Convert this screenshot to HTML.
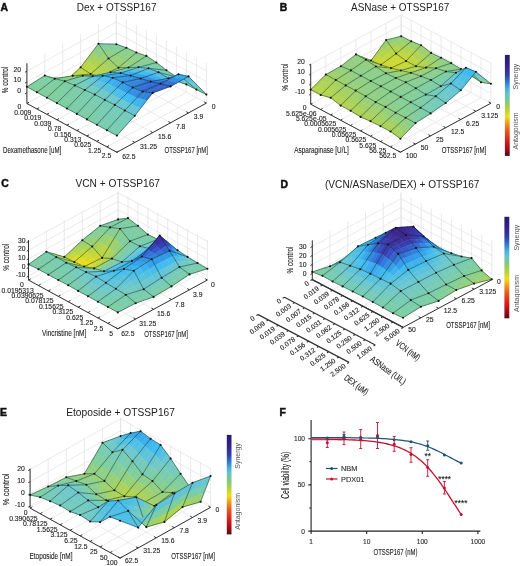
<!DOCTYPE html>
<html><head><meta charset="utf-8"><style>
html,body{margin:0;padding:0;background:#fff;}
body{width:520px;height:566px;overflow:hidden;}
svg{position:absolute;left:0;top:0;font-family:"Liberation Sans",sans-serif;will-change:transform;}
text{stroke:#222;stroke-width:.12px}
text.t{stroke:none}
polygon{fill:currentColor;stroke:currentColor;stroke-width:.5}
</style></head><body>
<svg width="520" height="566" viewBox="0 0 520 566">
<rect width="520" height="566" fill="#fff"/>
<path d="M116.4 54.3L116.4 14.1M98.5 64.1L98.5 23.9M80.6 74.0L80.6 33.8M62.7 83.8L62.7 43.6M44.8 93.7L44.8 53.5M26.9 103.5L26.9 63.3M116.4 43.5L26.9 92.8M116.4 32.8L26.9 82.0M116.4 22.0L26.9 71.2M116.4 54.3L116.4 14.1M126.4 59.7L126.4 19.5M136.4 65.1L136.4 24.9M146.4 70.6L146.4 30.4M156.4 76.0L156.4 35.8M166.4 81.4L166.4 41.2M176.4 86.8L176.4 46.6M186.4 92.2L186.4 52.0M196.4 97.7L196.4 57.5M206.4 103.1L206.4 62.9M116.4 43.5L206.4 92.3M116.4 32.8L206.4 81.6M116.4 22.0L206.4 70.8M116.4 54.3L26.9 103.5M126.4 59.7L36.9 108.9M136.4 65.1L46.9 114.3M146.4 70.6L56.9 119.8M156.4 76.0L66.9 125.2M166.4 81.4L76.9 130.6M176.4 86.8L86.9 136.0M186.4 92.2L96.9 141.4M196.4 97.7L106.9 146.9M206.4 103.1L116.9 152.3M116.4 54.3L206.4 103.1M98.5 64.1L188.5 112.9M80.6 74.0L170.6 122.8M62.7 83.8L152.7 132.6M44.8 93.7L134.8 142.4M26.9 103.5L116.9 152.3" stroke="#e4e0e0" stroke-width="0.7" fill="none"/>
<path d="M26.9 63.3L26.9 103.5M26.9 103.5L116.9 152.3L206.4 103.1M26.9 92.8l-1.8 1.0M26.9 82.0l-1.8 1.0M26.9 71.2l-1.8 1.0M26.9 103.5l2.1 -1.2M36.9 108.9l2.1 -1.2M46.9 114.3l2.1 -1.2M56.9 119.8l2.1 -1.2M66.9 125.2l2.1 -1.2M76.9 130.6l2.1 -1.2M86.9 136.0l2.1 -1.2M96.9 141.4l2.1 -1.2M106.9 146.9l2.1 -1.2M116.9 152.3l2.1 -1.2M206.4 103.1l-2.2 -1.2M188.5 112.9l-2.2 -1.2M170.6 122.8l-2.2 -1.2M152.7 132.6l-2.2 -1.2M134.8 142.4l-2.2 -1.2M116.9 152.3l-2.2 -1.2" stroke="#333" stroke-width="1" fill="none"/>
<polygon points="116.4,44.2 119.7,45.4 113.8,46.5 110.4,44" color="#7bcda8"/>
<polygon points="110.4,44 113.8,46.5 107.8,47.6 104.5,43.9" color="#7dcda4"/>
<polygon points="104.5,43.9 107.8,47.6 101.8,48.6 98.5,43.7" color="#7ecea0"/>
<polygon points="119.7,45.4 123.1,46.6 117.1,48.9 113.8,46.5" color="#7ecea1"/>
<polygon points="113.8,46.5 117.1,48.9 111.1,51.2 107.8,47.6" color="#82ce9a"/>
<polygon points="107.8,47.6 111.1,51.2 105.2,53.6 101.8,48.6" color="#87ce93"/>
<polygon points="123.1,46.6 126.4,47.8 120.4,51.4 117.1,48.9" color="#83ce99"/>
<polygon points="117.1,48.9 120.4,51.4 114.5,54.9 111.1,51.2" color="#89cf8f"/>
<polygon points="111.1,51.2 114.5,54.9 108.5,58.5 105.2,53.6" color="#90cf85"/>
<path d="M116.4 44.2L126.4 47.8M116.4 44.2L98.5 43.7" stroke="#001810" stroke-opacity="0.5" stroke-width="0.9" fill="none"/>
<circle cx="116.4" cy="44.2" r="1.05" fill="#111"/>
<polygon points="126.4,47.8 129.7,49.3 123.8,53.4 120.4,51.4" color="#87ce93"/>
<polygon points="120.4,51.4 123.8,53.4 117.8,57.5 114.5,54.9" color="#8ecf88"/>
<polygon points="114.5,54.9 117.8,57.5 111.8,61.5 108.5,58.5" color="#96d07b"/>
<polygon points="129.7,49.3 133.1,50.9 127.1,55.5 123.8,53.4" color="#89cf8f"/>
<polygon points="123.8,53.4 127.1,55.5 121.1,60 117.8,57.5" color="#91cf84"/>
<polygon points="117.8,57.5 121.1,60 115.2,64.6 111.8,61.5" color="#99d077"/>
<polygon points="133.1,50.9 136.4,52.5 130.4,57.5 127.1,55.5" color="#8ccf8b"/>
<polygon points="127.1,55.5 130.4,57.5 124.5,62.6 121.1,60" color="#94cf80"/>
<polygon points="121.1,60 124.5,62.6 118.5,67.7 115.2,64.6" color="#9bd072"/>
<path d="M126.4 47.8L108.5 58.5M126.4 47.8L136.4 52.5" stroke="#001810" stroke-opacity="0.5" stroke-width="0.9" fill="none"/>
<circle cx="126.4" cy="47.8" r="1.05" fill="#111"/>
<polygon points="98.5,43.7 101.8,48.6 95.9,55.6 92.5,51.6" color="#8bcf8c"/>
<polygon points="92.5,51.6 95.9,55.6 89.9,62.6 86.6,59.4" color="#a4d164"/>
<polygon points="86.6,59.4 89.9,62.6 83.9,69.6 80.6,67.3" color="#b8d549"/>
<polygon points="101.8,48.6 105.2,53.6 99.2,59.6 95.9,55.6" color="#94cf7e"/>
<polygon points="95.9,55.6 99.2,59.6 93.2,65.7 89.9,62.6" color="#a9d25a"/>
<polygon points="89.9,62.6 93.2,65.7 87.3,71.8 83.9,69.6" color="#bad645"/>
<polygon points="105.2,53.6 108.5,58.5 102.5,63.7 99.2,59.6" color="#9dd16f"/>
<polygon points="99.2,59.6 102.5,63.7 96.6,68.8 93.2,65.7" color="#aed354"/>
<polygon points="93.2,65.7 96.6,68.8 90.6,74 87.3,71.8" color="#bed641"/>
<path d="M98.5 43.7L108.5 58.5M98.5 43.7L80.6 67.3" stroke="#001810" stroke-opacity="0.5" stroke-width="0.9" fill="none"/>
<circle cx="98.5" cy="43.7" r="1.05" fill="#111"/>
<polygon points="136.4,52.5 139.7,53.6 133.8,58.3 130.4,57.5" color="#8dcf8a"/>
<polygon points="130.4,57.5 133.8,58.3 127.8,62.9 124.5,62.6" color="#94cf80"/>
<polygon points="124.5,62.6 127.8,62.9 121.8,67.6 118.5,67.7" color="#9ad074"/>
<polygon points="139.7,53.6 143.1,54.8 137.1,59 133.8,58.3" color="#8ccf8b"/>
<polygon points="133.8,58.3 137.1,59 131.1,63.3 127.8,62.9" color="#91cf84"/>
<polygon points="127.8,62.9 131.1,63.3 125.2,67.6 121.8,67.6" color="#96d07b"/>
<polygon points="143.1,54.8 146.4,55.9 140.4,59.8 137.1,59" color="#8bcf8d"/>
<polygon points="137.1,59 140.4,59.8 134.5,63.6 131.1,63.3" color="#8ecf88"/>
<polygon points="131.1,63.3 134.5,63.6 128.5,67.5 125.2,67.6" color="#92cf83"/>
<path d="M136.4 52.5L118.5 67.7M136.4 52.5L146.4 55.9" stroke="#001810" stroke-opacity="0.5" stroke-width="0.9" fill="none"/>
<circle cx="136.4" cy="52.5" r="1.05" fill="#111"/>
<polygon points="108.5,58.5 111.8,61.5 105.9,66 102.5,63.7" color="#a2d166"/>
<polygon points="102.5,63.7 105.9,66 99.9,70.4 96.6,68.8" color="#b0d452"/>
<polygon points="96.6,68.8 99.9,70.4 93.9,74.8 90.6,74" color="#bdd643"/>
<polygon points="111.8,61.5 115.2,64.6 109.2,68.2 105.9,66" color="#a3d165"/>
<polygon points="105.9,66 109.2,68.2 103.2,71.9 99.9,70.4" color="#aed355"/>
<polygon points="99.9,70.4 103.2,71.9 97.3,75.5 93.9,74.8" color="#b8d548"/>
<polygon points="115.2,64.6 118.5,67.7 112.5,70.5 109.2,68.2" color="#a4d163"/>
<polygon points="109.2,68.2 112.5,70.5 106.6,73.4 103.2,71.9" color="#acd357"/>
<polygon points="103.2,71.9 106.6,73.4 100.6,76.2 97.3,75.5" color="#b3d44e"/>
<path d="M108.5 58.5L118.5 67.7M108.5 58.5L90.6 74.0" stroke="#001810" stroke-opacity="0.5" stroke-width="0.9" fill="none"/>
<circle cx="108.5" cy="58.5" r="1.05" fill="#111"/>
<polygon points="146.4,55.9 149.7,58.1 143.8,61.2 140.4,59.8" color="#8acf8f"/>
<polygon points="140.4,59.8 143.8,61.2 137.8,64.3 134.5,63.6" color="#8acf8e"/>
<polygon points="134.5,63.6 137.8,64.3 131.8,67.4 128.5,67.5" color="#8acf8e"/>
<polygon points="149.7,58.1 153.1,60.3 147.1,62.7 143.8,61.2" color="#88ce92"/>
<polygon points="143.8,61.2 147.1,62.7 141.1,65 137.8,64.3" color="#84ce98"/>
<polygon points="137.8,64.3 141.1,65 135.2,67.4 131.8,67.4" color="#80ce9d"/>
<polygon points="153.1,60.3 156.4,62.5 150.4,64.1 147.1,62.7" color="#85ce95"/>
<polygon points="147.1,62.7 150.4,64.1 144.5,65.7 141.1,65" color="#7ecea1"/>
<polygon points="141.1,65 144.5,65.7 138.5,67.3 135.2,67.4" color="#7bcda9"/>
<path d="M146.4 55.9L128.5 67.5M146.4 55.9L156.4 62.5" stroke="#001810" stroke-opacity="0.5" stroke-width="0.9" fill="none"/>
<circle cx="146.4" cy="55.9" r="1.05" fill="#111"/>
<polygon points="80.6,67.3 83.9,69.6 78,73.4 74.6,72.8" color="#bfd740"/>
<polygon points="74.6,72.8 78,73.4 72,77.3 68.7,78.3" color="#bad645"/>
<polygon points="68.7,78.3 72,77.3 66,81.1 62.7,83.8" color="#b6d54b"/>
<polygon points="83.9,69.6 87.3,71.8 81.3,74 78,73.4" color="#c0d73e"/>
<polygon points="78,73.4 81.3,74 75.3,76.2 72,77.3" color="#bbd644"/>
<polygon points="72,77.3 75.3,76.2 69.4,78.5 66,81.1" color="#b6d54a"/>
<polygon points="87.3,71.8 90.6,74 84.6,74.6 81.3,74" color="#c2d73c"/>
<polygon points="81.3,74 84.6,74.6 78.7,75.2 75.3,76.2" color="#bcd643"/>
<polygon points="75.3,76.2 78.7,75.2 72.7,75.8 69.4,78.5" color="#b7d54a"/>
<path d="M80.6 67.3L90.6 74.0M80.6 67.3L62.7 83.8" stroke="#001810" stroke-opacity="0.5" stroke-width="0.9" fill="none"/>
<circle cx="80.6" cy="67.3" r="1.05" fill="#111"/>
<polygon points="118.5,67.7 121.8,67.6 115.9,70 112.5,70.5" color="#a1d169"/>
<polygon points="112.5,70.5 115.9,70 109.9,72.5 106.6,73.4" color="#a6d25f"/>
<polygon points="106.6,73.4 109.9,72.5 103.9,74.9 100.6,76.2" color="#abd359"/>
<polygon points="121.8,67.6 125.2,67.6 119.2,69.6 115.9,70" color="#99d076"/>
<polygon points="115.9,70 119.2,69.6 113.2,71.6 109.9,72.5" color="#9bd073"/>
<polygon points="109.9,72.5 113.2,71.6 107.3,73.6 103.9,74.9" color="#9cd071"/>
<polygon points="125.2,67.6 128.5,67.5 122.5,69.1 119.2,69.6" color="#92cf82"/>
<polygon points="119.2,69.6 122.5,69.1 116.6,70.7 113.2,71.6" color="#8fcf87"/>
<polygon points="113.2,71.6 116.6,70.7 110.6,72.3 107.3,73.6" color="#8ccf8b"/>
<path d="M118.5 67.7L128.5 67.5M118.5 67.7L100.6 76.2" stroke="#001810" stroke-opacity="0.5" stroke-width="0.9" fill="none"/>
<circle cx="118.5" cy="67.7" r="1.05" fill="#111"/>
<polygon points="156.4,62.5 159.7,65.1 153.8,66 150.4,64.1" color="#82ce99"/>
<polygon points="150.4,64.1 153.8,66 147.8,66.8 144.5,65.7" color="#7bcda8"/>
<polygon points="144.5,65.7 147.8,66.8 141.8,67.7 138.5,67.3" color="#77cbb4"/>
<polygon points="159.7,65.1 163.1,67.7 157.1,67.8 153.8,66" color="#7fce9f"/>
<polygon points="153.8,66 157.1,67.8 151.1,67.9 147.8,66.8" color="#79ccae"/>
<polygon points="147.8,66.8 151.1,67.9 145.2,68 141.8,67.7" color="#74cabd"/>
<polygon points="163.1,67.7 166.4,70.3 160.4,69.7 157.1,67.8" color="#7dcea3"/>
<polygon points="157.1,67.8 160.4,69.7 154.5,69 151.1,67.9" color="#76cbb5"/>
<polygon points="151.1,67.9 154.5,69 148.5,68.3 145.2,68" color="#70c9c7"/>
<path d="M156.4 62.5L138.5 67.3M156.4 62.5L166.4 70.3" stroke="#001810" stroke-opacity="0.5" stroke-width="0.9" fill="none"/>
<circle cx="156.4" cy="62.5" r="1.05" fill="#111"/>
<polygon points="90.6,74 93.9,74.8 88,75.1 84.6,74.6" color="#c0d73f"/>
<polygon points="84.6,74.6 88,75.1 82,75.5 78.7,75.2" color="#b9d547"/>
<polygon points="78.7,75.2 82,75.5 76,75.8 72.7,75.8" color="#b2d44f"/>
<polygon points="93.9,74.8 97.3,75.5 91.3,75.6 88,75.1" color="#b9d547"/>
<polygon points="88,75.1 91.3,75.6 85.3,75.7 82,75.5" color="#b1d451"/>
<polygon points="82,75.5 85.3,75.7 79.4,75.8 76,75.8" color="#a9d25b"/>
<polygon points="97.3,75.5 100.6,76.2 94.6,76.1 91.3,75.6" color="#b2d44f"/>
<polygon points="91.3,75.6 94.6,76.1 88.7,76 85.3,75.7" color="#a9d25b"/>
<polygon points="85.3,75.7 88.7,76 82.7,75.8 79.4,75.8" color="#9dd16f"/>
<path d="M90.6 74.0L100.6 76.2M90.6 74.0L72.7 75.8" stroke="#001810" stroke-opacity="0.5" stroke-width="0.9" fill="none"/>
<circle cx="90.6" cy="74.0" r="1.05" fill="#111"/>
<polygon points="128.5,67.5 131.8,67.4 125.9,69.1 122.5,69.1" color="#86ce94"/>
<polygon points="122.5,69.1 125.9,69.1 119.9,70.8 116.6,70.7" color="#7ecea1"/>
<polygon points="116.6,70.7 119.9,70.8 113.9,72.6 110.6,72.3" color="#7acdaa"/>
<polygon points="131.8,67.4 135.2,67.4 129.2,69.2 125.9,69.1" color="#7bcda9"/>
<polygon points="125.9,69.1 129.2,69.2 123.2,71 119.9,70.8" color="#75cabb"/>
<polygon points="119.9,70.8 123.2,71 117.3,72.8 113.9,72.6" color="#6ec8cc"/>
<polygon points="135.2,67.4 138.5,67.3 132.5,69.2 129.2,69.2" color="#75cabb"/>
<polygon points="129.2,69.2 132.5,69.2 126.6,71.2 123.2,71" color="#67c6d2"/>
<polygon points="123.2,71 126.6,71.2 120.6,73.1 117.3,72.8" color="#4fc0e5"/>
<path d="M128.5 67.5L138.5 67.3M128.5 67.5L110.6 72.3" stroke="#001810" stroke-opacity="0.5" stroke-width="0.9" fill="none"/>
<circle cx="128.5" cy="67.5" r="1.05" fill="#111"/>
<polygon points="166.4,70.3 169.7,72.6 163.8,71.6 160.4,69.7" color="#7ccda6"/>
<polygon points="160.4,69.7 163.8,71.6 157.8,70.6 154.5,69" color="#75cbb9"/>
<polygon points="154.5,69 157.8,70.6 151.8,69.6 148.5,68.3" color="#6ec8cd"/>
<polygon points="169.7,72.6 173.1,74.8 167.1,73.5 163.8,71.6" color="#7ccda6"/>
<polygon points="163.8,71.6 167.1,73.5 161.1,72.2 157.8,70.6" color="#75cabb"/>
<polygon points="157.8,70.6 161.1,72.2 155.2,71 151.8,69.6" color="#6cc8ce"/>
<polygon points="173.1,74.8 176.4,77 170.4,75.4 167.1,73.5" color="#7ccda7"/>
<polygon points="167.1,73.5 170.4,75.4 164.5,73.9 161.1,72.2" color="#74cabc"/>
<polygon points="161.1,72.2 164.5,73.9 158.5,72.3 155.2,71" color="#6ac7d0"/>
<path d="M166.4 70.3L148.5 68.3M166.4 70.3L176.4 77.0" stroke="#001810" stroke-opacity="0.5" stroke-width="0.9" fill="none"/>
<circle cx="166.4" cy="70.3" r="1.05" fill="#111"/>
<polygon points="62.7,83.8 66,81.1 60.1,79.6 56.7,81" color="#acd357"/>
<polygon points="56.7,81 60.1,79.6 54.1,78.1 50.8,78.3" color="#99d077"/>
<polygon points="50.8,78.3 54.1,78.1 48.1,76.5 44.8,75.5" color="#84ce97"/>
<polygon points="66,81.1 69.4,78.5 63.4,78.2 60.1,79.6" color="#acd357"/>
<polygon points="60.1,79.6 63.4,78.2 57.4,77.9 54.1,78.1" color="#99d077"/>
<polygon points="54.1,78.1 57.4,77.9 51.5,77.6 48.1,76.5" color="#84ce97"/>
<polygon points="69.4,78.5 72.7,75.8 66.7,76.8 63.4,78.2" color="#acd357"/>
<polygon points="63.4,78.2 66.7,76.8 60.8,77.7 57.4,77.9" color="#99d077"/>
<polygon points="57.4,77.9 60.8,77.7 54.8,78.7 51.5,77.6" color="#84ce97"/>
<path d="M62.7 83.8L72.7 75.8M62.7 83.8L44.8 75.5" stroke="#001810" stroke-opacity="0.5" stroke-width="0.9" fill="none"/>
<circle cx="62.7" cy="83.8" r="1.05" fill="#111"/>
<polygon points="100.6,76.2 103.9,74.9 98,75.3 94.6,76.1" color="#a8d25d"/>
<polygon points="94.6,76.1 98,75.3 92,75.6 88.7,76" color="#9ad074"/>
<polygon points="88.7,76 92,75.6 86,76 82.7,75.8" color="#8ccf8b"/>
<polygon points="103.9,74.9 107.3,73.6 101.3,74.5 98,75.3" color="#95d07d"/>
<polygon points="98,75.3 101.3,74.5 95.3,75.3 92,75.6" color="#86ce95"/>
<polygon points="92,75.6 95.3,75.3 89.4,76.2 86,76" color="#7bcda8"/>
<polygon points="107.3,73.6 110.6,72.3 104.6,73.6 101.3,74.5" color="#82ce9a"/>
<polygon points="101.3,74.5 104.6,73.6 98.7,75 95.3,75.3" color="#79ccae"/>
<polygon points="95.3,75.3 98.7,75 92.7,76.3 89.4,76.2" color="#73cac0"/>
<path d="M100.6 76.2L110.6 72.3M100.6 76.2L82.7 75.8" stroke="#001810" stroke-opacity="0.5" stroke-width="0.9" fill="none"/>
<circle cx="100.6" cy="76.2" r="1.05" fill="#111"/>
<polygon points="138.5,67.3 141.8,67.7 135.9,69.8 132.5,69.2" color="#70c9c8"/>
<polygon points="132.5,69.2 135.9,69.8 129.9,71.8 126.6,71.2" color="#57c2de"/>
<polygon points="126.6,71.2 129.9,71.8 123.9,73.9 120.6,73.1" color="#3fb7ef"/>
<polygon points="141.8,67.7 145.2,68 139.2,70.3 135.9,69.8" color="#69c7d1"/>
<polygon points="135.9,69.8 139.2,70.3 133.2,72.5 129.9,71.8" color="#50c0e4"/>
<polygon points="129.9,71.8 133.2,72.5 127.3,74.8 123.9,73.9" color="#3cb1ed"/>
<polygon points="145.2,68 148.5,68.3 142.5,70.8 139.2,70.3" color="#60c4d8"/>
<polygon points="139.2,70.3 142.5,70.8 136.6,73.2 133.2,72.5" color="#48beea"/>
<polygon points="133.2,72.5 136.6,73.2 130.6,75.6 127.3,74.8" color="#39abec"/>
<path d="M138.5 67.3L148.5 68.3M138.5 67.3L120.6 73.1" stroke="#001810" stroke-opacity="0.5" stroke-width="0.9" fill="none"/>
<circle cx="138.5" cy="67.3" r="1.05" fill="#111"/>
<polygon points="176.4,77 179.7,79.5 173.8,77.8 170.4,75.4" color="#7bcda7"/>
<polygon points="170.4,75.4 173.8,77.8 167.8,76 164.5,73.9" color="#74cabd"/>
<polygon points="164.5,73.9 167.8,76 161.8,74.3 158.5,72.3" color="#68c6d2"/>
<polygon points="179.7,79.5 183.1,81.9 177.1,80.1 173.8,77.8" color="#7bcda8"/>
<polygon points="173.8,77.8 177.1,80.1 171.1,78.2 167.8,76" color="#73cabf"/>
<polygon points="167.8,76 171.1,78.2 165.2,76.3 161.8,74.3" color="#66c6d3"/>
<polygon points="183.1,81.9 186.4,84.4 180.4,82.4 177.1,80.1" color="#7bcda8"/>
<polygon points="177.1,80.1 180.4,82.4 174.5,80.3 171.1,78.2" color="#73cac0"/>
<polygon points="171.1,78.2 174.5,80.3 168.5,78.3 165.2,76.3" color="#64c5d5"/>
<path d="M176.4 77.0L158.5 72.3M176.4 77.0L186.4 84.4" stroke="#001810" stroke-opacity="0.5" stroke-width="0.9" fill="none"/>
<circle cx="176.4" cy="77.0" r="1.05" fill="#111"/>
<polygon points="72.7,75.8 76,75.8 70.1,77 66.7,76.8" color="#a8d25c"/>
<polygon points="66.7,76.8 70.1,77 64.1,78.3 60.8,77.7" color="#95d07c"/>
<polygon points="60.8,77.7 64.1,78.3 58.1,79.5 54.8,78.7" color="#83ce98"/>
<polygon points="76,75.8 79.4,75.8 73.4,77.3 70.1,77" color="#9dd16f"/>
<polygon points="70.1,77 73.4,77.3 67.4,78.8 64.1,78.3" color="#8fcf87"/>
<polygon points="64.1,78.3 67.4,78.8 61.5,80.3 58.1,79.5" color="#81ce9b"/>
<polygon points="79.4,75.8 82.7,75.8 76.7,77.6 73.4,77.3" color="#92cf81"/>
<polygon points="73.4,77.3 76.7,77.6 70.8,79.4 67.4,78.8" color="#89cf90"/>
<polygon points="67.4,78.8 70.8,79.4 64.8,81.2 61.5,80.3" color="#7fce9e"/>
<path d="M72.7 75.8L82.7 75.8M72.7 75.8L54.8 78.7" stroke="#001810" stroke-opacity="0.5" stroke-width="0.9" fill="none"/>
<circle cx="72.7" cy="75.8" r="1.05" fill="#111"/>
<polygon points="110.6,72.3 113.9,72.6 108,73.8 104.6,73.6" color="#76cbb7"/>
<polygon points="104.6,73.6 108,73.8 102,75 98.7,75" color="#70c9c6"/>
<polygon points="98.7,75 102,75 96,76.2 92.7,76.3" color="#66c6d3"/>
<polygon points="113.9,72.6 117.3,72.8 111.3,73.9 108,73.8" color="#63c5d6"/>
<polygon points="108,73.8 111.3,73.9 105.3,74.9 102,75" color="#5bc3dc"/>
<polygon points="102,75 105.3,74.9 99.4,76 96,76.2" color="#54c1e1"/>
<polygon points="117.3,72.8 120.6,73.1 114.6,74 111.3,73.9" color="#43bdee"/>
<polygon points="111.3,73.9 114.6,74 108.7,74.9 105.3,74.9" color="#42bcef"/>
<polygon points="105.3,74.9 108.7,74.9 102.7,75.8 99.4,76" color="#41bcf0"/>
<path d="M110.6 72.3L120.6 73.1M110.6 72.3L92.7 76.3" stroke="#001810" stroke-opacity="0.5" stroke-width="0.9" fill="none"/>
<circle cx="110.6" cy="72.3" r="1.05" fill="#111"/>
<polygon points="148.5,68.3 151.8,69.6 145.9,72 142.5,70.8" color="#5ac3dd"/>
<polygon points="142.5,70.8 145.9,72 139.9,74.3 136.6,73.2" color="#43bcef"/>
<polygon points="136.6,73.2 139.9,74.3 133.9,76.6 130.6,75.6" color="#36a5ea"/>
<polygon points="151.8,69.6 155.2,71 149.2,73.2 145.9,72" color="#57c2df"/>
<polygon points="145.9,72 149.2,73.2 143.2,75.4 139.9,74.3" color="#40baf0"/>
<polygon points="139.9,74.3 143.2,75.4 137.3,77.6 133.9,76.6" color="#34a0e9"/>
<polygon points="155.2,71 158.5,72.3 152.5,74.4 149.2,73.2" color="#54c1e1"/>
<polygon points="149.2,73.2 152.5,74.4 146.6,76.5 143.2,75.4" color="#3eb6ee"/>
<polygon points="143.2,75.4 146.6,76.5 140.6,78.5 137.3,77.6" color="#329be8"/>
<path d="M148.5 68.3L158.5 72.3M148.5 68.3L130.6 75.6" stroke="#001810" stroke-opacity="0.5" stroke-width="0.9" fill="none"/>
<circle cx="148.5" cy="68.3" r="1.05" fill="#111"/>
<polygon points="186.4,84.4 189.7,86.1 183.8,83.1 180.4,82.4" color="#7acdaa"/>
<polygon points="180.4,82.4 183.8,83.1 177.8,80 174.5,80.3" color="#71c9c3"/>
<polygon points="174.5,80.3 177.8,80 171.8,77 168.5,78.3" color="#5fc4d8"/>
<polygon points="189.7,86.1 193.1,87.9 187.1,83.8 183.8,83.1" color="#79ccae"/>
<polygon points="183.8,83.1 187.1,83.8 181.1,79.7 177.8,80" color="#6fc9c9"/>
<polygon points="177.8,80 181.1,79.7 175.2,75.6 171.8,77" color="#59c2de"/>
<polygon points="193.1,87.9 196.4,89.6 190.4,84.5 187.1,83.8" color="#78ccb1"/>
<polygon points="187.1,83.8 190.4,84.5 184.5,79.4 181.1,79.7" color="#6dc8ce"/>
<polygon points="181.1,79.7 184.5,79.4 178.5,74.3 175.2,75.6" color="#52c1e3"/>
<path d="M186.4 84.4L168.5 78.3M186.4 84.4L196.4 89.6" stroke="#001810" stroke-opacity="0.5" stroke-width="0.9" fill="none"/>
<circle cx="186.4" cy="84.4" r="1.05" fill="#111"/>
<polygon points="44.8,75.5 48.1,76.5 42.2,80.6 38.8,79.3" color="#7dcea3"/>
<polygon points="38.8,79.3 42.2,80.6 36.2,84.6 32.9,83.1" color="#7ecea0"/>
<polygon points="32.9,83.1 36.2,84.6 30.2,88.6 26.9,86.8" color="#81ce9c"/>
<polygon points="48.1,76.5 51.5,77.6 45.5,81.9 42.2,80.6" color="#7dcea3"/>
<polygon points="42.2,80.6 45.5,81.9 39.5,86.2 36.2,84.6" color="#7ecea0"/>
<polygon points="36.2,84.6 39.5,86.2 33.6,90.5 30.2,88.6" color="#81ce9c"/>
<polygon points="51.5,77.6 54.8,78.7 48.8,83.2 45.5,81.9" color="#7dcea3"/>
<polygon points="45.5,81.9 48.8,83.2 42.9,87.7 39.5,86.2" color="#7ecea0"/>
<polygon points="39.5,86.2 42.9,87.7 36.9,92.3 33.6,90.5" color="#81ce9c"/>
<path d="M44.8 75.5L54.8 78.7M26.9 86.8L36.9 92.3M44.8 75.5L26.9 86.8" stroke="#001810" stroke-opacity="0.5" stroke-width="0.9" fill="none"/>
<circle cx="44.8" cy="75.5" r="1.05" fill="#111"/>
<circle cx="26.9" cy="86.8" r="1.05" fill="#111"/>
<polygon points="82.7,75.8 86,76 80.1,78.2 76.7,77.6" color="#83ce98"/>
<polygon points="76.7,77.6 80.1,78.2 74.1,80.4 70.8,79.4" color="#7fce9e"/>
<polygon points="70.8,79.4 74.1,80.4 68.1,82.6 64.8,81.2" color="#7dcea3"/>
<polygon points="86,76 89.4,76.2 83.4,78.8 80.1,78.2" color="#79ccaf"/>
<polygon points="80.1,78.2 83.4,78.8 77.4,81.4 74.1,80.4" color="#7accac"/>
<polygon points="74.1,80.4 77.4,81.4 71.5,84 68.1,82.6" color="#7bcdaa"/>
<polygon points="89.4,76.2 92.7,76.3 86.7,79.4 83.4,78.8" color="#71c9c4"/>
<polygon points="83.4,78.8 86.7,79.4 80.8,82.4 77.4,81.4" color="#75cbba"/>
<polygon points="77.4,81.4 80.8,82.4 74.8,85.4 71.5,84" color="#78ccb0"/>
<path d="M82.7 75.8L92.7 76.3M82.7 75.8L64.8 81.2" stroke="#001810" stroke-opacity="0.5" stroke-width="0.9" fill="none"/>
<circle cx="82.7" cy="75.8" r="1.05" fill="#111"/>
<polygon points="120.6,73.1 123.9,73.9 118,74.8 114.6,74" color="#39aaec"/>
<polygon points="114.6,74 118,74.8 112,75.6 108.7,74.9" color="#3aadec"/>
<polygon points="108.7,74.9 112,75.6 106,76.5 102.7,75.8" color="#3bb0ed"/>
<polygon points="123.9,73.9 127.3,74.8 121.3,75.5 118,74.8" color="#36a5ea"/>
<polygon points="118,74.8 121.3,75.5 115.3,76.3 112,75.6" color="#38a7eb"/>
<polygon points="112,75.6 115.3,76.3 109.4,77.1 106,76.5" color="#39aaec"/>
<polygon points="127.3,74.8 130.6,75.6 124.6,76.3 121.3,75.5" color="#349fe9"/>
<polygon points="121.3,75.5 124.6,76.3 118.7,77 115.3,76.3" color="#35a2ea"/>
<polygon points="115.3,76.3 118.7,77 112.7,77.7 109.4,77.1" color="#36a5ea"/>
<path d="M120.6 73.1L130.6 75.6M120.6 73.1L102.7 75.8" stroke="#001810" stroke-opacity="0.5" stroke-width="0.9" fill="none"/>
<circle cx="120.6" cy="73.1" r="1.05" fill="#111"/>
<polygon points="158.5,72.3 161.8,74.3 155.9,76 152.5,74.4" color="#51c0e4"/>
<polygon points="152.5,74.4 155.9,76 149.9,77.8 146.6,76.5" color="#3cb2ee"/>
<polygon points="146.6,76.5 149.9,77.8 143.9,79.6 140.6,78.5" color="#3295e5"/>
<polygon points="161.8,74.3 165.2,76.3 159.2,77.7 155.9,76" color="#4ec0e6"/>
<polygon points="155.9,76 159.2,77.7 153.2,79.2 149.9,77.8" color="#3aaeec"/>
<polygon points="149.9,77.8 153.2,79.2 147.3,80.6 143.9,79.6" color="#328fe3"/>
<polygon points="165.2,76.3 168.5,78.3 162.5,79.4 159.2,77.7" color="#4bbfe8"/>
<polygon points="159.2,77.7 162.5,79.4 156.6,80.5 153.2,79.2" color="#39a9ec"/>
<polygon points="153.2,79.2 156.6,80.5 150.6,81.6 147.3,80.6" color="#3288e1"/>
<path d="M158.5 72.3L168.5 78.3M158.5 72.3L140.6 78.5" stroke="#001810" stroke-opacity="0.5" stroke-width="0.9" fill="none"/>
<circle cx="158.5" cy="72.3" r="1.05" fill="#111"/>
<polygon points="196.4,89.6 199.7,91.3 193.8,85.8 190.4,84.5" color="#77cbb3"/>
<polygon points="190.4,84.5 193.8,85.8 187.8,80.4 184.5,79.4" color="#6ac7d0"/>
<polygon points="184.5,79.4 187.8,80.4 181.8,75 178.5,74.3" color="#4ebfe6"/>
<polygon points="199.7,91.3 203.1,92.9 197.1,87.2 193.8,85.8" color="#77cbb4"/>
<polygon points="193.8,85.8 197.1,87.2 191.1,81.4 187.8,80.4" color="#68c6d1"/>
<polygon points="187.8,80.4 191.1,81.4 185.2,75.7 181.8,75" color="#4cbfe8"/>
<polygon points="203.1,92.9 206.4,94.6 200.4,88.5 197.1,87.2" color="#77cbb4"/>
<polygon points="197.1,87.2 200.4,88.5 194.5,82.4 191.1,81.4" color="#67c6d2"/>
<polygon points="191.1,81.4 194.5,82.4 188.5,76.4 185.2,75.7" color="#4abee9"/>
<path d="M196.4 89.6L178.5 74.3M196.4 89.6L206.4 94.6M206.4 94.6L188.5 76.4" stroke="#001810" stroke-opacity="0.5" stroke-width="0.9" fill="none"/>
<circle cx="196.4" cy="89.6" r="1.05" fill="#111"/>
<circle cx="206.4" cy="94.6" r="1.05" fill="#111"/>
<polygon points="54.8,78.7 58.1,79.5 52.2,84.4 48.8,83.2" color="#7dcea3"/>
<polygon points="48.8,83.2 52.2,84.4 46.2,89.2 42.9,87.7" color="#7ecea0"/>
<polygon points="42.9,87.7 46.2,89.2 40.2,94.1 36.9,92.3" color="#81ce9c"/>
<polygon points="58.1,79.5 61.5,80.3 55.5,85.5 52.2,84.4" color="#7dcea3"/>
<polygon points="52.2,84.4 55.5,85.5 49.5,90.7 46.2,89.2" color="#7ecea0"/>
<polygon points="46.2,89.2 49.5,90.7 43.6,95.9 40.2,94.1" color="#81ce9c"/>
<polygon points="61.5,80.3 64.8,81.2 58.8,86.7 55.5,85.5" color="#7dcea3"/>
<polygon points="55.5,85.5 58.8,86.7 52.9,92.2 49.5,90.7" color="#7ecea0"/>
<polygon points="49.5,90.7 52.9,92.2 46.9,97.7 43.6,95.9" color="#81ce9c"/>
<path d="M54.8 78.7L64.8 81.2M54.8 78.7L36.9 92.3M36.9 92.3L46.9 97.7" stroke="#001810" stroke-opacity="0.5" stroke-width="0.9" fill="none"/>
<circle cx="54.8" cy="78.7" r="1.05" fill="#111"/>
<circle cx="36.9" cy="92.3" r="1.05" fill="#111"/>
<polygon points="92.7,76.3 96,76.2 90.1,79.7 86.7,79.4" color="#67c6d3"/>
<polygon points="86.7,79.4 90.1,79.7 84.1,83.3 80.8,82.4" color="#71c9c5"/>
<polygon points="80.8,82.4 84.1,83.3 78.1,86.9 74.8,85.4" color="#77cbb4"/>
<polygon points="96,76.2 99.4,76 93.4,80.1 90.1,79.7" color="#5ac3dd"/>
<polygon points="90.1,79.7 93.4,80.1 87.4,84.3 84.1,83.3" color="#6ec8cd"/>
<polygon points="84.1,83.3 87.4,84.3 81.5,88.4 78.1,86.9" color="#76cbb7"/>
<polygon points="99.4,76 102.7,75.8 96.7,80.5 93.4,80.1" color="#4ebfe6"/>
<polygon points="93.4,80.1 96.7,80.5 90.8,85.3 87.4,84.3" color="#66c6d3"/>
<polygon points="87.4,84.3 90.8,85.3 84.8,90 81.5,88.4" color="#75cbba"/>
<path d="M92.7 76.3L102.7 75.8M92.7 76.3L74.8 85.4" stroke="#001810" stroke-opacity="0.5" stroke-width="0.9" fill="none"/>
<circle cx="92.7" cy="76.3" r="1.05" fill="#111"/>
<polygon points="130.6,75.6 133.9,76.6 128,77.5 124.6,76.3" color="#3299e7"/>
<polygon points="124.6,76.3 128,77.5 122,78.4 118.7,77" color="#339ce8"/>
<polygon points="118.7,77 122,78.4 116,79.3 112.7,77.7" color="#349fe9"/>
<polygon points="133.9,76.6 137.3,77.6 131.3,78.6 128,77.5" color="#3293e5"/>
<polygon points="128,77.5 131.3,78.6 125.3,79.7 122,78.4" color="#3296e6"/>
<polygon points="122,78.4 125.3,79.7 119.4,80.8 116,79.3" color="#3299e7"/>
<polygon points="137.3,77.6 140.6,78.5 134.6,79.8 131.3,78.6" color="#328ce2"/>
<polygon points="131.3,78.6 134.6,79.8 128.7,81.1 125.3,79.7" color="#328fe3"/>
<polygon points="125.3,79.7 128.7,81.1 122.7,82.4 119.4,80.8" color="#3293e5"/>
<path d="M130.6 75.6L140.6 78.5M130.6 75.6L112.7 77.7" stroke="#001810" stroke-opacity="0.5" stroke-width="0.9" fill="none"/>
<circle cx="130.6" cy="75.6" r="1.05" fill="#111"/>
<polygon points="168.5,78.3 171.8,77 165.9,78.7 162.5,79.4" color="#46bdec"/>
<polygon points="162.5,79.4 165.9,78.7 159.9,80.5 156.6,80.5" color="#36a4ea"/>
<polygon points="156.6,80.5 159.9,80.5 153.9,82.3 150.6,81.6" color="#3282de"/>
<polygon points="171.8,77 175.2,75.6 169.2,78.1 165.9,78.7" color="#40baf0"/>
<polygon points="165.9,78.7 169.2,78.1 163.2,80.5 159.9,80.5" color="#339de8"/>
<polygon points="159.9,80.5 163.2,80.5 157.3,82.9 153.9,82.3" color="#327adb"/>
<polygon points="175.2,75.6 178.5,74.3 172.5,77.4 169.2,78.1" color="#3db2ee"/>
<polygon points="169.2,78.1 172.5,77.4 166.6,80.5 163.2,80.5" color="#3295e6"/>
<polygon points="163.2,80.5 166.6,80.5 160.6,83.6 157.3,82.9" color="#3273d8"/>
<path d="M168.5 78.3L178.5 74.3M168.5 78.3L150.6 81.6" stroke="#001810" stroke-opacity="0.5" stroke-width="0.9" fill="none"/>
<circle cx="168.5" cy="78.3" r="1.05" fill="#111"/>
<polygon points="64.8,81.2 68.1,82.6 62.2,88.2 58.8,86.7" color="#7dcda4"/>
<polygon points="58.8,86.7 62.2,88.2 56.2,93.9 52.9,92.2" color="#7ecea1"/>
<polygon points="52.9,92.2 56.2,93.9 50.2,99.5 46.9,97.7" color="#80ce9d"/>
<polygon points="68.1,82.6 71.5,84 65.5,89.8 62.2,88.2" color="#7ccda6"/>
<polygon points="62.2,88.2 65.5,89.8 59.5,95.5 56.2,93.9" color="#7dcea2"/>
<polygon points="56.2,93.9 59.5,95.5 53.6,101.3 50.2,99.5" color="#80ce9d"/>
<polygon points="71.5,84 74.8,85.4 68.8,91.3 65.5,89.8" color="#7bcda8"/>
<polygon points="65.5,89.8 68.8,91.3 62.9,97.2 59.5,95.5" color="#7dcea3"/>
<polygon points="59.5,95.5 62.9,97.2 56.9,103.1 53.6,101.3" color="#7fce9e"/>
<path d="M64.8 81.2L74.8 85.4M64.8 81.2L46.9 97.7M46.9 97.7L56.9 103.1" stroke="#001810" stroke-opacity="0.5" stroke-width="0.9" fill="none"/>
<circle cx="64.8" cy="81.2" r="1.05" fill="#111"/>
<circle cx="46.9" cy="97.7" r="1.05" fill="#111"/>
<polygon points="102.7,75.8 106,76.5 100.1,81.5 96.7,80.5" color="#45bded"/>
<polygon points="96.7,80.5 100.1,81.5 94.1,86.5 90.8,85.3" color="#61c4d7"/>
<polygon points="90.8,85.3 94.1,86.5 88.1,91.5 84.8,90" color="#74cabd"/>
<polygon points="106,76.5 109.4,77.1 103.4,82.4 100.1,81.5" color="#41bbf0"/>
<polygon points="100.1,81.5 103.4,82.4 97.4,87.7 94.1,86.5" color="#5dc4da"/>
<polygon points="94.1,86.5 97.4,87.7 91.5,93.1 88.1,91.5" color="#73cac0"/>
<polygon points="109.4,77.1 112.7,77.7 106.7,83.3 103.4,82.4" color="#3eb6ef"/>
<polygon points="103.4,82.4 106.7,83.3 100.8,89 97.4,87.7" color="#59c2dd"/>
<polygon points="97.4,87.7 100.8,89 94.8,94.6 91.5,93.1" color="#71c9c3"/>
<path d="M102.7 75.8L112.7 77.7M102.7 75.8L84.8 90.0" stroke="#001810" stroke-opacity="0.5" stroke-width="0.9" fill="none"/>
<circle cx="102.7" cy="75.8" r="1.05" fill="#111"/>
<polygon points="140.6,78.5 143.9,79.6 138,81.1 134.6,79.8" color="#3285df"/>
<polygon points="134.6,79.8 138,81.1 132,82.6 128.7,81.1" color="#3289e1"/>
<polygon points="128.7,81.1 132,82.6 126,84.1 122.7,82.4" color="#328ce2"/>
<polygon points="143.9,79.6 147.3,80.6 141.3,82.3 138,81.1" color="#327fdd"/>
<polygon points="138,81.1 141.3,82.3 135.3,84 132,82.6" color="#3282de"/>
<polygon points="132,82.6 135.3,84 129.4,85.8 126,84.1" color="#3285df"/>
<polygon points="147.3,80.6 150.6,81.6 144.6,83.6 141.3,82.3" color="#3278da"/>
<polygon points="141.3,82.3 144.6,83.6 138.7,85.5 135.3,84" color="#327bdb"/>
<polygon points="135.3,84 138.7,85.5 132.7,87.5 129.4,85.8" color="#327fdd"/>
<path d="M140.6 78.5L150.6 81.6M140.6 78.5L122.7 82.4" stroke="#001810" stroke-opacity="0.5" stroke-width="0.9" fill="none"/>
<circle cx="140.6" cy="78.5" r="1.05" fill="#111"/>
<polygon points="178.5,74.3 181.8,75 175.9,78.2 172.5,77.4" color="#3aadec"/>
<polygon points="172.5,77.4 175.9,78.2 169.9,81.3 166.6,80.5" color="#3290e4"/>
<polygon points="166.6,80.5 169.9,81.3 163.9,84.5 160.6,83.6" color="#326fd7"/>
<polygon points="181.8,75 185.2,75.7 179.2,78.9 175.9,78.2" color="#39abec"/>
<polygon points="175.9,78.2 179.2,78.9 173.2,82.2 169.9,81.3" color="#328fe3"/>
<polygon points="169.9,81.3 173.2,82.2 167.3,85.5 163.9,84.5" color="#326fd6"/>
<polygon points="185.2,75.7 188.5,76.4 182.5,79.7 179.2,78.9" color="#38a9eb"/>
<polygon points="179.2,78.9 182.5,79.7 176.6,83.1 173.2,82.2" color="#328de2"/>
<polygon points="173.2,82.2 176.6,83.1 170.6,86.4 167.3,85.5" color="#326ed6"/>
<path d="M178.5 74.3L188.5 76.4M178.5 74.3L160.6 83.6M188.5 76.4L170.6 86.4" stroke="#001810" stroke-opacity="0.5" stroke-width="0.9" fill="none"/>
<circle cx="178.5" cy="74.3" r="1.05" fill="#111"/>
<circle cx="188.5" cy="76.4" r="1.05" fill="#111"/>
<polygon points="74.8,85.4 78.1,86.9 72.2,92.9 68.8,91.3" color="#7bcdaa"/>
<polygon points="68.8,91.3 72.2,92.9 66.2,98.9 62.9,97.2" color="#7ccda5"/>
<polygon points="62.9,97.2 66.2,98.9 60.2,104.9 56.9,103.1" color="#7ecea0"/>
<polygon points="78.1,86.9 81.5,88.4 75.5,94.5 72.2,92.9" color="#7acdaa"/>
<polygon points="72.2,92.9 75.5,94.5 69.5,100.6 66.2,98.9" color="#7ccda6"/>
<polygon points="66.2,98.9 69.5,100.6 63.6,106.7 60.2,104.9" color="#7dcea2"/>
<polygon points="81.5,88.4 84.8,90 78.8,96.2 75.5,94.5" color="#7acdab"/>
<polygon points="75.5,94.5 78.8,96.2 72.9,102.3 69.5,100.6" color="#7bcda8"/>
<polygon points="69.5,100.6 72.9,102.3 66.9,108.5 63.6,106.7" color="#7ccda4"/>
<path d="M74.8 85.4L84.8 90.0M74.8 85.4L56.9 103.1M56.9 103.1L66.9 108.5" stroke="#001810" stroke-opacity="0.5" stroke-width="0.9" fill="none"/>
<circle cx="74.8" cy="85.4" r="1.05" fill="#111"/>
<circle cx="56.9" cy="103.1" r="1.05" fill="#111"/>
<polygon points="112.7,77.7 116,79.3 110.1,85 106.7,83.3" color="#3cb1ed"/>
<polygon points="106.7,83.3 110.1,85 104.1,90.7 100.8,89" color="#56c2df"/>
<polygon points="100.8,89 104.1,90.7 98.1,96.4 94.8,94.6" color="#71c9c5"/>
<polygon points="116,79.3 119.4,80.8 113.4,86.6 110.1,85" color="#3aadec"/>
<polygon points="110.1,85 113.4,86.6 107.4,92.4 104.1,90.7" color="#54c1e1"/>
<polygon points="104.1,90.7 107.4,92.4 101.5,98.2 98.1,96.4" color="#70c9c6"/>
<polygon points="119.4,80.8 122.7,82.4 116.7,88.2 113.4,86.6" color="#38a8eb"/>
<polygon points="113.4,86.6 116.7,88.2 110.8,94.1 107.4,92.4" color="#51c0e3"/>
<polygon points="107.4,92.4 110.8,94.1 104.8,99.9 101.5,98.2" color="#70c9c7"/>
<path d="M112.7 77.7L122.7 82.4M112.7 77.7L94.8 94.6" stroke="#001810" stroke-opacity="0.5" stroke-width="0.9" fill="none"/>
<circle cx="112.7" cy="77.7" r="1.05" fill="#111"/>
<polygon points="150.6,81.6 153.9,82.3 148,84.4 144.6,83.6" color="#3271d7"/>
<polygon points="144.6,83.6 148,84.4 142,86.6 138.7,85.5" color="#3275d9"/>
<polygon points="138.7,85.5 142,86.6 136,88.8 132.7,87.5" color="#3278da"/>
<polygon points="153.9,82.3 157.3,82.9 151.3,85.3 148,84.4" color="#326bd5"/>
<polygon points="148,84.4 151.3,85.3 145.3,87.7 142,86.6" color="#326ed6"/>
<polygon points="142,86.6 145.3,87.7 139.4,90.1 136,88.8" color="#3271d7"/>
<polygon points="157.3,82.9 160.6,83.6 154.6,86.2 151.3,85.3" color="#3266d1"/>
<polygon points="151.3,85.3 154.6,86.2 148.7,88.9 145.3,87.7" color="#3268d3"/>
<polygon points="145.3,87.7 148.7,88.9 142.7,91.5 139.4,90.1" color="#326bd5"/>
<path d="M150.6 81.6L160.6 83.6M150.6 81.6L132.7 87.5" stroke="#001810" stroke-opacity="0.5" stroke-width="0.9" fill="none"/>
<circle cx="150.6" cy="81.6" r="1.05" fill="#111"/>
<polygon points="84.8,90 88.1,91.5 82.2,97.8 78.8,96.2" color="#7accac"/>
<polygon points="78.8,96.2 82.2,97.8 76.2,104.1 72.9,102.3" color="#7bcda9"/>
<polygon points="72.9,102.3 76.2,104.1 70.2,110.3 66.9,108.5" color="#7ccda6"/>
<polygon points="88.1,91.5 91.5,93.1 85.5,99.4 82.2,97.8" color="#79ccae"/>
<polygon points="82.2,97.8 85.5,99.4 79.5,105.8 76.2,104.1" color="#7acdaa"/>
<polygon points="76.2,104.1 79.5,105.8 73.6,112.1 70.2,110.3" color="#7ccda6"/>
<polygon points="91.5,93.1 94.8,94.6 88.8,101.1 85.5,99.4" color="#78ccb1"/>
<polygon points="85.5,99.4 88.8,101.1 82.9,107.5 79.5,105.8" color="#7accac"/>
<polygon points="79.5,105.8 82.9,107.5 76.9,113.9 73.6,112.1" color="#7ccda7"/>
<path d="M84.8 90.0L94.8 94.6M84.8 90.0L66.9 108.5M66.9 108.5L76.9 113.9" stroke="#001810" stroke-opacity="0.5" stroke-width="0.9" fill="none"/>
<circle cx="84.8" cy="90.0" r="1.05" fill="#111"/>
<circle cx="66.9" cy="108.5" r="1.05" fill="#111"/>
<polygon points="122.7,82.4 126,84.1 120.1,89.9 116.7,88.2" color="#36a3ea"/>
<polygon points="116.7,88.2 120.1,89.9 114.1,95.8 110.8,94.1" color="#4ec0e6"/>
<polygon points="110.8,94.1 114.1,95.8 108.1,101.6 104.8,99.9" color="#6fc9c9"/>
<polygon points="126,84.1 129.4,85.8 123.4,91.6 120.1,89.9" color="#349ee9"/>
<polygon points="120.1,89.9 123.4,91.6 117.4,97.4 114.1,95.8" color="#4abee9"/>
<polygon points="114.1,95.8 117.4,97.4 111.5,103.3 108.1,101.6" color="#6ec8cc"/>
<polygon points="129.4,85.8 132.7,87.5 126.7,93.3 123.4,91.6" color="#3299e7"/>
<polygon points="123.4,91.6 126.7,93.3 120.8,99.1 117.4,97.4" color="#47beec"/>
<polygon points="117.4,97.4 120.8,99.1 114.8,104.9 111.5,103.3" color="#6cc7cf"/>
<path d="M122.7 82.4L132.7 87.5M122.7 82.4L104.8 99.9" stroke="#001810" stroke-opacity="0.5" stroke-width="0.9" fill="none"/>
<circle cx="122.7" cy="82.4" r="1.05" fill="#111"/>
<polygon points="160.6,83.6 163.9,84.5 158,87 154.6,86.2" color="#3363cf"/>
<polygon points="154.6,86.2 158,87 152,89.5 148.7,88.9" color="#3265d1"/>
<polygon points="148.7,88.9 152,89.5 146,92 142.7,91.5" color="#3267d2"/>
<polygon points="163.9,84.5 167.3,85.5 161.3,87.8 158,87" color="#3363cf"/>
<polygon points="158,87 161.3,87.8 155.3,90.1 152,89.5" color="#3364d0"/>
<polygon points="152,89.5 155.3,90.1 149.4,92.5 146,92" color="#3265d1"/>
<polygon points="167.3,85.5 170.6,86.4 164.6,88.6 161.3,87.8" color="#3363ce"/>
<polygon points="161.3,87.8 164.6,88.6 158.7,90.8 155.3,90.1" color="#3363cf"/>
<polygon points="155.3,90.1 158.7,90.8 152.7,92.9 149.4,92.5" color="#3363cf"/>
<path d="M160.6 83.6L170.6 86.4M160.6 83.6L142.7 91.5M170.6 86.4L152.7 92.9" stroke="#001810" stroke-opacity="0.5" stroke-width="0.9" fill="none"/>
<circle cx="160.6" cy="83.6" r="1.05" fill="#111"/>
<circle cx="170.6" cy="86.4" r="1.05" fill="#111"/>
<polygon points="94.8,94.6 98.1,96.4 92.2,102.9 88.8,101.1" color="#78ccb2"/>
<polygon points="88.8,101.1 92.2,102.9 86.2,109.3 82.9,107.5" color="#7accac"/>
<polygon points="82.9,107.5 86.2,109.3 80.2,115.7 76.9,113.9" color="#7ccda7"/>
<polygon points="98.1,96.4 101.5,98.2 95.5,104.6 92.2,102.9" color="#78ccb2"/>
<polygon points="92.2,102.9 95.5,104.6 89.5,111.1 86.2,109.3" color="#7accac"/>
<polygon points="86.2,109.3 89.5,111.1 83.6,117.6 80.2,115.7" color="#7ccda7"/>
<polygon points="101.5,98.2 104.8,99.9 98.8,106.4 95.5,104.6" color="#78ccb2"/>
<polygon points="95.5,104.6 98.8,106.4 92.9,112.9 89.5,111.1" color="#7accac"/>
<polygon points="89.5,111.1 92.9,112.9 86.9,119.4 83.6,117.6" color="#7ccda7"/>
<path d="M94.8 94.6L104.8 99.9M94.8 94.6L76.9 113.9M76.9 113.9L86.9 119.4" stroke="#001810" stroke-opacity="0.5" stroke-width="0.9" fill="none"/>
<circle cx="94.8" cy="94.6" r="1.05" fill="#111"/>
<circle cx="76.9" cy="113.9" r="1.05" fill="#111"/>
<polygon points="132.7,87.5 136,88.8 130.1,94.8 126.7,93.3" color="#3293e5"/>
<polygon points="126.7,93.3 130.1,94.8 124.1,100.8 120.8,99.1" color="#44bdee"/>
<polygon points="120.8,99.1 124.1,100.8 118.1,106.8 114.8,104.9" color="#6ac7d0"/>
<polygon points="136,88.8 139.4,90.1 133.4,96.3 130.1,94.8" color="#328ee3"/>
<polygon points="130.1,94.8 133.4,96.3 127.4,102.5 124.1,100.8" color="#41bcf0"/>
<polygon points="124.1,100.8 127.4,102.5 121.5,108.6 118.1,106.8" color="#69c7d1"/>
<polygon points="139.4,90.1 142.7,91.5 136.7,97.8 133.4,96.3" color="#3288e0"/>
<polygon points="133.4,96.3 136.7,97.8 130.8,104.1 127.4,102.5" color="#40b9ef"/>
<polygon points="127.4,102.5 130.8,104.1 124.8,110.5 121.5,108.6" color="#68c6d2"/>
<path d="M132.7 87.5L142.7 91.5M132.7 87.5L114.8 104.9" stroke="#001810" stroke-opacity="0.5" stroke-width="0.9" fill="none"/>
<circle cx="132.7" cy="87.5" r="1.05" fill="#111"/>
<polygon points="104.8,99.9 108.1,101.6 102.2,108.1 98.8,106.4" color="#77cbb3"/>
<polygon points="98.8,106.4 102.2,108.1 96.2,114.6 92.9,112.9" color="#79ccae"/>
<polygon points="92.9,112.9 96.2,114.6 90.2,121.2 86.9,119.4" color="#7bcda8"/>
<polygon points="108.1,101.6 111.5,103.3 105.5,109.8 102.2,108.1" color="#76cbb6"/>
<polygon points="102.2,108.1 105.5,109.8 99.5,116.4 96.2,114.6" color="#78ccb0"/>
<polygon points="96.2,114.6 99.5,116.4 93.6,123 90.2,121.2" color="#7acdab"/>
<polygon points="111.5,103.3 114.8,104.9 108.8,111.6 105.5,109.8" color="#75cbb9"/>
<polygon points="105.5,109.8 108.8,111.6 102.9,118.2 99.5,116.4" color="#77cbb3"/>
<polygon points="99.5,116.4 102.9,118.2 96.9,124.8 93.6,123" color="#79ccae"/>
<path d="M104.8 99.9L114.8 104.9M104.8 99.9L86.9 119.4M86.9 119.4L96.9 124.8" stroke="#001810" stroke-opacity="0.5" stroke-width="0.9" fill="none"/>
<circle cx="104.8" cy="99.9" r="1.05" fill="#111"/>
<circle cx="86.9" cy="119.4" r="1.05" fill="#111"/>
<polygon points="142.7,91.5 146,92 140.1,98.7 136.7,97.8" color="#3284df"/>
<polygon points="136.7,97.8 140.1,98.7 134.1,105.5 130.8,104.1" color="#3eb6ef"/>
<polygon points="130.8,104.1 134.1,105.5 128.1,112.2 124.8,110.5" color="#67c6d3"/>
<polygon points="146,92 149.4,92.5 143.4,99.6 140.1,98.7" color="#3280dd"/>
<polygon points="140.1,98.7 143.4,99.6 137.4,106.8 134.1,105.5" color="#3db4ee"/>
<polygon points="134.1,105.5 137.4,106.8 131.5,113.9 128.1,112.2" color="#64c5d5"/>
<polygon points="149.4,92.5 152.7,92.9 146.7,100.5 143.4,99.6" color="#327ddc"/>
<polygon points="143.4,99.6 146.7,100.5 140.8,108.1 137.4,106.8" color="#3cb1ed"/>
<polygon points="137.4,106.8 140.8,108.1 134.8,115.7 131.5,113.9" color="#62c5d7"/>
<path d="M142.7 91.5L152.7 92.9M142.7 91.5L124.8 110.5M152.7 92.9L134.8 115.7" stroke="#001810" stroke-opacity="0.5" stroke-width="0.9" fill="none"/>
<circle cx="142.7" cy="91.5" r="1.05" fill="#111"/>
<circle cx="152.7" cy="92.9" r="1.05" fill="#111"/>
<polygon points="114.8,104.9 118.1,106.8 112.2,113.4 108.8,111.6" color="#75cbba"/>
<polygon points="108.8,111.6 112.2,113.4 106.2,120 102.9,118.2" color="#77cbb4"/>
<polygon points="102.9,118.2 106.2,120 100.2,126.6 96.9,124.8" color="#79ccaf"/>
<polygon points="118.1,106.8 121.5,108.6 115.5,115.2 112.2,113.4" color="#75cbba"/>
<polygon points="112.2,113.4 115.5,115.2 109.5,121.8 106.2,120" color="#77cbb4"/>
<polygon points="106.2,120 109.5,121.8 103.6,128.4 100.2,126.6" color="#79ccaf"/>
<polygon points="121.5,108.6 124.8,110.5 118.8,117 115.5,115.2" color="#75cbba"/>
<polygon points="115.5,115.2 118.8,117 112.9,123.6 109.5,121.8" color="#77cbb4"/>
<polygon points="109.5,121.8 112.9,123.6 106.9,130.2 103.6,128.4" color="#79ccaf"/>
<path d="M114.8 104.9L124.8 110.5M114.8 104.9L96.9 124.8M96.9 124.8L106.9 130.2" stroke="#001810" stroke-opacity="0.5" stroke-width="0.9" fill="none"/>
<circle cx="114.8" cy="104.9" r="1.05" fill="#111"/>
<circle cx="96.9" cy="124.8" r="1.05" fill="#111"/>
<polygon points="124.8,110.5 128.1,112.2 122.2,118.8 118.8,117" color="#74cabb"/>
<polygon points="118.8,117 122.2,118.8 116.2,125.4 112.9,123.6" color="#76cbb5"/>
<polygon points="112.9,123.6 116.2,125.4 110.2,132 106.9,130.2" color="#79ccaf"/>
<polygon points="128.1,112.2 131.5,113.9 125.5,120.6 122.2,118.8" color="#74cabd"/>
<polygon points="122.2,118.8 125.5,120.6 119.5,127.2 116.2,125.4" color="#76cbb7"/>
<polygon points="116.2,125.4 119.5,127.2 113.6,133.8 110.2,132" color="#78ccb0"/>
<polygon points="131.5,113.9 134.8,115.7 128.8,122.3 125.5,120.6" color="#73cac0"/>
<polygon points="125.5,120.6 128.8,122.3 122.9,129 119.5,127.2" color="#76cbb8"/>
<polygon points="119.5,127.2 122.9,129 116.9,135.6 113.6,133.8" color="#78ccb0"/>
<path d="M124.8 110.5L134.8 115.7M124.8 110.5L106.9 130.2M106.9 130.2L116.9 135.6M134.8 115.7L116.9 135.6" stroke="#001810" stroke-opacity="0.5" stroke-width="0.9" fill="none"/>
<circle cx="124.8" cy="110.5" r="1.05" fill="#111"/>
<circle cx="134.8" cy="115.7" r="1.05" fill="#111"/>
<circle cx="106.9" cy="130.2" r="1.05" fill="#111"/>
<circle cx="116.9" cy="135.6" r="1.05" fill="#111"/>
<path d="M401.2 55.1L401.2 15.1M386.1 63.3L386.1 23.3M371.0 71.5L371.0 31.5M356.0 79.6L356.0 39.6M340.9 87.8L340.9 47.8M325.8 96.0L325.8 56.0M310.7 104.2L310.7 64.2M401.2 45.1L310.7 94.2M401.2 35.1L310.7 84.2M401.2 25.1L310.7 74.2M401.2 15.1L310.7 64.2M401.2 55.1L401.2 15.1M411.2 60.4L411.2 20.4M421.1 65.8L421.1 25.8M431.1 71.1L431.1 31.1M441.1 76.5L441.1 36.5M451.1 81.8L451.1 41.8M461.0 87.1L461.0 47.1M471.0 92.5L471.0 52.5M481.0 97.8L481.0 57.8M490.9 103.2L490.9 63.2M401.2 45.1L490.9 93.2M401.2 35.1L490.9 83.2M401.2 25.1L490.9 73.2M401.2 15.1L490.9 63.2M401.2 55.1L310.7 104.2M411.2 60.4L320.7 109.5M421.1 65.8L330.7 114.9M431.1 71.1L340.6 120.2M441.1 76.5L350.6 125.5M451.1 81.8L360.6 130.9M461.0 87.1L370.5 136.2M471.0 92.5L380.5 141.6M481.0 97.8L390.5 146.9M490.9 103.2L400.4 152.2M401.2 55.1L490.9 103.2M386.1 63.3L475.9 111.3M371.0 71.5L460.8 119.5M356.0 79.6L445.7 127.7M340.9 87.8L430.6 135.9M325.8 96.0L415.5 144.1M310.7 104.2L400.4 152.2" stroke="#e4e0e0" stroke-width="0.7" fill="none"/>
<path d="M310.7 64.2L310.7 104.2M310.7 104.2L400.4 152.2L490.9 103.2M310.7 94.2l-1.5 0.8M310.7 84.2l-1.5 0.8M310.7 74.2l-1.5 0.8M310.7 64.2l-1.5 0.8M310.7 104.2l1.8 -1.0M320.7 109.5l1.8 -1.0M330.7 114.9l1.8 -1.0M340.6 120.2l1.8 -1.0M350.6 125.5l1.8 -1.0M360.6 130.9l1.8 -1.0M370.5 136.2l1.8 -1.0M380.5 141.6l1.8 -1.0M390.5 146.9l1.8 -1.0M400.4 152.2l1.8 -1.0M490.9 103.2l-2.2 -1.2M475.9 111.3l-2.2 -1.2M460.8 119.5l-2.2 -1.2M445.7 127.7l-2.2 -1.2M430.6 135.9l-2.2 -1.2M415.5 144.1l-2.2 -1.2M400.4 152.2l-2.2 -1.2" stroke="#333" stroke-width="1" fill="none"/>
<polygon points="401.2,36.2 404.5,37.9 399.5,40.1 396.2,37.5" color="#93cf81"/>
<polygon points="396.2,37.5 399.5,40.1 394.5,42.3 391.1,38.7" color="#94cf7f"/>
<polygon points="391.1,38.7 394.5,42.3 389.4,44.5 386.1,40" color="#94cf7e"/>
<polygon points="404.5,37.9 407.8,39.6 402.8,42.8 399.5,40.1" color="#96d07b"/>
<polygon points="399.5,40.1 402.8,42.8 397.8,45.9 394.5,42.3" color="#9ed16e"/>
<polygon points="394.5,42.3 397.8,45.9 392.8,49.1 389.4,44.5" color="#a5d261"/>
<polygon points="407.8,39.6 411.2,41.3 406.1,45.4 402.8,42.8" color="#9ad075"/>
<polygon points="402.8,42.8 406.1,45.4 401.1,49.5 397.8,45.9" color="#a8d25d"/>
<polygon points="397.8,45.9 401.1,49.5 396.1,53.6 392.8,49.1" color="#b3d44f"/>
<path d="M401.2 36.2L411.2 41.3M401.2 36.2L386.1 40.0" stroke="#001810" stroke-opacity="0.5" stroke-width="0.9" fill="none"/>
<circle cx="401.2" cy="36.2" r="1.05" fill="#111"/>
<polygon points="411.2,41.3 414.5,42.6 409.5,47.1 406.1,45.4" color="#9cd071"/>
<polygon points="406.1,45.4 409.5,47.1 404.4,51.6 401.1,49.5" color="#add356"/>
<polygon points="401.1,49.5 404.4,51.6 399.4,56.1 396.1,53.6" color="#bbd645"/>
<polygon points="414.5,42.6 417.8,43.9 412.8,48.8 409.5,47.1" color="#9cd070"/>
<polygon points="409.5,47.1 412.8,48.8 407.8,53.6 404.4,51.6" color="#afd354"/>
<polygon points="404.4,51.6 407.8,53.6 402.7,58.5 399.4,56.1" color="#bed641"/>
<polygon points="417.8,43.9 421.1,45.2 416.1,50.4 412.8,48.8" color="#9dd16f"/>
<polygon points="412.8,48.8 416.1,50.4 411.1,55.7 407.8,53.6" color="#b1d451"/>
<polygon points="407.8,53.6 411.1,55.7 406.1,61 402.7,58.5" color="#c2d73d"/>
<path d="M411.2 41.3L396.1 53.6M411.2 41.3L421.1 45.2" stroke="#001810" stroke-opacity="0.5" stroke-width="0.9" fill="none"/>
<circle cx="411.2" cy="41.3" r="1.05" fill="#111"/>
<polygon points="386.1,40 389.4,44.5 384.4,50.3 381.1,46.8" color="#9ed16e"/>
<polygon points="381.1,46.8 384.4,50.3 379.4,56.2 376.1,53.7" color="#aed355"/>
<polygon points="376.1,53.7 379.4,56.2 374.4,62 371,60.6" color="#bcd643"/>
<polygon points="389.4,44.5 392.8,49.1 387.7,53.8 384.4,50.3" color="#aed355"/>
<polygon points="384.4,50.3 387.7,53.8 382.7,58.6 379.4,56.2" color="#b9d547"/>
<polygon points="379.4,56.2 382.7,58.6 377.7,63.4 374.4,62" color="#c4d83a"/>
<polygon points="392.8,49.1 396.1,53.6 391.1,57.3 387.7,53.8" color="#bcd643"/>
<polygon points="387.7,53.8 391.1,57.3 386,61.1 382.7,58.6" color="#c4d83a"/>
<polygon points="382.7,58.6 386,61.1 381,64.8 377.7,63.4" color="#cbd933"/>
<path d="M386.1 40.0L396.1 53.6M386.1 40.0L371.0 60.6" stroke="#001810" stroke-opacity="0.5" stroke-width="0.9" fill="none"/>
<circle cx="386.1" cy="40.0" r="1.05" fill="#111"/>
<polygon points="421.1,45.2 424.5,47.8 419.4,52.7 416.1,50.4" color="#9dd16f"/>
<polygon points="416.1,50.4 419.4,52.7 414.4,57.7 411.1,55.7" color="#b1d451"/>
<polygon points="411.1,55.7 414.4,57.7 409.4,62.7 406.1,61" color="#c2d73d"/>
<polygon points="424.5,47.8 427.8,50.3 422.8,55 419.4,52.7" color="#9cd070"/>
<polygon points="419.4,52.7 422.8,55 417.7,59.7 414.4,57.7" color="#afd354"/>
<polygon points="414.4,57.7 417.7,59.7 412.7,64.5 409.4,62.7" color="#bed641"/>
<polygon points="427.8,50.3 431.1,52.9 426.1,57.3 422.8,55" color="#9cd071"/>
<polygon points="422.8,55 426.1,57.3 421.1,61.8 417.7,59.7" color="#add356"/>
<polygon points="417.7,59.7 421.1,61.8 416,66.2 412.7,64.5" color="#bbd645"/>
<path d="M421.1 45.2L406.1 61.0M421.1 45.2L431.1 52.9" stroke="#001810" stroke-opacity="0.5" stroke-width="0.9" fill="none"/>
<circle cx="421.1" cy="45.2" r="1.05" fill="#111"/>
<polygon points="396.1,53.6 399.4,56.1 394.4,59.3 391.1,57.3" color="#c5d839"/>
<polygon points="391.1,57.3 394.4,59.3 389.4,62.6 386,61.1" color="#cad934"/>
<polygon points="386,61.1 389.4,62.6 384.3,65.9 381,64.8" color="#cfd931"/>
<polygon points="399.4,56.1 402.7,58.5 397.7,61.4 394.4,59.3" color="#c8d836"/>
<polygon points="394.4,59.3 397.7,61.4 392.7,64.2 389.4,62.6" color="#cbd934"/>
<polygon points="389.4,62.6 392.7,64.2 387.7,67 384.3,65.9" color="#ced931"/>
<polygon points="402.7,58.5 406.1,61 401,63.4 397.7,61.4" color="#cbd934"/>
<polygon points="397.7,61.4 401,63.4 396,65.7 392.7,64.2" color="#ccd933"/>
<polygon points="392.7,64.2 396,65.7 391,68.1 387.7,67" color="#cdd932"/>
<path d="M396.1 53.6L406.1 61.0M396.1 53.6L381.0 64.8" stroke="#001810" stroke-opacity="0.5" stroke-width="0.9" fill="none"/>
<circle cx="396.1" cy="53.6" r="1.05" fill="#111"/>
<polygon points="431.1,52.9 434.4,54.5 429.4,58.6 426.1,57.3" color="#9ad075"/>
<polygon points="426.1,57.3 429.4,58.6 424.4,62.6 421.1,61.8" color="#aad25a"/>
<polygon points="421.1,61.8 424.4,62.6 419.4,66.7 416,66.2" color="#b7d54a"/>
<polygon points="434.4,54.5 437.8,56.1 432.7,59.8 429.4,58.6" color="#96d07b"/>
<polygon points="429.4,58.6 432.7,59.8 427.7,63.5 424.4,62.6" color="#a5d261"/>
<polygon points="424.4,62.6 427.7,63.5 422.7,67.2 419.4,66.7" color="#b2d450"/>
<polygon points="437.8,56.1 441.1,57.7 436.1,61 432.7,59.8" color="#93cf81"/>
<polygon points="432.7,59.8 436.1,61 431,64.3 427.7,63.5" color="#a0d169"/>
<polygon points="427.7,63.5 431,64.3 426,67.6 422.7,67.2" color="#add356"/>
<path d="M431.1 52.9L416.0 66.2M431.1 52.9L441.1 57.7" stroke="#001810" stroke-opacity="0.5" stroke-width="0.9" fill="none"/>
<circle cx="431.1" cy="52.9" r="1.05" fill="#111"/>
<polygon points="371,60.6 374.4,62 369.3,60.1 366,58.5" color="#bcd644"/>
<polygon points="366,58.5 369.3,60.1 364.3,58.1 361,56.5" color="#add356"/>
<polygon points="361,56.5 364.3,58.1 359.3,56.2 356,54.4" color="#9cd071"/>
<polygon points="374.4,62 377.7,63.4 372.7,61.6 369.3,60.1" color="#c1d73e"/>
<polygon points="369.3,60.1 372.7,61.6 367.6,59.8 364.3,58.1" color="#b0d452"/>
<polygon points="364.3,58.1 367.6,59.8 362.6,58 359.3,56.2" color="#9dd16f"/>
<polygon points="377.7,63.4 381,64.8 376,63.1 372.7,61.6" color="#c6d837"/>
<polygon points="372.7,61.6 376,63.1 371,61.5 367.6,59.8" color="#b3d44e"/>
<polygon points="367.6,59.8 371,61.5 365.9,59.8 362.6,58" color="#9ed16d"/>
<path d="M371.0 60.6L381.0 64.8M371.0 60.6L356.0 54.4" stroke="#001810" stroke-opacity="0.5" stroke-width="0.9" fill="none"/>
<circle cx="371.0" cy="60.6" r="1.05" fill="#111"/>
<polygon points="406.1,61 409.4,62.7 404.4,64.8 401,63.4" color="#cad934"/>
<polygon points="401,63.4 404.4,64.8 399.3,66.8 396,65.7" color="#c9d835"/>
<polygon points="396,65.7 399.3,66.8 394.3,68.9 391,68.1" color="#c8d835"/>
<polygon points="409.4,62.7 412.7,64.5 407.7,66.2 404.4,64.8" color="#c5d838"/>
<polygon points="404.4,64.8 407.7,66.2 402.7,68 399.3,66.8" color="#c3d73b"/>
<polygon points="399.3,66.8 402.7,68 397.6,69.7 394.3,68.9" color="#c1d73d"/>
<polygon points="412.7,64.5 416,66.2 411,67.6 407.7,66.2" color="#c0d73e"/>
<polygon points="407.7,66.2 411,67.6 406,69.1 402.7,68" color="#bdd642"/>
<polygon points="402.7,68 406,69.1 400.9,70.5 397.6,69.7" color="#bad646"/>
<path d="M406.1 61.0L416.0 66.2M406.1 61.0L391.0 68.1" stroke="#001810" stroke-opacity="0.5" stroke-width="0.9" fill="none"/>
<circle cx="406.1" cy="61.0" r="1.05" fill="#111"/>
<polygon points="441.1,57.7 444.4,59.5 439.4,62.3 436.1,61" color="#90cf85"/>
<polygon points="436.1,61 439.4,62.3 434.3,65 431,64.3" color="#9bd072"/>
<polygon points="431,64.3 434.3,65 429.3,67.8 426,67.6" color="#a7d25f"/>
<polygon points="444.4,59.5 447.7,61.3 442.7,63.5 439.4,62.3" color="#8fcf87"/>
<polygon points="439.4,62.3 442.7,63.5 437.7,65.8 434.3,65" color="#96d07b"/>
<polygon points="434.3,65 437.7,65.8 432.6,68 429.3,67.8" color="#9ed16d"/>
<polygon points="447.7,61.3 451.1,63.1 446,64.8 442.7,63.5" color="#8dcf8a"/>
<polygon points="442.7,63.5 446,64.8 441,66.5 437.7,65.8" color="#91cf84"/>
<polygon points="437.7,65.8 441,66.5 436,68.2 432.6,68" color="#96d07c"/>
<path d="M441.1 57.7L426.0 67.6M441.1 57.7L451.1 63.1" stroke="#001810" stroke-opacity="0.5" stroke-width="0.9" fill="none"/>
<circle cx="441.1" cy="57.7" r="1.05" fill="#111"/>
<polygon points="381,64.8 384.3,65.9 379.3,64.6 376,63.1" color="#c7d836"/>
<polygon points="376,63.1 379.3,64.6 374.3,63.3 371,61.5" color="#b4d44d"/>
<polygon points="371,61.5 374.3,63.3 369.3,62 365.9,59.8" color="#9fd16c"/>
<polygon points="384.3,65.9 387.7,67 382.6,66.1 379.3,64.6" color="#c6d837"/>
<polygon points="379.3,64.6 382.6,66.1 377.6,65.2 374.3,63.3" color="#b3d44e"/>
<polygon points="374.3,63.3 377.6,65.2 372.6,64.3 369.3,62" color="#9ed16d"/>
<polygon points="387.7,67 391,68.1 386,67.6 382.6,66.1" color="#c4d839"/>
<polygon points="382.6,66.1 386,67.6 380.9,67.1 377.6,65.2" color="#b2d450"/>
<polygon points="377.6,65.2 380.9,67.1 375.9,66.5 372.6,64.3" color="#9ed16d"/>
<path d="M381.0 64.8L391.0 68.1M381.0 64.8L365.9 59.8" stroke="#001810" stroke-opacity="0.5" stroke-width="0.9" fill="none"/>
<circle cx="381.0" cy="64.8" r="1.05" fill="#111"/>
<polygon points="416,66.2 419.4,66.7 414.3,68.2 411,67.6" color="#bbd644"/>
<polygon points="411,67.6 414.3,68.2 409.3,69.7 406,69.1" color="#b7d549"/>
<polygon points="406,69.1 409.3,69.7 404.3,71.3 400.9,70.5" color="#b3d44e"/>
<polygon points="419.4,66.7 422.7,67.2 417.6,68.8 414.3,68.2" color="#b6d54b"/>
<polygon points="414.3,68.2 417.6,68.8 412.6,70.4 409.3,69.7" color="#b2d450"/>
<polygon points="409.3,69.7 412.6,70.4 407.6,72 404.3,71.3" color="#aed355"/>
<polygon points="422.7,67.2 426,67.6 421,69.4 417.6,68.8" color="#b0d452"/>
<polygon points="417.6,68.8 421,69.4 415.9,71.1 412.6,70.4" color="#acd357"/>
<polygon points="412.6,70.4 415.9,71.1 410.9,72.8 407.6,72" color="#a8d25c"/>
<path d="M416.0 66.2L426.0 67.6M416.0 66.2L400.9 70.5" stroke="#001810" stroke-opacity="0.5" stroke-width="0.9" fill="none"/>
<circle cx="416.0" cy="66.2" r="1.05" fill="#111"/>
<polygon points="356,54.4 359.3,56.2 354.3,60 350.9,58.4" color="#93cf81"/>
<polygon points="350.9,58.4 354.3,60 349.2,63.8 345.9,62.3" color="#93cf81"/>
<polygon points="345.9,62.3 349.2,63.8 344.2,67.6 340.9,66.2" color="#93cf81"/>
<polygon points="359.3,56.2 362.6,58 357.6,61.7 354.3,60" color="#93cf81"/>
<polygon points="354.3,60 357.6,61.7 352.6,65.3 349.2,63.8" color="#93cf81"/>
<polygon points="349.2,63.8 352.6,65.3 347.5,69 344.2,67.6" color="#93cf81"/>
<polygon points="362.6,58 365.9,59.8 360.9,63.3 357.6,61.7" color="#93cf81"/>
<polygon points="357.6,61.7 360.9,63.3 355.9,66.8 352.6,65.3" color="#93cf81"/>
<polygon points="352.6,65.3 355.9,66.8 350.9,70.4 347.5,69" color="#93cf81"/>
<path d="M356.0 54.4L365.9 59.8M356.0 54.4L340.9 66.2" stroke="#001810" stroke-opacity="0.5" stroke-width="0.9" fill="none"/>
<circle cx="356.0" cy="54.4" r="1.05" fill="#111"/>
<polygon points="451.1,63.1 454.4,65.1 449.3,66.5 446,64.8" color="#8ccf8c"/>
<polygon points="446,64.8 449.3,66.5 444.3,67.9 441,66.5" color="#8dcf89"/>
<polygon points="441,66.5 444.3,67.9 439.3,69.3 436,68.2" color="#8fcf87"/>
<polygon points="454.4,65.1 457.7,67.1 452.7,68.2 449.3,66.5" color="#8bcf8d"/>
<polygon points="449.3,66.5 452.7,68.2 447.6,69.3 444.3,67.9" color="#8bcf8d"/>
<polygon points="444.3,67.9 447.6,69.3 442.6,70.4 439.3,69.3" color="#8bcf8d"/>
<polygon points="457.7,67.1 461,69.1 456,69.9 452.7,68.2" color="#8acf8e"/>
<polygon points="452.7,68.2 456,69.9 451,70.7 447.6,69.3" color="#88cf91"/>
<polygon points="447.6,69.3 451,70.7 445.9,71.5 442.6,70.4" color="#87ce93"/>
<path d="M451.1 63.1L436.0 68.2M451.1 63.1L461.0 69.1" stroke="#001810" stroke-opacity="0.5" stroke-width="0.9" fill="none"/>
<circle cx="451.1" cy="63.1" r="1.05" fill="#111"/>
<polygon points="391,68.1 394.3,68.9 389.3,68.9 386,67.6" color="#c0d73f"/>
<polygon points="386,67.6 389.3,68.9 384.2,68.8 380.9,67.1" color="#afd353"/>
<polygon points="380.9,67.1 384.2,68.8 379.2,68.8 375.9,66.5" color="#9cd071"/>
<polygon points="394.3,68.9 397.6,69.7 392.6,70.1 389.3,68.9" color="#b9d547"/>
<polygon points="389.3,68.9 392.6,70.1 387.6,70.6 384.2,68.8" color="#aad259"/>
<polygon points="384.2,68.8 387.6,70.6 382.5,71 379.2,68.8" color="#98d078"/>
<polygon points="397.6,69.7 400.9,70.5 395.9,71.4 392.6,70.1" color="#b2d450"/>
<polygon points="392.6,70.1 395.9,71.4 390.9,72.3 387.6,70.6" color="#a4d262"/>
<polygon points="387.6,70.6 390.9,72.3 385.9,73.3 382.5,71" color="#94cf7e"/>
<path d="M391.0 68.1L400.9 70.5M391.0 68.1L375.9 66.5" stroke="#001810" stroke-opacity="0.5" stroke-width="0.9" fill="none"/>
<circle cx="391.0" cy="68.1" r="1.05" fill="#111"/>
<polygon points="426,67.6 429.3,67.8 424.3,69.9 421,69.4" color="#a9d25a"/>
<polygon points="421,69.4 424.3,69.9 419.3,71.9 415.9,71.1" color="#a5d261"/>
<polygon points="415.9,71.1 419.3,71.9 414.2,73.9 410.9,72.8" color="#a0d169"/>
<polygon points="429.3,67.8 432.6,68 427.6,70.3 424.3,69.9" color="#a0d16a"/>
<polygon points="424.3,69.9 427.6,70.3 422.6,72.7 419.3,71.9" color="#9cd071"/>
<polygon points="419.3,71.9 422.6,72.7 417.6,75 414.2,73.9" color="#98d077"/>
<polygon points="432.6,68 436,68.2 430.9,70.8 427.6,70.3" color="#96d07b"/>
<polygon points="427.6,70.3 430.9,70.8 425.9,73.5 422.6,72.7" color="#93cf80"/>
<polygon points="422.6,72.7 425.9,73.5 420.9,76.2 417.6,75" color="#90cf85"/>
<path d="M426.0 67.6L436.0 68.2M426.0 67.6L410.9 72.8" stroke="#001810" stroke-opacity="0.5" stroke-width="0.9" fill="none"/>
<circle cx="426.0" cy="67.6" r="1.05" fill="#111"/>
<polygon points="365.9,59.8 369.3,62 364.2,65.4 360.9,63.3" color="#92cf82"/>
<polygon points="360.9,63.3 364.2,65.4 359.2,68.8 355.9,66.8" color="#92cf82"/>
<polygon points="355.9,66.8 359.2,68.8 354.2,72.2 350.9,70.4" color="#91cf83"/>
<polygon points="369.3,62 372.6,64.3 367.6,67.5 364.2,65.4" color="#92cf82"/>
<polygon points="364.2,65.4 367.6,67.5 362.5,70.7 359.2,68.8" color="#91cf85"/>
<polygon points="359.2,68.8 362.5,70.7 357.5,74 354.2,72.2" color="#8fcf86"/>
<polygon points="372.6,64.3 375.9,66.5 370.9,69.6 367.6,67.5" color="#91cf83"/>
<polygon points="367.6,67.5 370.9,69.6 365.8,72.7 362.5,70.7" color="#8fcf86"/>
<polygon points="362.5,70.7 365.8,72.7 360.8,75.8 357.5,74" color="#8dcf8a"/>
<path d="M365.9 59.8L375.9 66.5M365.9 59.8L350.9 70.4" stroke="#001810" stroke-opacity="0.5" stroke-width="0.9" fill="none"/>
<circle cx="365.9" cy="59.8" r="1.05" fill="#111"/>
<polygon points="461,69.1 464.3,71.3 459.3,71.5 456,69.9" color="#89cf90"/>
<polygon points="456,69.9 459.3,71.5 454.3,71.7 451,70.7" color="#85ce96"/>
<polygon points="451,70.7 454.3,71.7 449.3,71.9 445.9,71.5" color="#81ce9b"/>
<polygon points="464.3,71.3 467.7,73.4 462.6,73 459.3,71.5" color="#88cf92"/>
<polygon points="459.3,71.5 462.6,73 457.6,72.6 454.3,71.7" color="#81ce9c"/>
<polygon points="454.3,71.7 457.6,72.6 452.6,72.3 449.3,71.9" color="#7dcda4"/>
<polygon points="467.7,73.4 471,75.5 466,74.5 462.6,73" color="#86ce94"/>
<polygon points="462.6,73 466,74.5 460.9,73.6 457.6,72.6" color="#7ecea1"/>
<polygon points="457.6,72.6 460.9,73.6 455.9,72.7 452.6,72.3" color="#7acdab"/>
<path d="M461.0 69.1L445.9 71.5M461.0 69.1L471.0 75.5" stroke="#001810" stroke-opacity="0.5" stroke-width="0.9" fill="none"/>
<circle cx="461.0" cy="69.1" r="1.05" fill="#111"/>
<polygon points="400.9,70.5 404.3,71.3 399.2,72.5 395.9,71.4" color="#acd357"/>
<polygon points="395.9,71.4 399.2,72.5 394.2,73.6 390.9,72.3" color="#9fd16b"/>
<polygon points="390.9,72.3 394.2,73.6 389.2,74.8 385.9,73.3" color="#92cf83"/>
<polygon points="404.3,71.3 407.6,72 402.6,73.5 399.2,72.5" color="#a7d25e"/>
<polygon points="399.2,72.5 402.6,73.5 397.5,75 394.2,73.6" color="#9cd071"/>
<polygon points="394.2,73.6 397.5,75 392.5,76.4 389.2,74.8" color="#90cf85"/>
<polygon points="407.6,72 410.9,72.8 405.9,74.5 402.6,73.5" color="#a1d168"/>
<polygon points="402.6,73.5 405.9,74.5 400.9,76.3 397.5,75" color="#98d078"/>
<polygon points="397.5,75 400.9,76.3 395.8,78 392.5,76.4" color="#8fcf86"/>
<path d="M400.9 70.5L410.9 72.8M400.9 70.5L385.9 73.3" stroke="#001810" stroke-opacity="0.5" stroke-width="0.9" fill="none"/>
<circle cx="400.9" cy="70.5" r="1.05" fill="#111"/>
<polygon points="340.9,66.2 344.2,67.6 339.2,70.5 335.9,69" color="#95d07d"/>
<polygon points="335.9,69 339.2,70.5 334.1,73.5 330.8,71.8" color="#9ad074"/>
<polygon points="330.8,71.8 334.1,73.5 329.1,76.4 325.8,74.6" color="#9fd16b"/>
<polygon points="344.2,67.6 347.5,69 342.5,72.1 339.2,70.5" color="#95d07d"/>
<polygon points="339.2,70.5 342.5,72.1 337.5,75.1 334.1,73.5" color="#9ad074"/>
<polygon points="334.1,73.5 337.5,75.1 332.4,78.2 329.1,76.4" color="#9fd16b"/>
<polygon points="347.5,69 350.9,70.4 345.8,73.6 342.5,72.1" color="#95d07d"/>
<polygon points="342.5,72.1 345.8,73.6 340.8,76.8 337.5,75.1" color="#9ad074"/>
<polygon points="337.5,75.1 340.8,76.8 335.8,80 332.4,78.2" color="#9fd16b"/>
<path d="M340.9 66.2L350.9 70.4M340.9 66.2L325.8 74.6" stroke="#001810" stroke-opacity="0.5" stroke-width="0.9" fill="none"/>
<circle cx="340.9" cy="66.2" r="1.05" fill="#111"/>
<polygon points="436,68.2 439.3,69.3 434.3,72 430.9,70.8" color="#8fcf87"/>
<polygon points="430.9,70.8 434.3,72 429.2,74.7 425.9,73.5" color="#8dcf8a"/>
<polygon points="425.9,73.5 429.2,74.7 424.2,77.4 420.9,76.2" color="#8bcf8d"/>
<polygon points="439.3,69.3 442.6,70.4 437.6,73.2 434.3,72" color="#8acf8e"/>
<polygon points="434.3,72 437.6,73.2 432.6,75.9 429.2,74.7" color="#89cf90"/>
<polygon points="429.2,74.7 432.6,75.9 427.5,78.7 424.2,77.4" color="#88cf92"/>
<polygon points="442.6,70.4 445.9,71.5 440.9,74.3 437.6,73.2" color="#86ce95"/>
<polygon points="437.6,73.2 440.9,74.3 435.9,77.2 432.6,75.9" color="#85ce95"/>
<polygon points="432.6,75.9 435.9,77.2 430.9,80 427.5,78.7" color="#85ce96"/>
<path d="M436.0 68.2L445.9 71.5M436.0 68.2L420.9 76.2" stroke="#001810" stroke-opacity="0.5" stroke-width="0.9" fill="none"/>
<circle cx="436.0" cy="68.2" r="1.05" fill="#111"/>
<polygon points="375.9,66.5 379.2,68.8 374.2,71.7 370.9,69.6" color="#90cf85"/>
<polygon points="370.9,69.6 374.2,71.7 369.2,74.6 365.8,72.7" color="#8ecf88"/>
<polygon points="365.8,72.7 369.2,74.6 364.1,77.5 360.8,75.8" color="#8ccf8b"/>
<polygon points="379.2,68.8 382.5,71 377.5,73.8 374.2,71.7" color="#8ecf88"/>
<polygon points="374.2,71.7 377.5,73.8 372.5,76.5 369.2,74.6" color="#8dcf8a"/>
<polygon points="369.2,74.6 372.5,76.5 367.5,79.3 364.1,77.5" color="#8ccf8c"/>
<polygon points="382.5,71 385.9,73.3 380.8,75.9 377.5,73.8" color="#8ccf8b"/>
<polygon points="377.5,73.8 380.8,75.9 375.8,78.4 372.5,76.5" color="#8ccf8c"/>
<polygon points="372.5,76.5 375.8,78.4 370.8,81 367.5,79.3" color="#8bcf8d"/>
<path d="M375.9 66.5L385.9 73.3M375.9 66.5L360.8 75.8" stroke="#001810" stroke-opacity="0.5" stroke-width="0.9" fill="none"/>
<circle cx="375.9" cy="66.5" r="1.05" fill="#111"/>
<polygon points="471,75.5 474.3,77.8 469.3,75.5 466,74.5" color="#86ce95"/>
<polygon points="466,74.5 469.3,75.5 464.3,73.3 460.9,73.6" color="#7bcda9"/>
<polygon points="460.9,73.6 464.3,73.3 459.2,71 455.9,72.7" color="#75cbba"/>
<polygon points="474.3,77.8 477.6,80 472.6,76.5 469.3,75.5" color="#86ce95"/>
<polygon points="469.3,75.5 472.6,76.5 467.6,72.9 464.3,73.3" color="#77cbb4"/>
<polygon points="464.3,73.3 467.6,72.9 462.6,69.4 459.2,71" color="#6cc7cf"/>
<polygon points="477.6,80 481,82.3 475.9,77.4 472.6,76.5" color="#86ce95"/>
<polygon points="472.6,76.5 475.9,77.4 470.9,72.6 467.6,72.9" color="#73cabf"/>
<polygon points="467.6,72.9 470.9,72.6 465.9,67.7 462.6,69.4" color="#58c2de"/>
<path d="M471.0 75.5L455.9 72.7M471.0 75.5L481.0 82.3" stroke="#001810" stroke-opacity="0.5" stroke-width="0.9" fill="none"/>
<circle cx="471.0" cy="75.5" r="1.05" fill="#111"/>
<polygon points="410.9,72.8 414.2,73.9 409.2,75.8 405.9,74.5" color="#9bd073"/>
<polygon points="405.9,74.5 409.2,75.8 404.2,77.6 400.9,76.3" color="#94cf7e"/>
<polygon points="400.9,76.3 404.2,77.6 399.2,79.4 395.8,78" color="#8ecf88"/>
<polygon points="414.2,73.9 417.6,75 412.5,77 409.2,75.8" color="#94cf7e"/>
<polygon points="409.2,75.8 412.5,77 407.5,78.9 404.2,77.6" color="#91cf85"/>
<polygon points="404.2,77.6 407.5,78.9 402.5,80.9 399.2,79.4" color="#8dcf8a"/>
<polygon points="417.6,75 420.9,76.2 415.9,78.2 412.5,77" color="#8ecf88"/>
<polygon points="412.5,77 415.9,78.2 410.8,80.3 407.5,78.9" color="#8dcf8a"/>
<polygon points="407.5,78.9 410.8,80.3 405.8,82.3 402.5,80.9" color="#8ccf8c"/>
<path d="M410.9 72.8L420.9 76.2M410.9 72.8L395.8 78.0" stroke="#001810" stroke-opacity="0.5" stroke-width="0.9" fill="none"/>
<circle cx="410.9" cy="72.8" r="1.05" fill="#111"/>
<polygon points="350.9,70.4 354.2,72.2 349.1,75.4 345.8,73.6" color="#94cf7f"/>
<polygon points="345.8,73.6 349.1,75.4 344.1,78.6 340.8,76.8" color="#99d076"/>
<polygon points="340.8,76.8 344.1,78.6 339.1,81.8 335.8,80" color="#9ed16d"/>
<polygon points="354.2,72.2 357.5,74 352.5,77.2 349.1,75.4" color="#91cf84"/>
<polygon points="349.1,75.4 352.5,77.2 347.4,80.4 344.1,78.6" color="#96d07b"/>
<polygon points="344.1,78.6 347.4,80.4 342.4,83.6 339.1,81.8" color="#9bd072"/>
<polygon points="357.5,74 360.8,75.8 355.8,79 352.5,77.2" color="#8fcf87"/>
<polygon points="352.5,77.2 355.8,79 350.8,82.2 347.4,80.4" color="#94cf7f"/>
<polygon points="347.4,80.4 350.8,82.2 345.7,85.4 342.4,83.6" color="#99d076"/>
<path d="M350.9 70.4L360.8 75.8M350.9 70.4L335.8 80.0" stroke="#001810" stroke-opacity="0.5" stroke-width="0.9" fill="none"/>
<circle cx="350.9" cy="70.4" r="1.05" fill="#111"/>
<polygon points="445.9,71.5 449.3,71.9 444.2,75.3 440.9,74.3" color="#7fce9e"/>
<polygon points="440.9,74.3 444.2,75.3 439.2,78.7 435.9,77.2" color="#7fce9e"/>
<polygon points="435.9,77.2 439.2,78.7 434.2,82.1 430.9,80" color="#7fce9e"/>
<polygon points="449.3,71.9 452.6,72.3 447.6,76.2 444.2,75.3" color="#7bcda7"/>
<polygon points="444.2,75.3 447.6,76.2 442.5,80.2 439.2,78.7" color="#7bcda7"/>
<polygon points="439.2,78.7 442.5,80.2 437.5,84.2 434.2,82.1" color="#7bcda7"/>
<polygon points="452.6,72.3 455.9,72.7 450.9,77.2 447.6,76.2" color="#78ccb0"/>
<polygon points="447.6,76.2 450.9,77.2 445.9,81.7 442.5,80.2" color="#78ccb0"/>
<polygon points="442.5,80.2 445.9,81.7 440.8,86.2 437.5,84.2" color="#78ccb0"/>
<path d="M445.9 71.5L455.9 72.7M445.9 71.5L430.9 80.0" stroke="#001810" stroke-opacity="0.5" stroke-width="0.9" fill="none"/>
<circle cx="445.9" cy="71.5" r="1.05" fill="#111"/>
<polygon points="385.9,73.3 389.2,74.8 384.2,77.5 380.8,75.9" color="#8bcf8d"/>
<polygon points="380.8,75.9 384.2,77.5 379.1,80.1 375.8,78.4" color="#8bcf8d"/>
<polygon points="375.8,78.4 379.1,80.1 374.1,82.8 370.8,81" color="#8bcf8d"/>
<polygon points="389.2,74.8 392.5,76.4 387.5,79.1 384.2,77.5" color="#8bcf8d"/>
<polygon points="384.2,77.5 387.5,79.1 382.5,81.8 379.1,80.1" color="#8bcf8d"/>
<polygon points="379.1,80.1 382.5,81.8 377.4,84.5 374.1,82.8" color="#8bcf8d"/>
<polygon points="392.5,76.4 395.8,78 390.8,80.8 387.5,79.1" color="#8bcf8d"/>
<polygon points="387.5,79.1 390.8,80.8 385.8,83.5 382.5,81.8" color="#8bcf8d"/>
<polygon points="382.5,81.8 385.8,83.5 380.8,86.3 377.4,84.5" color="#8bcf8d"/>
<path d="M385.9 73.3L395.8 78.0M385.9 73.3L370.8 81.0" stroke="#001810" stroke-opacity="0.5" stroke-width="0.9" fill="none"/>
<circle cx="385.9" cy="73.3" r="1.05" fill="#111"/>
<polygon points="325.8,74.6 329.1,76.4 324.1,81.4 320.8,79.6" color="#a7d25e"/>
<polygon points="320.8,79.6 324.1,81.4 319.1,86.4 315.7,84.6" color="#afd354"/>
<polygon points="315.7,84.6 319.1,86.4 314,91.4 310.7,89.6" color="#b6d54a"/>
<polygon points="329.1,76.4 332.4,78.2 327.4,83.2 324.1,81.4" color="#a7d25e"/>
<polygon points="324.1,81.4 327.4,83.2 322.4,88.2 319.1,86.4" color="#afd354"/>
<polygon points="319.1,86.4 322.4,88.2 317.4,93.2 314,91.4" color="#b6d54a"/>
<polygon points="332.4,78.2 335.8,80 330.7,85 327.4,83.2" color="#a7d25e"/>
<polygon points="327.4,83.2 330.7,85 325.7,90 322.4,88.2" color="#afd354"/>
<polygon points="322.4,88.2 325.7,90 320.7,95 317.4,93.2" color="#b6d54a"/>
<path d="M325.8 74.6L335.8 80.0M310.7 89.6L320.7 95.0M325.8 74.6L310.7 89.6" stroke="#001810" stroke-opacity="0.5" stroke-width="0.9" fill="none"/>
<circle cx="325.8" cy="74.6" r="1.05" fill="#111"/>
<circle cx="310.7" cy="89.6" r="1.05" fill="#111"/>
<polygon points="481,82.3 484.3,82.8 479.3,78.2 475.9,77.4" color="#86ce95"/>
<polygon points="475.9,77.4 479.3,78.2 474.2,73.7 470.9,72.6" color="#71c9c4"/>
<polygon points="470.9,72.6 474.2,73.7 469.2,69.1 465.9,67.7" color="#4ebfe6"/>
<polygon points="484.3,82.8 487.6,83.3 482.6,79 479.3,78.2" color="#86ce95"/>
<polygon points="479.3,78.2 482.6,79 477.6,74.7 474.2,73.7" color="#71c9c4"/>
<polygon points="474.2,73.7 477.6,74.7 472.5,70.5 469.2,69.1" color="#4ebfe6"/>
<polygon points="487.6,83.3 490.9,83.8 485.9,79.8 482.6,79" color="#86ce95"/>
<polygon points="482.6,79 485.9,79.8 480.9,75.8 477.6,74.7" color="#71c9c4"/>
<polygon points="477.6,74.7 480.9,75.8 475.9,71.8 472.5,70.5" color="#4ebfe6"/>
<path d="M481.0 82.3L465.9 67.7M481.0 82.3L490.9 83.8M490.9 83.8L475.9 71.8" stroke="#001810" stroke-opacity="0.5" stroke-width="0.9" fill="none"/>
<circle cx="481.0" cy="82.3" r="1.05" fill="#111"/>
<circle cx="490.9" cy="83.8" r="1.05" fill="#111"/>
<polygon points="420.9,76.2 424.2,77.4 419.2,79.7 415.9,78.2" color="#8acf8f"/>
<polygon points="415.9,78.2 419.2,79.7 414.2,82 410.8,80.3" color="#8acf8f"/>
<polygon points="410.8,80.3 414.2,82 409.1,84.3 405.8,82.3" color="#8acf8f"/>
<polygon points="424.2,77.4 427.5,78.7 422.5,81.2 419.2,79.7" color="#87ce93"/>
<polygon points="419.2,79.7 422.5,81.2 417.5,83.8 414.2,82" color="#87ce93"/>
<polygon points="414.2,82 417.5,83.8 412.5,86.3 409.1,84.3" color="#87ce93"/>
<polygon points="427.5,78.7 430.9,80 425.8,82.8 422.5,81.2" color="#85ce96"/>
<polygon points="422.5,81.2 425.8,82.8 420.8,85.5 417.5,83.8" color="#85ce96"/>
<polygon points="417.5,83.8 420.8,85.5 415.8,88.3 412.5,86.3" color="#85ce96"/>
<path d="M420.9 76.2L430.9 80.0M420.9 76.2L405.8 82.3" stroke="#001810" stroke-opacity="0.5" stroke-width="0.9" fill="none"/>
<circle cx="420.9" cy="76.2" r="1.05" fill="#111"/>
<polygon points="360.8,75.8 364.1,77.5 359.1,80.7 355.8,79" color="#8dcf89"/>
<polygon points="355.8,79 359.1,80.7 354.1,83.9 350.8,82.2" color="#93cf81"/>
<polygon points="350.8,82.2 354.1,83.9 349.1,87.1 345.7,85.4" color="#98d078"/>
<polygon points="364.1,77.5 367.5,79.3 362.4,82.5 359.1,80.7" color="#8dcf89"/>
<polygon points="359.1,80.7 362.4,82.5 357.4,85.7 354.1,83.9" color="#93cf81"/>
<polygon points="354.1,83.9 357.4,85.7 352.4,88.9 349.1,87.1" color="#98d078"/>
<polygon points="367.5,79.3 370.8,81 365.8,84.2 362.4,82.5" color="#8dcf89"/>
<polygon points="362.4,82.5 365.8,84.2 360.7,87.4 357.4,85.7" color="#93cf81"/>
<polygon points="357.4,85.7 360.7,87.4 355.7,90.6 352.4,88.9" color="#98d078"/>
<path d="M360.8 75.8L370.8 81.0M360.8 75.8L345.7 85.4" stroke="#001810" stroke-opacity="0.5" stroke-width="0.9" fill="none"/>
<circle cx="360.8" cy="75.8" r="1.05" fill="#111"/>
<polygon points="455.9,72.7 459.2,71 454.2,75.8 450.9,77.2" color="#72cac1"/>
<polygon points="450.9,77.2 454.2,75.8 449.2,80.5 445.9,81.7" color="#73cabf"/>
<polygon points="445.9,81.7 449.2,80.5 444.2,85.3 440.8,86.2" color="#74cabc"/>
<polygon points="459.2,71 462.6,69.4 457.5,74.4 454.2,75.8" color="#62c5d6"/>
<polygon points="454.2,75.8 457.5,74.4 452.5,79.4 449.2,80.5" color="#68c6d1"/>
<polygon points="449.2,80.5 452.5,79.4 447.5,84.4 444.2,85.3" color="#6ec8cc"/>
<polygon points="462.6,69.4 465.9,67.7 460.9,73 457.5,74.4" color="#4bbfe8"/>
<polygon points="457.5,74.4 460.9,73 455.8,78.2 452.5,79.4" color="#56c2e0"/>
<polygon points="452.5,79.4 455.8,78.2 450.8,83.5 447.5,84.4" color="#60c4d8"/>
<path d="M455.9 72.7L465.9 67.7M455.9 72.7L440.8 86.2" stroke="#001810" stroke-opacity="0.5" stroke-width="0.9" fill="none"/>
<circle cx="455.9" cy="72.7" r="1.05" fill="#111"/>
<polygon points="395.8,78 399.2,79.4 394.1,82.3 390.8,80.8" color="#8bcf8d"/>
<polygon points="390.8,80.8 394.1,82.3 389.1,85.2 385.8,83.5" color="#8bcf8d"/>
<polygon points="385.8,83.5 389.1,85.2 384.1,88 380.8,86.3" color="#8bcf8d"/>
<polygon points="399.2,79.4 402.5,80.9 397.5,83.9 394.1,82.3" color="#8bcf8d"/>
<polygon points="394.1,82.3 397.5,83.9 392.4,86.8 389.1,85.2" color="#8bcf8d"/>
<polygon points="389.1,85.2 392.4,86.8 387.4,89.8 384.1,88" color="#8bcf8d"/>
<polygon points="402.5,80.9 405.8,82.3 400.8,85.4 397.5,83.9" color="#8bcf8d"/>
<polygon points="397.5,83.9 400.8,85.4 395.8,88.5 392.4,86.8" color="#8bcf8d"/>
<polygon points="392.4,86.8 395.8,88.5 390.7,91.5 387.4,89.8" color="#8bcf8d"/>
<path d="M395.8 78.0L405.8 82.3M395.8 78.0L380.8 86.3" stroke="#001810" stroke-opacity="0.5" stroke-width="0.9" fill="none"/>
<circle cx="395.8" cy="78.0" r="1.05" fill="#111"/>
<polygon points="335.8,80 339.1,81.8 334.1,86.5 330.7,85" color="#a5d260"/>
<polygon points="330.7,85 334.1,86.5 329,91.2 325.7,90" color="#aed355"/>
<polygon points="325.7,90 329,91.2 324,95.9 320.7,95" color="#b5d54c"/>
<polygon points="339.1,81.8 342.4,83.6 337.4,88 334.1,86.5" color="#a3d165"/>
<polygon points="334.1,86.5 337.4,88 332.4,92.4 329,91.2" color="#acd358"/>
<polygon points="329,91.2 332.4,92.4 327.3,96.8 324,95.9" color="#b3d44e"/>
<polygon points="342.4,83.6 345.7,85.4 340.7,89.5 337.4,88" color="#a0d169"/>
<polygon points="337.4,88 340.7,89.5 335.7,93.6 332.4,92.4" color="#aad25a"/>
<polygon points="332.4,92.4 335.7,93.6 330.7,97.7 327.3,96.8" color="#b1d451"/>
<path d="M335.8 80.0L345.7 85.4M335.8 80.0L320.7 95.0M320.7 95.0L330.7 97.7" stroke="#001810" stroke-opacity="0.5" stroke-width="0.9" fill="none"/>
<circle cx="335.8" cy="80.0" r="1.05" fill="#111"/>
<circle cx="320.7" cy="95.0" r="1.05" fill="#111"/>
<polygon points="430.9,80 434.2,82.1 429.2,84.9 425.8,82.8" color="#80ce9d"/>
<polygon points="425.8,82.8 429.2,84.9 424.1,87.6 420.8,85.5" color="#81ce9c"/>
<polygon points="420.8,85.5 424.1,87.6 419.1,90.4 415.8,88.3" color="#82ce9b"/>
<polygon points="434.2,82.1 437.5,84.2 432.5,86.9 429.2,84.9" color="#7ccda6"/>
<polygon points="429.2,84.9 432.5,86.9 427.5,89.7 424.1,87.6" color="#7dcea3"/>
<polygon points="424.1,87.6 427.5,89.7 422.4,92.5 419.1,90.4" color="#7ecea0"/>
<polygon points="437.5,84.2 440.8,86.2 435.8,89 432.5,86.9" color="#79ccae"/>
<polygon points="432.5,86.9 435.8,89 430.8,91.8 427.5,89.7" color="#7bcda9"/>
<polygon points="427.5,89.7 430.8,91.8 425.8,94.6 422.4,92.5" color="#7dcea4"/>
<path d="M430.9 80.0L440.8 86.2M430.9 80.0L415.8 88.3" stroke="#001810" stroke-opacity="0.5" stroke-width="0.9" fill="none"/>
<circle cx="430.9" cy="80.0" r="1.05" fill="#111"/>
<polygon points="370.8,81 374.1,82.8 369.1,86 365.8,84.2" color="#8dcf8a"/>
<polygon points="365.8,84.2 369.1,86 364.1,89.3 360.7,87.4" color="#92cf82"/>
<polygon points="360.7,87.4 364.1,89.3 359,92.5 355.7,90.6" color="#97d07a"/>
<polygon points="374.1,82.8 377.4,84.5 372.4,87.8 369.1,86" color="#8dcf8a"/>
<polygon points="369.1,86 372.4,87.8 367.4,91.1 364.1,89.3" color="#91cf85"/>
<polygon points="364.1,89.3 367.4,91.1 362.4,94.4 359,92.5" color="#94cf7e"/>
<polygon points="377.4,84.5 380.8,86.3 375.7,89.6 372.4,87.8" color="#8ccf8b"/>
<polygon points="372.4,87.8 375.7,89.6 370.7,92.9 367.4,91.1" color="#8fcf86"/>
<polygon points="367.4,91.1 370.7,92.9 365.7,96.3 362.4,94.4" color="#92cf82"/>
<path d="M370.8 81.0L380.8 86.3M370.8 81.0L355.7 90.6" stroke="#001810" stroke-opacity="0.5" stroke-width="0.9" fill="none"/>
<circle cx="370.8" cy="81.0" r="1.05" fill="#111"/>
<polygon points="465.9,67.7 469.2,69.1 464.2,74.6 460.9,73" color="#40bbf0"/>
<polygon points="460.9,73 464.2,74.6 459.1,80.2 455.8,78.2" color="#4cbfe7"/>
<polygon points="455.8,78.2 459.1,80.2 454.1,85.8 450.8,83.5" color="#59c2de"/>
<polygon points="469.2,69.1 472.5,70.5 467.5,76.3 464.2,74.6" color="#40bbf0"/>
<polygon points="464.2,74.6 467.5,76.3 462.5,82.2 459.1,80.2" color="#4cbfe7"/>
<polygon points="459.1,80.2 462.5,82.2 457.4,88 454.1,85.8" color="#59c2de"/>
<polygon points="472.5,70.5 475.9,71.8 470.8,78 467.5,76.3" color="#40bbf0"/>
<polygon points="467.5,76.3 470.8,78 465.8,84.2 462.5,82.2" color="#4cbfe7"/>
<polygon points="462.5,82.2 465.8,84.2 460.8,90.3 457.4,88" color="#59c2de"/>
<path d="M465.9 67.7L475.9 71.8M465.9 67.7L450.8 83.5M475.9 71.8L460.8 90.3" stroke="#001810" stroke-opacity="0.5" stroke-width="0.9" fill="none"/>
<circle cx="465.9" cy="67.7" r="1.05" fill="#111"/>
<circle cx="475.9" cy="71.8" r="1.05" fill="#111"/>
<polygon points="405.8,82.3 409.1,84.3 404.1,87.3 400.8,85.4" color="#8acf8f"/>
<polygon points="400.8,85.4 404.1,87.3 399.1,90.3 395.8,88.5" color="#8acf8f"/>
<polygon points="395.8,88.5 399.1,90.3 394.1,93.3 390.7,91.5" color="#8acf8f"/>
<polygon points="409.1,84.3 412.5,86.3 407.4,89.2 404.1,87.3" color="#87ce93"/>
<polygon points="404.1,87.3 407.4,89.2 402.4,92.2 399.1,90.3" color="#87ce93"/>
<polygon points="399.1,90.3 402.4,92.2 397.4,95.1 394.1,93.3" color="#87ce93"/>
<polygon points="412.5,86.3 415.8,88.3 410.8,91.1 407.4,89.2" color="#85ce96"/>
<polygon points="407.4,89.2 410.8,91.1 405.7,94 402.4,92.2" color="#85ce96"/>
<polygon points="402.4,92.2 405.7,94 400.7,96.9 397.4,95.1" color="#85ce96"/>
<path d="M405.8 82.3L415.8 88.3M405.8 82.3L390.7 91.5" stroke="#001810" stroke-opacity="0.5" stroke-width="0.9" fill="none"/>
<circle cx="405.8" cy="82.3" r="1.05" fill="#111"/>
<polygon points="345.7,85.4 349.1,87.1 344,91.5 340.7,89.5" color="#9fd16c"/>
<polygon points="340.7,89.5 344,91.5 339,95.9 335.7,93.6" color="#a9d25b"/>
<polygon points="335.7,93.6 339,95.9 334,100.3 330.7,97.7" color="#b0d452"/>
<polygon points="349.1,87.1 352.4,88.9 347.4,93.6 344,91.5" color="#9fd16c"/>
<polygon points="344,91.5 347.4,93.6 342.3,98.3 339,95.9" color="#a9d25b"/>
<polygon points="339,95.9 342.3,98.3 337.3,103 334,100.3" color="#b0d452"/>
<polygon points="352.4,88.9 355.7,90.6 350.7,95.6 347.4,93.6" color="#9fd16c"/>
<polygon points="347.4,93.6 350.7,95.6 345.7,100.6 342.3,98.3" color="#a9d25b"/>
<polygon points="342.3,98.3 345.7,100.6 340.6,105.6 337.3,103" color="#b0d452"/>
<path d="M345.7 85.4L355.7 90.6M345.7 85.4L330.7 97.7M330.7 97.7L340.6 105.6" stroke="#001810" stroke-opacity="0.5" stroke-width="0.9" fill="none"/>
<circle cx="345.7" cy="85.4" r="1.05" fill="#111"/>
<circle cx="330.7" cy="97.7" r="1.05" fill="#111"/>
<polygon points="440.8,86.2 444.2,85.3 439.1,88.6 435.8,89" color="#76cbb8"/>
<polygon points="435.8,89 439.1,88.6 434.1,91.9 430.8,91.8" color="#78ccb1"/>
<polygon points="430.8,91.8 434.1,91.9 429.1,95.1 425.8,94.6" color="#7acdaa"/>
<polygon points="444.2,85.3 447.5,84.4 442.4,88.1 439.1,88.6" color="#71c9c5"/>
<polygon points="439.1,88.6 442.4,88.1 437.4,91.9 434.1,91.9" color="#74cabc"/>
<polygon points="434.1,91.9 437.4,91.9 432.4,95.6 429.1,95.1" color="#77cbb4"/>
<polygon points="447.5,84.4 450.8,83.5 445.8,87.7 442.4,88.1" color="#6ac7d0"/>
<polygon points="442.4,88.1 445.8,87.7 440.7,91.9 437.4,91.9" color="#70c9c7"/>
<polygon points="437.4,91.9 440.7,91.9 435.7,96.2 432.4,95.6" color="#74cabd"/>
<path d="M440.8 86.2L450.8 83.5M440.8 86.2L425.8 94.6" stroke="#001810" stroke-opacity="0.5" stroke-width="0.9" fill="none"/>
<circle cx="440.8" cy="86.2" r="1.05" fill="#111"/>
<polygon points="380.8,86.3 384.1,88 379.1,91.4 375.7,89.6" color="#8ccf8b"/>
<polygon points="375.7,89.6 379.1,91.4 374,94.8 370.7,92.9" color="#8fcf87"/>
<polygon points="370.7,92.9 374,94.8 369,98.2 365.7,96.3" color="#91cf84"/>
<polygon points="384.1,88 387.4,89.8 382.4,93.2 379.1,91.4" color="#8ccf8b"/>
<polygon points="379.1,91.4 382.4,93.2 377.4,96.7 374,94.8" color="#8fcf87"/>
<polygon points="374,94.8 377.4,96.7 372.3,100.2 369,98.2" color="#91cf84"/>
<polygon points="387.4,89.8 390.7,91.5 385.7,95 382.4,93.2" color="#8ccf8b"/>
<polygon points="382.4,93.2 385.7,95 380.7,98.6 377.4,96.7" color="#8fcf87"/>
<polygon points="377.4,96.7 380.7,98.6 375.6,102.1 372.3,100.2" color="#91cf84"/>
<path d="M380.8 86.3L390.7 91.5M380.8 86.3L365.7 96.3" stroke="#001810" stroke-opacity="0.5" stroke-width="0.9" fill="none"/>
<circle cx="380.8" cy="86.3" r="1.05" fill="#111"/>
<polygon points="415.8,88.3 419.1,90.4 414.1,93.2 410.8,91.1" color="#82ce9a"/>
<polygon points="410.8,91.1 414.1,93.2 409,95.9 405.7,94" color="#83ce99"/>
<polygon points="405.7,94 409,95.9 404,98.7 400.7,96.9" color="#83ce98"/>
<polygon points="419.1,90.4 422.4,92.5 417.4,95.2 414.1,93.2" color="#80ce9d"/>
<polygon points="414.1,93.2 417.4,95.2 412.4,97.8 409,95.9" color="#81ce9b"/>
<polygon points="409,95.9 412.4,97.8 407.3,100.5 404,98.7" color="#83ce99"/>
<polygon points="422.4,92.5 425.8,94.6 420.7,97.2 417.4,95.2" color="#7ecea0"/>
<polygon points="417.4,95.2 420.7,97.2 415.7,99.7 412.4,97.8" color="#80ce9d"/>
<polygon points="412.4,97.8 415.7,99.7 410.7,102.3 407.3,100.5" color="#82ce9a"/>
<path d="M415.8 88.3L425.8 94.6M415.8 88.3L400.7 96.9" stroke="#001810" stroke-opacity="0.5" stroke-width="0.9" fill="none"/>
<circle cx="415.8" cy="88.3" r="1.05" fill="#111"/>
<polygon points="355.7,90.6 359,92.5 354,97.4 350.7,95.6" color="#9ed16d"/>
<polygon points="350.7,95.6 354,97.4 349,102.4 345.7,100.6" color="#a8d25c"/>
<polygon points="345.7,100.6 349,102.4 344,107.3 340.6,105.6" color="#b0d452"/>
<polygon points="359,92.5 362.4,94.4 357.3,99.3 354,97.4" color="#9cd071"/>
<polygon points="354,97.4 357.3,99.3 352.3,104.2 349,102.4" color="#a7d25e"/>
<polygon points="349,102.4 352.3,104.2 347.3,109.1 344,107.3" color="#b0d453"/>
<polygon points="362.4,94.4 365.7,96.3 360.7,101.1 357.3,99.3" color="#9ad075"/>
<polygon points="357.3,99.3 360.7,101.1 355.6,106 352.3,104.2" color="#a6d260"/>
<polygon points="352.3,104.2 355.6,106 350.6,110.8 347.3,109.1" color="#afd353"/>
<path d="M355.7 90.6L365.7 96.3M355.7 90.6L340.6 105.6M340.6 105.6L350.6 110.8" stroke="#001810" stroke-opacity="0.5" stroke-width="0.9" fill="none"/>
<circle cx="355.7" cy="90.6" r="1.05" fill="#111"/>
<circle cx="340.6" cy="105.6" r="1.05" fill="#111"/>
<polygon points="450.8,83.5 454.1,85.8 449.1,90 445.8,87.7" color="#64c5d5"/>
<polygon points="445.8,87.7 449.1,90 444.1,94.2 440.7,91.9" color="#6dc8cd"/>
<polygon points="440.7,91.9 444.1,94.2 439,98.4 435.7,96.2" color="#71c9c3"/>
<polygon points="454.1,85.8 457.4,88 452.4,92.3 449.1,90" color="#63c5d5"/>
<polygon points="449.1,90 452.4,92.3 447.4,96.5 444.1,94.2" color="#6cc8ce"/>
<polygon points="444.1,94.2 447.4,96.5 442.4,100.7 439,98.4" color="#71c9c6"/>
<polygon points="457.4,88 460.8,90.3 455.7,94.5 452.4,92.3" color="#63c5d6"/>
<polygon points="452.4,92.3 455.7,94.5 450.7,98.8 447.4,96.5" color="#6bc7cf"/>
<polygon points="447.4,96.5 450.7,98.8 445.7,103 442.4,100.7" color="#70c9c8"/>
<path d="M450.8 83.5L460.8 90.3M450.8 83.5L435.7 96.2M460.8 90.3L445.7 103.0" stroke="#001810" stroke-opacity="0.5" stroke-width="0.9" fill="none"/>
<circle cx="450.8" cy="83.5" r="1.05" fill="#111"/>
<circle cx="460.8" cy="90.3" r="1.05" fill="#111"/>
<polygon points="390.7,91.5 394.1,93.3 389,96.8 385.7,95" color="#8bcf8d"/>
<polygon points="385.7,95 389,96.8 384,100.2 380.7,98.6" color="#8ecf88"/>
<polygon points="380.7,98.6 384,100.2 379,103.7 375.6,102.1" color="#91cf84"/>
<polygon points="394.1,93.3 397.4,95.1 392.4,98.5 389,96.8" color="#89cf90"/>
<polygon points="389,96.8 392.4,98.5 387.3,101.9 384,100.2" color="#8dcf8a"/>
<polygon points="384,100.2 387.3,101.9 382.3,105.3 379,103.7" color="#91cf85"/>
<polygon points="397.4,95.1 400.7,96.9 395.7,100.2 392.4,98.5" color="#87ce93"/>
<polygon points="392.4,98.5 395.7,100.2 390.6,103.6 387.3,101.9" color="#8ccf8c"/>
<polygon points="387.3,101.9 390.6,103.6 385.6,106.9 382.3,105.3" color="#90cf85"/>
<path d="M390.7 91.5L400.7 96.9M390.7 91.5L375.6 102.1" stroke="#001810" stroke-opacity="0.5" stroke-width="0.9" fill="none"/>
<circle cx="390.7" cy="91.5" r="1.05" fill="#111"/>
<polygon points="425.8,94.6 429.1,95.1 424,98.1 420.7,97.2" color="#7ccda5"/>
<polygon points="420.7,97.2 424,98.1 419,101.1 415.7,99.7" color="#7ecea1"/>
<polygon points="415.7,99.7 419,101.1 414,104.1 410.7,102.3" color="#80ce9d"/>
<polygon points="429.1,95.1 432.4,95.6 427.4,99.1 424,98.1" color="#79ccad"/>
<polygon points="424,98.1 427.4,99.1 422.3,102.5 419,101.1" color="#7ccda7"/>
<polygon points="419,101.1 422.3,102.5 417.3,105.9 414,104.1" color="#7ecea1"/>
<polygon points="432.4,95.6 435.7,96.2 430.7,100 427.4,99.1" color="#77cbb4"/>
<polygon points="427.4,99.1 430.7,100 425.7,103.9 422.3,102.5" color="#79ccad"/>
<polygon points="422.3,102.5 425.7,103.9 420.6,107.7 417.3,105.9" color="#7ccda5"/>
<path d="M425.8 94.6L435.7 96.2M425.8 94.6L410.7 102.3" stroke="#001810" stroke-opacity="0.5" stroke-width="0.9" fill="none"/>
<circle cx="425.8" cy="94.6" r="1.05" fill="#111"/>
<polygon points="365.7,96.3 369,98.2 364,103.1 360.7,101.1" color="#98d077"/>
<polygon points="360.7,101.1 364,103.1 358.9,108 355.6,106" color="#a4d262"/>
<polygon points="355.6,106 358.9,108 353.9,112.9 350.6,110.8" color="#aed354"/>
<polygon points="369,98.2 372.3,100.2 367.3,105.1 364,103.1" color="#98d078"/>
<polygon points="364,103.1 367.3,105.1 362.3,110 358.9,108" color="#a3d165"/>
<polygon points="358.9,108 362.3,110 357.2,114.9 353.9,112.9" color="#add356"/>
<polygon points="372.3,100.2 375.6,102.1 370.6,107 367.3,105.1" color="#98d079"/>
<polygon points="367.3,105.1 370.6,107 365.6,112 362.3,110" color="#a2d167"/>
<polygon points="362.3,110 365.6,112 360.6,116.9 357.2,114.9" color="#abd358"/>
<path d="M365.7 96.3L375.6 102.1M365.7 96.3L350.6 110.8M350.6 110.8L360.6 116.9" stroke="#001810" stroke-opacity="0.5" stroke-width="0.9" fill="none"/>
<circle cx="365.7" cy="96.3" r="1.05" fill="#111"/>
<circle cx="350.6" cy="110.8" r="1.05" fill="#111"/>
<polygon points="400.7,96.9 404,98.7 399,102.1 395.7,100.2" color="#86ce95"/>
<polygon points="395.7,100.2 399,102.1 394,105.5 390.6,103.6" color="#8acf8e"/>
<polygon points="390.6,103.6 394,105.5 388.9,108.9 385.6,106.9" color="#8fcf87"/>
<polygon points="404,98.7 407.3,100.5 402.3,103.9 399,102.1" color="#85ce95"/>
<polygon points="399,102.1 402.3,103.9 397.3,107.3 394,105.5" color="#89cf90"/>
<polygon points="394,105.5 397.3,107.3 392.3,110.8 388.9,108.9" color="#8dcf8a"/>
<polygon points="407.3,100.5 410.7,102.3 405.6,105.8 402.3,103.9" color="#85ce96"/>
<polygon points="402.3,103.9 405.6,105.8 400.6,109.2 397.3,107.3" color="#88cf92"/>
<polygon points="397.3,107.3 400.6,109.2 395.6,112.7 392.3,110.8" color="#8bcf8d"/>
<path d="M400.7 96.9L410.7 102.3M400.7 96.9L385.6 106.9" stroke="#001810" stroke-opacity="0.5" stroke-width="0.9" fill="none"/>
<circle cx="400.7" cy="96.9" r="1.05" fill="#111"/>
<polygon points="435.7,96.2 439,98.4 434,102.2 430.7,100" color="#75cbba"/>
<polygon points="430.7,100 434,102.2 429,105.9 425.7,103.9" color="#78ccb2"/>
<polygon points="425.7,103.9 429,105.9 424,109.6 420.6,107.7" color="#7bcdaa"/>
<polygon points="439,98.4 442.4,100.7 437.3,104.3 434,102.2" color="#74cabd"/>
<polygon points="434,102.2 437.3,104.3 432.3,107.9 429,105.9" color="#76cbb6"/>
<polygon points="429,105.9 432.3,107.9 427.3,111.5 424,109.6" color="#79ccaf"/>
<polygon points="442.4,100.7 445.7,103 440.7,106.5 437.3,104.3" color="#72cac0"/>
<polygon points="437.3,104.3 440.7,106.5 435.6,109.9 432.3,107.9" color="#75caba"/>
<polygon points="432.3,107.9 435.6,109.9 430.6,113.4 427.3,111.5" color="#77cbb4"/>
<path d="M435.7 96.2L445.7 103.0M435.7 96.2L420.6 107.7M445.7 103.0L430.6 113.4" stroke="#001810" stroke-opacity="0.5" stroke-width="0.9" fill="none"/>
<circle cx="435.7" cy="96.2" r="1.05" fill="#111"/>
<circle cx="445.7" cy="103.0" r="1.05" fill="#111"/>
<polygon points="375.6,102.1 379,103.7 373.9,108.6 370.6,107" color="#97d079"/>
<polygon points="370.6,107 373.9,108.6 368.9,113.5 365.6,112" color="#a1d168"/>
<polygon points="365.6,112 368.9,113.5 363.9,118.4 360.6,116.9" color="#aad259"/>
<polygon points="379,103.7 382.3,105.3 377.3,110.2 373.9,108.6" color="#97d079"/>
<polygon points="373.9,108.6 377.3,110.2 372.2,115 368.9,113.5" color="#a1d168"/>
<polygon points="368.9,113.5 372.2,115 367.2,119.8 363.9,118.4" color="#aad259"/>
<polygon points="382.3,105.3 385.6,106.9 380.6,111.7 377.3,110.2" color="#97d079"/>
<polygon points="377.3,110.2 380.6,111.7 375.6,116.5 372.2,115" color="#a1d168"/>
<polygon points="372.2,115 375.6,116.5 370.5,121.3 367.2,119.8" color="#aad259"/>
<path d="M375.6 102.1L385.6 106.9M375.6 102.1L360.6 116.9M360.6 116.9L370.5 121.3" stroke="#001810" stroke-opacity="0.5" stroke-width="0.9" fill="none"/>
<circle cx="375.6" cy="102.1" r="1.05" fill="#111"/>
<circle cx="360.6" cy="116.9" r="1.05" fill="#111"/>
<polygon points="410.7,102.3 414,104.1 409,107.5 405.6,105.8" color="#84ce98"/>
<polygon points="405.6,105.8 409,107.5 403.9,110.9 400.6,109.2" color="#86ce93"/>
<polygon points="400.6,109.2 403.9,110.9 398.9,114.4 395.6,112.7" color="#89cf8f"/>
<polygon points="414,104.1 417.3,105.9 412.3,109.3 409,107.5" color="#81ce9b"/>
<polygon points="409,107.5 412.3,109.3 407.3,112.7 403.9,110.9" color="#85ce95"/>
<polygon points="403.9,110.9 407.3,112.7 402.2,116 398.9,114.4" color="#89cf90"/>
<polygon points="417.3,105.9 420.6,107.7 415.6,111.1 412.3,109.3" color="#7fce9e"/>
<polygon points="412.3,109.3 415.6,111.1 410.6,114.4 407.3,112.7" color="#84ce97"/>
<polygon points="407.3,112.7 410.6,114.4 405.6,117.7 402.2,116" color="#89cf90"/>
<path d="M410.7 102.3L420.6 107.7M410.7 102.3L395.6 112.7" stroke="#001810" stroke-opacity="0.5" stroke-width="0.9" fill="none"/>
<circle cx="410.7" cy="102.3" r="1.05" fill="#111"/>
<polygon points="385.6,106.9 388.9,108.9 383.9,113.5 380.6,111.7" color="#96d07b"/>
<polygon points="380.6,111.7 383.9,113.5 378.9,118.2 375.6,116.5" color="#a1d169"/>
<polygon points="375.6,116.5 378.9,118.2 373.9,122.9 370.5,121.3" color="#aad259"/>
<polygon points="388.9,108.9 392.3,110.8 387.2,115.4 383.9,113.5" color="#94cf7e"/>
<polygon points="383.9,113.5 387.2,115.4 382.2,120 378.9,118.2" color="#a0d16b"/>
<polygon points="378.9,118.2 382.2,120 377.2,124.5 373.9,122.9" color="#aad259"/>
<polygon points="392.3,110.8 395.6,112.7 390.6,117.2 387.2,115.4" color="#92cf82"/>
<polygon points="387.2,115.4 390.6,117.2 385.5,121.7 382.2,120" color="#9fd16c"/>
<polygon points="382.2,120 385.5,121.7 380.5,126.2 377.2,124.5" color="#aad259"/>
<path d="M385.6 106.9L395.6 112.7M385.6 106.9L370.5 121.3M370.5 121.3L380.5 126.2" stroke="#001810" stroke-opacity="0.5" stroke-width="0.9" fill="none"/>
<circle cx="385.6" cy="106.9" r="1.05" fill="#111"/>
<circle cx="370.5" cy="121.3" r="1.05" fill="#111"/>
<polygon points="420.6,107.7 424,109.6 418.9,112.9 415.6,111.1" color="#7dcea2"/>
<polygon points="415.6,111.1 418.9,112.9 413.9,116.2 410.6,114.4" color="#81ce9b"/>
<polygon points="410.6,114.4 413.9,116.2 408.9,119.5 405.6,117.7" color="#87ce93"/>
<polygon points="424,109.6 427.3,111.5 422.3,114.8 418.9,112.9" color="#7bcda8"/>
<polygon points="418.9,112.9 422.3,114.8 417.2,118 413.9,116.2" color="#7ecea1"/>
<polygon points="413.9,116.2 417.2,118 412.2,121.3 408.9,119.5" color="#84ce97"/>
<polygon points="427.3,111.5 430.6,113.4 425.6,116.6 422.3,114.8" color="#79ccad"/>
<polygon points="422.3,114.8 425.6,116.6 420.6,119.8 417.2,118" color="#7ccda5"/>
<polygon points="417.2,118 420.6,119.8 415.5,123.1 412.2,121.3" color="#81ce9c"/>
<path d="M420.6 107.7L430.6 113.4M420.6 107.7L405.6 117.7M430.6 113.4L415.5 123.1" stroke="#001810" stroke-opacity="0.5" stroke-width="0.9" fill="none"/>
<circle cx="420.6" cy="107.7" r="1.05" fill="#111"/>
<circle cx="430.6" cy="113.4" r="1.05" fill="#111"/>
<polygon points="395.6,112.7 398.9,114.4 393.9,118.9 390.6,117.2" color="#91cf84"/>
<polygon points="390.6,117.2 393.9,118.9 388.9,123.4 385.5,121.7" color="#9ed16d"/>
<polygon points="385.5,121.7 388.9,123.4 383.8,127.9 380.5,126.2" color="#aad259"/>
<polygon points="398.9,114.4 402.2,116 397.2,120.6 393.9,118.9" color="#91cf84"/>
<polygon points="393.9,118.9 397.2,120.6 392.2,125.2 388.9,123.4" color="#9ed16d"/>
<polygon points="388.9,123.4 392.2,125.2 387.2,129.7 383.8,127.9" color="#aad259"/>
<polygon points="402.2,116 405.6,117.7 400.5,122.3 397.2,120.6" color="#91cf84"/>
<polygon points="397.2,120.6 400.5,122.3 395.5,126.9 392.2,125.2" color="#9ed16d"/>
<polygon points="392.2,125.2 395.5,126.9 390.5,131.5 387.2,129.7" color="#aad259"/>
<path d="M395.6 112.7L405.6 117.7M395.6 112.7L380.5 126.2M380.5 126.2L390.5 131.5" stroke="#001810" stroke-opacity="0.5" stroke-width="0.9" fill="none"/>
<circle cx="395.6" cy="112.7" r="1.05" fill="#111"/>
<circle cx="380.5" cy="126.2" r="1.05" fill="#111"/>
<polygon points="405.6,117.7 408.9,119.5 403.9,124.3 400.5,122.3" color="#90cf85"/>
<polygon points="400.5,122.3 403.9,124.3 398.8,129.1 395.5,126.9" color="#9dd170"/>
<polygon points="395.5,126.9 398.8,129.1 393.8,133.9 390.5,131.5" color="#a9d25b"/>
<polygon points="408.9,119.5 412.2,121.3 407.2,126.3 403.9,124.3" color="#8dcf89"/>
<polygon points="403.9,124.3 407.2,126.3 402.2,131.3 398.8,129.1" color="#9ad074"/>
<polygon points="398.8,129.1 402.2,131.3 397.1,136.3 393.8,133.9" color="#a7d25e"/>
<polygon points="412.2,121.3 415.5,123.1 410.5,128.3 407.2,126.3" color="#8bcf8d"/>
<polygon points="407.2,126.3 410.5,128.3 405.5,133.5 402.2,131.3" color="#98d078"/>
<polygon points="402.2,131.3 405.5,133.5 400.4,138.7 397.1,136.3" color="#a4d262"/>
<path d="M405.6 117.7L415.5 123.1M405.6 117.7L390.5 131.5M390.5 131.5L400.4 138.7M415.5 123.1L400.4 138.7" stroke="#001810" stroke-opacity="0.5" stroke-width="0.9" fill="none"/>
<circle cx="405.6" cy="117.7" r="1.05" fill="#111"/>
<circle cx="415.5" cy="123.1" r="1.05" fill="#111"/>
<circle cx="390.5" cy="131.5" r="1.05" fill="#111"/>
<circle cx="400.4" cy="138.7" r="1.05" fill="#111"/>
<path d="M118.1 231.3L118.1 191.3M100.2 241.1L100.2 201.1M82.3 250.8L82.3 210.9M64.3 260.6L64.3 220.6M46.4 270.3L46.4 230.4M28.5 280.1L28.5 240.1M118.1 227.3L28.5 276.1M118.1 218.7L28.5 267.5M118.1 210.0L28.5 258.8M118.1 201.4L28.5 250.2M118.1 192.7L28.5 241.5M118.1 231.3L118.1 191.3M128.0 236.7L128.0 196.7M137.9 242.1L137.9 202.2M147.9 247.5L147.9 207.6M157.8 252.9L157.8 213.0M167.7 258.4L167.7 218.4M177.6 263.8L177.6 223.8M187.5 269.2L187.5 229.2M197.5 274.6L197.5 234.6M207.4 280.0L207.4 240.0M118.1 227.3L207.4 276.0M118.1 218.7L207.4 267.4M118.1 210.0L207.4 258.7M118.1 201.4L207.4 250.1M118.1 192.7L207.4 241.4M118.1 231.3L28.5 280.1M128.0 236.7L38.4 285.5M137.9 242.1L48.3 290.9M147.9 247.5L58.3 296.3M157.8 252.9L68.2 301.7M167.7 258.4L78.1 307.2M177.6 263.8L88.0 312.6M187.5 269.2L97.9 318.0M197.5 274.6L107.9 323.4M207.4 280.0L117.8 328.8M118.1 231.3L207.4 280.0M100.2 241.1L189.5 289.8M82.3 250.8L171.5 299.5M64.3 260.6L153.6 309.3M46.4 270.3L135.7 319.0M28.5 280.1L117.8 328.8" stroke="#e4e0e0" stroke-width="0.7" fill="none"/>
<path d="M28.5 240.1L28.5 280.1M28.5 280.1L117.8 328.8L207.4 280.0M28.5 276.1l-1.8 1.0M28.5 267.5l-1.8 1.0M28.5 258.8l-1.8 1.0M28.5 250.2l-1.8 1.0M28.5 241.5l-1.8 1.0M28.5 280.1l2.2 -1.2M38.4 285.5l2.2 -1.2M48.3 290.9l2.2 -1.2M58.3 296.3l2.2 -1.2M68.2 301.7l2.2 -1.2M78.1 307.2l2.2 -1.2M88.0 312.6l2.2 -1.2M97.9 318.0l2.2 -1.2M107.9 323.4l2.2 -1.2M117.8 328.8l2.2 -1.2M207.4 280.0l-2.2 -1.2M189.5 289.8l-2.2 -1.2M171.5 299.5l-2.2 -1.2M153.6 309.3l-2.2 -1.2M135.7 319.0l-2.2 -1.2M117.8 328.8l-2.2 -1.2" stroke="#333" stroke-width="1" fill="none"/>
<polygon points="118.1,219.4 121.4,218.9 115.4,221.4 112.1,221.5" color="#7dcda4"/>
<polygon points="112.1,221.5 115.4,221.4 109.5,223.9 106.2,223.7" color="#7dcda4"/>
<polygon points="106.2,223.7 109.5,223.9 103.5,226.4 100.2,225.8" color="#7dcda4"/>
<polygon points="121.4,218.9 124.7,218.5 118.7,221.3 115.4,221.4" color="#7dcda4"/>
<polygon points="115.4,221.4 118.7,221.3 112.8,224.1 109.5,223.9" color="#7dcda4"/>
<polygon points="109.5,223.9 112.8,224.1 106.8,226.9 103.5,226.4" color="#7dcda4"/>
<polygon points="124.7,218.5 128,218.1 122,221.2 118.7,221.3" color="#7dcda4"/>
<polygon points="118.7,221.3 122,221.2 116.1,224.3 112.8,224.1" color="#7dcda4"/>
<polygon points="112.8,224.1 116.1,224.3 110.1,227.4 106.8,226.9" color="#7dcda4"/>
<path d="M118.1 219.4L128.0 218.1M118.1 219.4L100.2 225.8" stroke="#001810" stroke-opacity="0.5" stroke-width="0.9" fill="none"/>
<circle cx="118.1" cy="219.4" r="1.05" fill="#111"/>
<polygon points="128,218.1 131.3,220.7 125.4,223.1 122,221.2" color="#7dcda4"/>
<polygon points="122,221.2 125.4,223.1 119.4,225.5 116.1,224.3" color="#7dcda4"/>
<polygon points="116.1,224.3 119.4,225.5 113.4,227.9 110.1,227.4" color="#7dcda4"/>
<polygon points="131.3,220.7 134.6,223.2 128.7,224.9 125.4,223.1" color="#7dcda4"/>
<polygon points="125.4,223.1 128.7,224.9 122.7,226.6 119.4,225.5" color="#7dcda4"/>
<polygon points="119.4,225.5 122.7,226.6 116.7,228.3 113.4,227.9" color="#7dcda4"/>
<polygon points="134.6,223.2 137.9,225.8 132,226.7 128.7,224.9" color="#7dcda4"/>
<polygon points="128.7,224.9 132,226.7 126,227.7 122.7,226.6" color="#7dcda4"/>
<polygon points="122.7,226.6 126,227.7 120,228.7 116.7,228.3" color="#7dcda4"/>
<path d="M128.0 218.1L110.1 227.4M128.0 218.1L137.9 225.8" stroke="#001810" stroke-opacity="0.5" stroke-width="0.9" fill="none"/>
<circle cx="128.0" cy="218.1" r="1.05" fill="#111"/>
<polygon points="100.2,225.8 103.5,226.4 97.5,231.7 94.2,230.6" color="#7ecea0"/>
<polygon points="94.2,230.6 97.5,231.7 91.5,237 88.2,235.4" color="#84ce97"/>
<polygon points="88.2,235.4 91.5,237 85.6,242.3 82.3,240.2" color="#8bcf8d"/>
<polygon points="103.5,226.4 106.8,226.9 100.8,232.7 97.5,231.7" color="#7fce9e"/>
<polygon points="97.5,231.7 100.8,232.7 94.8,238.5 91.5,237" color="#89cf8f"/>
<polygon points="91.5,237 94.8,238.5 88.9,244.4 85.6,242.3" color="#94cf80"/>
<polygon points="106.8,226.9 110.1,227.4 104.1,233.8 100.8,232.7" color="#81ce9c"/>
<polygon points="100.8,232.7 104.1,233.8 98.2,240.1 94.8,238.5" color="#8ecf88"/>
<polygon points="94.8,238.5 98.2,240.1 92.2,246.5 88.9,244.4" color="#9cd071"/>
<path d="M100.2 225.8L110.1 227.4M100.2 225.8L82.3 240.2" stroke="#001810" stroke-opacity="0.5" stroke-width="0.9" fill="none"/>
<circle cx="100.2" cy="225.8" r="1.05" fill="#111"/>
<polygon points="137.9,225.8 141.2,228.7 135.3,230.1 132,226.7" color="#7dcda4"/>
<polygon points="132,226.7 135.3,230.1 129.3,231.5 126,227.7" color="#7dcda4"/>
<polygon points="126,227.7 129.3,231.5 123.3,232.9 120,228.7" color="#7dcda4"/>
<polygon points="141.2,228.7 144.6,231.6 138.6,233.4 135.3,230.1" color="#7dcda4"/>
<polygon points="135.3,230.1 138.6,233.4 132.6,235.2 129.3,231.5" color="#7dcda4"/>
<polygon points="129.3,231.5 132.6,235.2 126.6,237 123.3,232.9" color="#7dcda4"/>
<polygon points="144.6,231.6 147.9,234.5 141.9,236.7 138.6,233.4" color="#7dcda4"/>
<polygon points="138.6,233.4 141.9,236.7 135.9,239 132.6,235.2" color="#7dcda4"/>
<polygon points="132.6,235.2 135.9,239 129.9,241.2 126.6,237" color="#7dcda4"/>
<path d="M137.9 225.8L120.0 228.7M137.9 225.8L147.9 234.5" stroke="#001810" stroke-opacity="0.5" stroke-width="0.9" fill="none"/>
<circle cx="137.9" cy="225.8" r="1.05" fill="#111"/>
<polygon points="110.1,227.4 113.4,227.9 107.4,235.3 104.1,233.8" color="#83ce99"/>
<polygon points="104.1,233.8 107.4,235.3 101.5,242.8 98.2,240.1" color="#95d07d"/>
<polygon points="98.2,240.1 101.5,242.8 95.5,250.3 92.2,246.5" color="#a7d25e"/>
<polygon points="113.4,227.9 116.7,228.3 110.7,236.9 107.4,235.3" color="#86ce95"/>
<polygon points="107.4,235.3 110.7,236.9 104.8,245.5 101.5,242.8" color="#9cd070"/>
<polygon points="101.5,242.8 104.8,245.5 98.8,254.1 95.5,250.3" color="#b1d451"/>
<polygon points="116.7,228.3 120,228.7 114,238.4 110.7,236.9" color="#88cf91"/>
<polygon points="110.7,236.9 114,238.4 108.1,248.2 104.8,245.5" color="#a4d263"/>
<polygon points="104.8,245.5 108.1,248.2 102.1,257.9 98.8,254.1" color="#bbd645"/>
<path d="M110.1 227.4L120.0 228.7M110.1 227.4L92.2 246.5" stroke="#001810" stroke-opacity="0.5" stroke-width="0.9" fill="none"/>
<circle cx="110.1" cy="227.4" r="1.05" fill="#111"/>
<polygon points="147.9,234.5 151.2,236.1 145.2,238.4 141.9,236.7" color="#7ccda5"/>
<polygon points="141.9,236.7 145.2,238.4 139.2,240.6 135.9,239" color="#7ccda6"/>
<polygon points="135.9,239 139.2,240.6 133.2,242.9 129.9,241.2" color="#7bcda8"/>
<polygon points="151.2,236.1 154.5,237.8 148.5,240.1 145.2,238.4" color="#7ccda6"/>
<polygon points="145.2,238.4 148.5,240.1 142.5,242.3 139.2,240.6" color="#7acdaa"/>
<polygon points="139.2,240.6 142.5,242.3 136.6,244.6 133.2,242.9" color="#79ccae"/>
<polygon points="154.5,237.8 157.8,239.4 151.8,241.7 148.5,240.1" color="#7bcda7"/>
<polygon points="148.5,240.1 151.8,241.7 145.8,244 142.5,242.3" color="#79ccae"/>
<polygon points="142.5,242.3 145.8,244 139.9,246.3 136.6,244.6" color="#76cbb5"/>
<path d="M147.9 234.5L129.9 241.2M147.9 234.5L157.8 239.4" stroke="#001810" stroke-opacity="0.5" stroke-width="0.9" fill="none"/>
<circle cx="147.9" cy="234.5" r="1.05" fill="#111"/>
<polygon points="82.3,240.2 85.6,242.3 79.6,247.7 76.3,245.7" color="#97d079"/>
<polygon points="76.3,245.7 79.6,247.7 73.6,253.1 70.3,251.3" color="#a8d25b"/>
<polygon points="70.3,251.3 73.6,253.1 67.6,258.6 64.3,256.9" color="#b6d54b"/>
<polygon points="85.6,242.3 88.9,244.4 82.9,249.7 79.6,247.7" color="#a4d164"/>
<polygon points="79.6,247.7 82.9,249.7 76.9,255 73.6,253.1" color="#b5d54b"/>
<polygon points="73.6,253.1 76.9,255 71,260.3 67.6,258.6" color="#c7d837"/>
<polygon points="88.9,244.4 92.2,246.5 86.2,251.6 82.9,249.7" color="#aed354"/>
<polygon points="82.9,249.7 86.2,251.6 80.2,256.8 76.9,255" color="#c2d73b"/>
<polygon points="76.9,255 80.2,256.8 74.3,262 71,260.3" color="#d8db2a"/>
<path d="M82.3 240.2L92.2 246.5M82.3 240.2L64.3 256.9" stroke="#001810" stroke-opacity="0.5" stroke-width="0.9" fill="none"/>
<circle cx="82.3" cy="240.2" r="1.05" fill="#111"/>
<polygon points="120,228.7 123.3,232.9 117.4,241.3 114,238.4" color="#88cf92"/>
<polygon points="114,238.4 117.4,241.3 111.4,249.7 108.1,248.2" color="#a3d165"/>
<polygon points="108.1,248.2 111.4,249.7 105.4,258.1 102.1,257.9" color="#b9d547"/>
<polygon points="123.3,232.9 126.6,237 120.7,244.1 117.4,241.3" color="#84ce97"/>
<polygon points="117.4,241.3 120.7,244.1 114.7,251.2 111.4,249.7" color="#99d077"/>
<polygon points="111.4,249.7 114.7,251.2 108.7,258.4 105.4,258.1" color="#acd357"/>
<polygon points="126.6,237 129.9,241.2 124,247 120.7,244.1" color="#81ce9c"/>
<polygon points="120.7,244.1 124,247 118,252.8 114.7,251.2" color="#8ecf88"/>
<polygon points="114.7,251.2 118,252.8 112,258.6 108.7,258.4" color="#9cd071"/>
<path d="M120.0 228.7L129.9 241.2M120.0 228.7L102.1 257.9" stroke="#001810" stroke-opacity="0.5" stroke-width="0.9" fill="none"/>
<circle cx="120.0" cy="228.7" r="1.05" fill="#111"/>
<polygon points="157.8,239.4 161.1,241.2 155.1,243.2 151.8,241.7" color="#7acdab"/>
<polygon points="151.8,241.7 155.1,243.2 149.1,245.1 145.8,244" color="#76cbb5"/>
<polygon points="145.8,244 149.1,245.1 143.2,247 139.9,246.3" color="#73cac0"/>
<polygon points="161.1,241.2 164.4,243.1 158.4,244.6 155.1,243.2" color="#78ccb0"/>
<polygon points="155.1,243.2 158.4,244.6 152.4,246.2 149.1,245.1" color="#73cabf"/>
<polygon points="149.1,245.1 152.4,246.2 146.5,247.8 143.2,247" color="#6dc8cd"/>
<polygon points="164.4,243.1 167.7,244.9 161.7,246.1 158.4,244.6" color="#77cbb5"/>
<polygon points="158.4,244.6 161.7,246.1 155.8,247.3 152.4,246.2" color="#70c9c8"/>
<polygon points="152.4,246.2 155.8,247.3 149.8,248.6 146.5,247.8" color="#60c4d8"/>
<path d="M157.8 239.4L139.9 246.3M157.8 239.4L167.7 244.9" stroke="#001810" stroke-opacity="0.5" stroke-width="0.9" fill="none"/>
<circle cx="157.8" cy="239.4" r="1.05" fill="#111"/>
<polygon points="92.2,246.5 95.5,250.3 89.5,254.7 86.2,251.6" color="#b8d548"/>
<polygon points="86.2,251.6 89.5,254.7 83.5,259.1 80.2,256.8" color="#cdd932"/>
<polygon points="80.2,256.8 83.5,259.1 77.6,263.5 74.3,262" color="#e2dc23"/>
<polygon points="95.5,250.3 98.8,254.1 92.8,257.7 89.5,254.7" color="#c2d73b"/>
<polygon points="89.5,254.7 92.8,257.7 86.8,261.4 83.5,259.1" color="#d4da2d"/>
<polygon points="83.5,259.1 86.8,261.4 80.9,265 77.6,263.5" color="#e6dd20"/>
<polygon points="98.8,254.1 102.1,257.9 96.1,260.8 92.8,257.7" color="#cdd932"/>
<polygon points="92.8,257.7 96.1,260.8 90.2,263.7 86.8,261.4" color="#dcdb28"/>
<polygon points="86.8,261.4 90.2,263.7 84.2,266.6 80.9,265" color="#eade1d"/>
<path d="M92.2 246.5L102.1 257.9M92.2 246.5L74.3 262.0" stroke="#001810" stroke-opacity="0.5" stroke-width="0.9" fill="none"/>
<circle cx="92.2" cy="246.5" r="1.05" fill="#111"/>
<polygon points="129.9,241.2 133.2,242.9 127.3,248.5 124,247" color="#7dcda4"/>
<polygon points="124,247 127.3,248.5 121.3,254.1 118,252.8" color="#82ce99"/>
<polygon points="118,252.8 121.3,254.1 115.3,259.7 112,258.6" color="#8acf8e"/>
<polygon points="133.2,242.9 136.6,244.6 130.6,250 127.3,248.5" color="#79ccae"/>
<polygon points="127.3,248.5 130.6,250 124.6,255.4 121.3,254.1" color="#7acdaa"/>
<polygon points="121.3,254.1 124.6,255.4 118.6,260.9 115.3,259.7" color="#7ccda6"/>
<polygon points="136.6,244.6 139.9,246.3 133.9,251.5 130.6,250" color="#75cbb9"/>
<polygon points="130.6,250 133.9,251.5 127.9,256.8 124.6,255.4" color="#75cbb9"/>
<polygon points="124.6,255.4 127.9,256.8 121.9,262 118.6,260.9" color="#75cbba"/>
<path d="M129.9 241.2L139.9 246.3M129.9 241.2L112.0 258.6" stroke="#001810" stroke-opacity="0.5" stroke-width="0.9" fill="none"/>
<circle cx="129.9" cy="241.2" r="1.05" fill="#111"/>
<polygon points="167.7,244.9 171,246.7 165,245.8 161.7,246.1" color="#73cac0"/>
<polygon points="161.7,246.1 165,245.8 159.1,245 155.8,247.3" color="#5bc3dc"/>
<polygon points="155.8,247.3 159.1,245 153.1,244.2 149.8,248.6" color="#3eb6ee"/>
<polygon points="171,246.7 174.3,248.5 168.3,245.6 165,245.8" color="#6ac7d0"/>
<polygon points="165,245.8 168.3,245.6 162.4,242.7 159.1,245" color="#3aaeec"/>
<polygon points="159.1,245 162.4,242.7 156.4,239.9 153.1,244.2" color="#326ad4"/>
<polygon points="174.3,248.5 177.6,250.3 171.6,245.4 168.3,245.6" color="#59c3dd"/>
<polygon points="168.3,245.6 171.6,245.4 165.7,240.5 162.4,242.7" color="#327edc"/>
<polygon points="162.4,242.7 165.7,240.5 159.7,235.5 156.4,239.9" color="#393bab"/>
<path d="M167.7 244.9L149.8 248.6M167.7 244.9L177.6 250.3" stroke="#001810" stroke-opacity="0.5" stroke-width="0.9" fill="none"/>
<circle cx="167.7" cy="244.9" r="1.05" fill="#111"/>
<polygon points="64.3,256.9 67.6,258.6 61.7,256.9 58.4,255.1" color="#b2d44f"/>
<polygon points="58.4,255.1 61.7,256.9 55.7,255.2 52.4,253.4" color="#9bd073"/>
<polygon points="52.4,253.4 55.7,255.2 49.7,253.5 46.4,251.7" color="#80ce9d"/>
<polygon points="67.6,258.6 71,260.3 65,258.6 61.7,256.9" color="#c1d73d"/>
<polygon points="61.7,256.9 65,258.6 59,256.9 55.7,255.2" color="#a6d25f"/>
<polygon points="55.7,255.2 59,256.9 53,255.3 49.7,253.5" color="#84ce98"/>
<polygon points="71,260.3 74.3,262 68.3,260.4 65,258.6" color="#d1da2f"/>
<polygon points="65,258.6 68.3,260.4 62.3,258.7 59,256.9" color="#afd453"/>
<polygon points="59,256.9 62.3,258.7 56.3,257.1 53,255.3" color="#87ce92"/>
<path d="M64.3 256.9L74.3 262.0M64.3 256.9L46.4 251.7" stroke="#001810" stroke-opacity="0.5" stroke-width="0.9" fill="none"/>
<circle cx="64.3" cy="256.9" r="1.05" fill="#111"/>
<polygon points="102.1,257.9 105.4,258.1 99.4,261.2 96.1,260.8" color="#cad934"/>
<polygon points="96.1,260.8 99.4,261.2 93.5,264.2 90.2,263.7" color="#d6db2b"/>
<polygon points="90.2,263.7 93.5,264.2 87.5,267.2 84.2,266.6" color="#e3dd23"/>
<polygon points="105.4,258.1 108.7,258.4 102.7,261.5 99.4,261.2" color="#bad646"/>
<polygon points="99.4,261.2 102.7,261.5 96.8,264.7 93.5,264.2" color="#c5d839"/>
<polygon points="93.5,264.2 96.8,264.7 90.8,267.8 87.5,267.2" color="#d0da30"/>
<polygon points="108.7,258.4 112,258.6 106,261.9 102.7,261.5" color="#a9d25b"/>
<polygon points="102.7,261.5 106,261.9 100.1,265.1 96.8,264.7" color="#b4d44e"/>
<polygon points="96.8,264.7 100.1,265.1 94.1,268.4 90.8,267.8" color="#bed641"/>
<path d="M102.1 257.9L112.0 258.6M102.1 257.9L84.2 266.6" stroke="#001810" stroke-opacity="0.5" stroke-width="0.9" fill="none"/>
<circle cx="102.1" cy="257.9" r="1.05" fill="#111"/>
<polygon points="139.9,246.3 143.2,247 137.2,251.9 133.9,251.5" color="#70c9c7"/>
<polygon points="133.9,251.5 137.2,251.9 131.2,256.8 127.9,256.8" color="#6fc8cb"/>
<polygon points="127.9,256.8 131.2,256.8 125.2,261.6 121.9,262" color="#6cc8ce"/>
<polygon points="143.2,247 146.5,247.8 140.5,252.3 137.2,251.9" color="#63c5d5"/>
<polygon points="137.2,251.9 140.5,252.3 134.5,256.8 131.2,256.8" color="#5dc4da"/>
<polygon points="131.2,256.8 134.5,256.8 128.6,261.3 125.2,261.6" color="#57c2df"/>
<polygon points="146.5,247.8 149.8,248.6 143.8,252.7 140.5,252.3" color="#53c1e2"/>
<polygon points="140.5,252.3 143.8,252.7 137.8,256.8 134.5,256.8" color="#4abee9"/>
<polygon points="134.5,256.8 137.8,256.8 131.9,260.9 128.6,261.3" color="#42bcf0"/>
<path d="M139.9 246.3L149.8 248.6M139.9 246.3L121.9 262.0" stroke="#001810" stroke-opacity="0.5" stroke-width="0.9" fill="none"/>
<circle cx="139.9" cy="246.3" r="1.05" fill="#111"/>
<polygon points="177.6,250.3 180.9,252.5 175,248.5 171.6,245.4" color="#54c1e1"/>
<polygon points="171.6,245.4 175,248.5 169,244.6 165.7,240.5" color="#3274d8"/>
<polygon points="165.7,240.5 169,244.6 163,240.6 159.7,235.5" color="#3a37a7"/>
<polygon points="180.9,252.5 184.2,254.7 178.3,251.7 175,248.5" color="#5bc3dc"/>
<polygon points="175,248.5 178.3,251.7 172.3,248.7 169,244.6" color="#3294e5"/>
<polygon points="169,244.6 172.3,248.7 166.3,245.7 163,240.6" color="#354fbe"/>
<polygon points="184.2,254.7 187.5,256.9 181.6,254.9 178.3,251.7" color="#61c4d7"/>
<polygon points="178.3,251.7 181.6,254.9 175.6,252.8 172.3,248.7" color="#3bafed"/>
<polygon points="172.3,248.7 175.6,252.8 169.6,250.8 166.3,245.7" color="#3279da"/>
<path d="M177.6 250.3L159.7 235.5M177.6 250.3L187.5 256.9" stroke="#001810" stroke-opacity="0.5" stroke-width="0.9" fill="none"/>
<circle cx="177.6" cy="250.3" r="1.05" fill="#111"/>
<polygon points="74.3,262 77.6,263.5 71.6,262 68.3,260.4" color="#dadb29"/>
<polygon points="68.3,260.4 71.6,262 65.6,260.5 62.3,258.7" color="#b4d44d"/>
<polygon points="62.3,258.7 65.6,260.5 59.6,259 56.3,257.1" color="#89cf90"/>
<polygon points="77.6,263.5 80.9,265 74.9,263.6 71.6,262" color="#dbdb28"/>
<polygon points="71.6,262 74.9,263.6 68.9,262.2 65.6,260.5" color="#b4d44d"/>
<polygon points="65.6,260.5 68.9,262.2 63,260.8 59.6,259" color="#87ce93"/>
<polygon points="80.9,265 84.2,266.6 78.2,265.3 74.9,263.6" color="#dddc27"/>
<polygon points="74.9,263.6 78.2,265.3 72.2,264 68.9,262.2" color="#b4d44d"/>
<polygon points="68.9,262.2 72.2,264 66.3,262.7 63,260.8" color="#85ce95"/>
<path d="M74.3 262.0L84.2 266.6M74.3 262.0L56.3 257.1" stroke="#001810" stroke-opacity="0.5" stroke-width="0.9" fill="none"/>
<circle cx="74.3" cy="262.0" r="1.05" fill="#111"/>
<polygon points="112,258.6 115.3,259.7 109.4,262.9 106,261.9" color="#93cf80"/>
<polygon points="106,261.9 109.4,262.9 103.4,266.2 100.1,265.1" color="#9dd16f"/>
<polygon points="100.1,265.1 103.4,266.2 97.4,269.4 94.1,268.4" color="#a7d25e"/>
<polygon points="115.3,259.7 118.6,260.9 112.7,264 109.4,262.9" color="#7dcea2"/>
<polygon points="109.4,262.9 112.7,264 106.7,267.2 103.4,266.2" color="#80ce9d"/>
<polygon points="103.4,266.2 106.7,267.2 100.7,270.4 97.4,269.4" color="#84ce98"/>
<polygon points="118.6,260.9 121.9,262 116,265.1 112.7,264" color="#74cabb"/>
<polygon points="112.7,264 116,265.1 110,268.2 106.7,267.2" color="#74cabd"/>
<polygon points="106.7,267.2 110,268.2 104,271.3 100.7,270.4" color="#73cac0"/>
<path d="M112.0 258.6L121.9 262.0M112.0 258.6L94.1 268.4" stroke="#001810" stroke-opacity="0.5" stroke-width="0.9" fill="none"/>
<circle cx="112.0" cy="258.6" r="1.05" fill="#111"/>
<polygon points="149.8,248.6 153.1,244.2 147.1,249.3 143.8,252.7" color="#36a5ea"/>
<polygon points="143.8,252.7 147.1,249.3 141.1,254.4 137.8,256.8" color="#37a5ea"/>
<polygon points="137.8,256.8 141.1,254.4 135.2,259.5 131.9,260.9" color="#37a6eb"/>
<polygon points="153.1,244.2 156.4,239.9 150.4,245.9 147.1,249.3" color="#345bc8"/>
<polygon points="147.1,249.3 150.4,245.9 144.4,252 141.1,254.4" color="#3270d7"/>
<polygon points="141.1,254.4 144.4,252 138.5,258 135.2,259.5" color="#328de2"/>
<polygon points="156.4,239.9 159.7,235.5 153.7,242.5 150.4,245.9" color="#3b34a3"/>
<polygon points="150.4,245.9 153.7,242.5 147.8,249.5 144.4,252" color="#3649b9"/>
<polygon points="144.4,252 147.8,249.5 141.8,256.6 138.5,258" color="#3272d7"/>
<path d="M149.8 248.6L159.7 235.5M149.8 248.6L131.9 260.9" stroke="#001810" stroke-opacity="0.5" stroke-width="0.9" fill="none"/>
<circle cx="149.8" cy="248.6" r="1.05" fill="#111"/>
<polygon points="187.5,256.9 190.8,258.9 184.9,258 181.6,254.9" color="#69c7d1"/>
<polygon points="181.6,254.9 184.9,258 178.9,257.1 175.6,252.8" color="#4cbfe8"/>
<polygon points="175.6,252.8 178.9,257.1 172.9,256.2 169.6,250.8" color="#38a7eb"/>
<polygon points="190.8,258.9 194.2,261 188.2,261.2 184.9,258" color="#70c9c7"/>
<polygon points="184.9,258 188.2,261.2 182.2,261.4 178.9,257.1" color="#61c4d7"/>
<polygon points="178.9,257.1 182.2,261.4 176.2,261.6 172.9,256.2" color="#4ec0e6"/>
<polygon points="194.2,261 197.5,263 191.5,264.3 188.2,261.2" color="#74cabc"/>
<polygon points="188.2,261.2 191.5,264.3 185.5,265.6 182.2,261.4" color="#71c9c4"/>
<polygon points="182.2,261.4 185.5,265.6 179.5,267 176.2,261.6" color="#6ec8cd"/>
<path d="M187.5 256.9L169.6 250.8M187.5 256.9L197.5 263.0" stroke="#001810" stroke-opacity="0.5" stroke-width="0.9" fill="none"/>
<circle cx="187.5" cy="256.9" r="1.05" fill="#111"/>
<polygon points="46.4,251.7 49.7,253.5 43.8,257.6 40.4,255.9" color="#7acdab"/>
<polygon points="40.4,255.9 43.8,257.6 37.8,261.8 34.5,260.2" color="#7bcda8"/>
<polygon points="34.5,260.2 37.8,261.8 31.8,266 28.5,264.4" color="#7ccda5"/>
<polygon points="49.7,253.5 53,255.3 47.1,259.4 43.8,257.6" color="#7acdab"/>
<polygon points="43.8,257.6 47.1,259.4 41.1,263.5 37.8,261.8" color="#7bcda8"/>
<polygon points="37.8,261.8 41.1,263.5 35.1,267.6 31.8,266" color="#7ccda5"/>
<polygon points="53,255.3 56.3,257.1 50.4,261.1 47.1,259.4" color="#7acdab"/>
<polygon points="47.1,259.4 50.4,261.1 44.4,265.1 41.1,263.5" color="#7bcda8"/>
<polygon points="41.1,263.5 44.4,265.1 38.4,269.2 35.1,267.6" color="#7ccda5"/>
<path d="M46.4 251.7L56.3 257.1M28.5 264.4L38.4 269.2M46.4 251.7L28.5 264.4" stroke="#001810" stroke-opacity="0.5" stroke-width="0.9" fill="none"/>
<circle cx="46.4" cy="251.7" r="1.05" fill="#111"/>
<circle cx="28.5" cy="264.4" r="1.05" fill="#111"/>
<polygon points="84.2,266.6 87.5,267.2 81.5,266.2 78.2,265.3" color="#d5da2c"/>
<polygon points="78.2,265.3 81.5,266.2 75.5,265.2 72.2,264" color="#afd353"/>
<polygon points="72.2,264 75.5,265.2 69.6,264.3 66.3,262.7" color="#81ce9b"/>
<polygon points="87.5,267.2 90.8,267.8 84.8,267.1 81.5,266.2" color="#c5d838"/>
<polygon points="81.5,266.2 84.8,267.1 78.8,266.4 75.5,265.2" color="#a4d263"/>
<polygon points="75.5,265.2 78.8,266.4 72.9,265.8 69.6,264.3" color="#7dcea3"/>
<polygon points="90.8,267.8 94.1,268.4 88.1,268 84.8,267.1" color="#b6d54b"/>
<polygon points="84.8,267.1 88.1,268 82.2,267.7 78.8,266.4" color="#97d079"/>
<polygon points="78.8,266.4 82.2,267.7 76.2,267.3 72.9,265.8" color="#7bcda9"/>
<path d="M84.2 266.6L94.1 268.4M84.2 266.6L66.3 262.7" stroke="#001810" stroke-opacity="0.5" stroke-width="0.9" fill="none"/>
<circle cx="84.2" cy="266.6" r="1.05" fill="#111"/>
<polygon points="121.9,262 125.2,261.6 119.3,264.8 116,265.1" color="#69c7d1"/>
<polygon points="116,265.1 119.3,264.8 113.3,267.9 110,268.2" color="#65c6d4"/>
<polygon points="110,268.2 113.3,267.9 107.3,271.1 104,271.3" color="#62c5d6"/>
<polygon points="125.2,261.6 128.6,261.3 122.6,264.5 119.3,264.8" color="#54c1e1"/>
<polygon points="119.3,264.8 122.6,264.5 116.6,267.7 113.3,267.9" color="#54c1e1"/>
<polygon points="113.3,267.9 116.6,267.7 110.6,270.9 107.3,271.1" color="#54c1e1"/>
<polygon points="128.6,261.3 131.9,260.9 125.9,264.2 122.6,264.5" color="#40baef"/>
<polygon points="122.6,264.5 125.9,264.2 119.9,267.4 116.6,267.7" color="#42bcef"/>
<polygon points="116.6,267.7 119.9,267.4 113.9,270.7 110.6,270.9" color="#46bdec"/>
<path d="M121.9 262.0L131.9 260.9M121.9 262.0L104.0 271.3" stroke="#001810" stroke-opacity="0.5" stroke-width="0.9" fill="none"/>
<circle cx="121.9" cy="262.0" r="1.05" fill="#111"/>
<polygon points="159.7,235.5 163,240.6 157,246.2 153.7,242.5" color="#3d309f"/>
<polygon points="153.7,242.5 157,246.2 151.1,251.8 147.8,249.5" color="#3742b3"/>
<polygon points="147.8,249.5 151.1,251.8 145.1,257.4 141.8,256.6" color="#326ad4"/>
<polygon points="163,240.6 166.3,245.7 160.3,249.9 157,246.2" color="#3740b1"/>
<polygon points="157,246.2 160.3,249.9 154.4,254.1 151.1,251.8" color="#3458c6"/>
<polygon points="151.1,251.8 154.4,254.1 148.4,258.3 145.1,257.4" color="#3275d9"/>
<polygon points="166.3,245.7 169.6,250.8 163.6,253.6 160.3,249.9" color="#3365d1"/>
<polygon points="160.3,249.9 163.6,253.6 157.7,256.4 154.4,254.1" color="#3271d7"/>
<polygon points="154.4,254.1 157.7,256.4 151.7,259.2 148.4,258.3" color="#3280dd"/>
<path d="M159.7 235.5L169.6 250.8M159.7 235.5L141.8 256.6" stroke="#001810" stroke-opacity="0.5" stroke-width="0.9" fill="none"/>
<circle cx="159.7" cy="235.5" r="1.05" fill="#111"/>
<polygon points="197.5,263 200.8,264.9 194.8,266.4 191.5,264.3" color="#77cbb3"/>
<polygon points="191.5,264.3 194.8,266.4 188.8,267.9 185.5,265.6" color="#76cbb5"/>
<polygon points="185.5,265.6 188.8,267.9 182.8,269.4 179.5,267" color="#76cbb7"/>
<polygon points="200.8,264.9 204.1,266.8 198.1,268.5 194.8,266.4" color="#79ccad"/>
<polygon points="194.8,266.4 198.1,268.5 192.1,270.2 188.8,267.9" color="#79ccae"/>
<polygon points="188.8,267.9 192.1,270.2 186.2,271.9 182.8,269.4" color="#78ccb0"/>
<polygon points="204.1,266.8 207.4,268.7 201.4,270.6 198.1,268.5" color="#7bcda7"/>
<polygon points="198.1,268.5 201.4,270.6 195.4,272.5 192.1,270.2" color="#7bcda8"/>
<polygon points="192.1,270.2 195.4,272.5 189.5,274.4 186.2,271.9" color="#7bcda8"/>
<path d="M197.5 263.0L179.5 267.0M197.5 263.0L207.4 268.7M207.4 268.7L189.5 274.4" stroke="#001810" stroke-opacity="0.5" stroke-width="0.9" fill="none"/>
<circle cx="197.5" cy="263.0" r="1.05" fill="#111"/>
<circle cx="207.4" cy="268.7" r="1.05" fill="#111"/>
<polygon points="56.3,257.1 59.6,259 53.7,263 50.4,261.1" color="#7accac"/>
<polygon points="50.4,261.1 53.7,263 47.7,267 44.4,265.1" color="#7bcda9"/>
<polygon points="44.4,265.1 47.7,267 41.7,271 38.4,269.2" color="#7ccda6"/>
<polygon points="59.6,259 63,260.8 57,264.8 53.7,263" color="#79ccae"/>
<polygon points="53.7,263 57,264.8 51,268.8 47.7,267" color="#7acdaa"/>
<polygon points="47.7,267 51,268.8 45,272.8 41.7,271" color="#7ccda6"/>
<polygon points="63,260.8 66.3,262.7 60.3,266.7 57,264.8" color="#78ccb1"/>
<polygon points="57,264.8 60.3,266.7 54.3,270.7 51,268.8" color="#7accac"/>
<polygon points="51,268.8 54.3,270.7 48.3,274.7 45,272.8" color="#7ccda7"/>
<path d="M56.3 257.1L66.3 262.7M56.3 257.1L38.4 269.2M38.4 269.2L48.3 274.7" stroke="#001810" stroke-opacity="0.5" stroke-width="0.9" fill="none"/>
<circle cx="56.3" cy="257.1" r="1.05" fill="#111"/>
<circle cx="38.4" cy="269.2" r="1.05" fill="#111"/>
<polygon points="94.1,268.4 97.4,269.4 91.4,269.2 88.1,268" color="#9fd16b"/>
<polygon points="88.1,268 91.4,269.2 85.5,269.1 82.2,267.7" color="#86ce94"/>
<polygon points="82.2,267.7 85.5,269.1 79.5,268.9 76.2,267.3" color="#78ccb2"/>
<polygon points="97.4,269.4 100.7,270.4 94.7,270.4 91.4,269.2" color="#7fce9f"/>
<polygon points="91.4,269.2 94.7,270.4 88.8,270.4 85.5,269.1" color="#79ccae"/>
<polygon points="85.5,269.1 88.8,270.4 82.8,270.5 79.5,268.9" color="#74cabd"/>
<polygon points="100.7,270.4 104,271.3 98,271.6 94.7,270.4" color="#72c9c2"/>
<polygon points="94.7,270.4 98,271.6 92.1,271.8 88.8,270.4" color="#71c9c6"/>
<polygon points="88.8,270.4 92.1,271.8 86.1,272.1 82.8,270.5" color="#70c9c9"/>
<path d="M94.1 268.4L104.0 271.3M94.1 268.4L76.2 267.3" stroke="#001810" stroke-opacity="0.5" stroke-width="0.9" fill="none"/>
<circle cx="94.1" cy="268.4" r="1.05" fill="#111"/>
<polygon points="131.9,260.9 135.2,259.5 129.2,263 125.9,264.2" color="#39a9ec"/>
<polygon points="125.9,264.2 129.2,263 123.2,266.5 119.9,267.4" color="#3cb0ed"/>
<polygon points="119.9,267.4 123.2,266.5 117.2,270.1 113.9,270.7" color="#3fb7ef"/>
<polygon points="135.2,259.5 138.5,258 132.5,261.8 129.2,263" color="#34a0e9"/>
<polygon points="129.2,263 132.5,261.8 126.5,265.7 123.2,266.5" color="#39a9ec"/>
<polygon points="123.2,266.5 126.5,265.7 120.6,269.5 117.2,270.1" color="#3db3ee"/>
<polygon points="138.5,258 141.8,256.6 135.8,260.7 132.5,261.8" color="#3295e6"/>
<polygon points="132.5,261.8 135.8,260.7 129.8,264.8 126.5,265.7" color="#35a3ea"/>
<polygon points="126.5,265.7 129.8,264.8 123.9,268.9 120.6,269.5" color="#3bafed"/>
<path d="M131.9 260.9L141.8 256.6M131.9 260.9L113.9 270.7" stroke="#001810" stroke-opacity="0.5" stroke-width="0.9" fill="none"/>
<circle cx="131.9" cy="260.9" r="1.05" fill="#111"/>
<polygon points="169.6,250.8 172.9,256.2 167,259.2 163.6,253.6" color="#3297e6"/>
<polygon points="163.6,253.6 167,259.2 161,262.3 157.7,256.4" color="#3298e7"/>
<polygon points="157.7,256.4 161,262.3 155,265.4 151.7,259.2" color="#329ae8"/>
<polygon points="172.9,256.2 176.2,261.6 170.3,264.9 167,259.2" color="#44bdee"/>
<polygon points="167,259.2 170.3,264.9 164.3,268.2 161,262.3" color="#43bcef"/>
<polygon points="161,262.3 164.3,268.2 158.3,271.5 155,265.4" color="#42bcf0"/>
<polygon points="176.2,261.6 179.5,267 173.6,270.5 170.3,264.9" color="#68c6d1"/>
<polygon points="170.3,264.9 173.6,270.5 167.6,274.1 164.3,268.2" color="#65c6d4"/>
<polygon points="164.3,268.2 167.6,274.1 161.6,277.7 158.3,271.5" color="#61c4d7"/>
<path d="M169.6 250.8L179.5 267.0M169.6 250.8L151.7 259.2" stroke="#001810" stroke-opacity="0.5" stroke-width="0.9" fill="none"/>
<circle cx="169.6" cy="250.8" r="1.05" fill="#111"/>
<polygon points="66.3,262.7 69.6,264.3 63.6,268.3 60.3,266.7" color="#77cbb3"/>
<polygon points="60.3,266.7 63.6,268.3 57.6,272.4 54.3,270.7" color="#79ccad"/>
<polygon points="54.3,270.7 57.6,272.4 51.6,276.5 48.3,274.7" color="#7bcda7"/>
<polygon points="69.6,264.3 72.9,265.8 66.9,269.9 63.6,268.3" color="#76cbb5"/>
<polygon points="63.6,268.3 66.9,269.9 60.9,274.1 57.6,272.4" color="#79ccae"/>
<polygon points="57.6,272.4 60.9,274.1 55,278.3 51.6,276.5" color="#7bcda8"/>
<polygon points="72.9,265.8 76.2,267.3 70.2,271.5 66.9,269.9" color="#76cbb7"/>
<polygon points="66.9,269.9 70.2,271.5 64.2,275.8 60.9,274.1" color="#78ccb0"/>
<polygon points="60.9,274.1 64.2,275.8 58.3,280.1 55,278.3" color="#7bcda8"/>
<path d="M66.3 262.7L76.2 267.3M66.3 262.7L48.3 274.7M48.3 274.7L58.3 280.1" stroke="#001810" stroke-opacity="0.5" stroke-width="0.9" fill="none"/>
<circle cx="66.3" cy="262.7" r="1.05" fill="#111"/>
<circle cx="48.3" cy="274.7" r="1.05" fill="#111"/>
<polygon points="104,271.3 107.3,271.1 101.4,271.9 98,271.6" color="#62c5d6"/>
<polygon points="98,271.6 101.4,271.9 95.4,272.8 92.1,271.8" color="#66c6d3"/>
<polygon points="92.1,271.8 95.4,272.8 89.4,273.6 86.1,272.1" color="#6ac7d0"/>
<polygon points="107.3,271.1 110.6,270.9 104.7,272.3 101.4,271.9" color="#57c2df"/>
<polygon points="101.4,271.9 104.7,272.3 98.7,273.7 95.4,272.8" color="#5dc4da"/>
<polygon points="95.4,272.8 98.7,273.7 92.7,275.1 89.4,273.6" color="#63c5d5"/>
<polygon points="110.6,270.9 113.9,270.7 108,272.7 104.7,272.3" color="#4cbfe8"/>
<polygon points="104.7,272.3 108,272.7 102,274.6 98.7,273.7" color="#54c1e1"/>
<polygon points="98.7,273.7 102,274.6 96,276.6 92.7,275.1" color="#5dc4da"/>
<path d="M104.0 271.3L113.9 270.7M104.0 271.3L86.1 272.1" stroke="#001810" stroke-opacity="0.5" stroke-width="0.9" fill="none"/>
<circle cx="104.0" cy="271.3" r="1.05" fill="#111"/>
<polygon points="141.8,256.6 145.1,257.4 139.1,261.5 135.8,260.7" color="#3290e3"/>
<polygon points="135.8,260.7 139.1,261.5 133.1,265.5 129.8,264.8" color="#34a0e9"/>
<polygon points="129.8,264.8 133.1,265.5 127.2,269.5 123.9,268.9" color="#3baeed"/>
<polygon points="145.1,257.4 148.4,258.3 142.4,262.3 139.1,261.5" color="#3290e4"/>
<polygon points="139.1,261.5 142.4,262.3 136.4,266.2 133.1,265.5" color="#35a1ea"/>
<polygon points="133.1,265.5 136.4,266.2 130.5,270.1 127.2,269.5" color="#3cb0ed"/>
<polygon points="148.4,258.3 151.7,259.2 145.7,263.1 142.4,262.3" color="#3291e4"/>
<polygon points="142.4,262.3 145.7,263.1 139.8,266.9 136.4,266.2" color="#35a3ea"/>
<polygon points="136.4,266.2 139.8,266.9 133.8,270.8 130.5,270.1" color="#3db3ee"/>
<path d="M141.8 256.6L151.7 259.2M141.8 256.6L123.9 268.9" stroke="#001810" stroke-opacity="0.5" stroke-width="0.9" fill="none"/>
<circle cx="141.8" cy="256.6" r="1.05" fill="#111"/>
<polygon points="179.5,267 182.8,269.4 176.9,273.2 173.6,270.5" color="#74cabb"/>
<polygon points="173.6,270.5 176.9,273.2 170.9,276.9 167.6,274.1" color="#73cabf"/>
<polygon points="167.6,274.1 170.9,276.9 164.9,280.6 161.6,277.7" color="#71c9c4"/>
<polygon points="182.8,269.4 186.2,271.9 180.2,275.8 176.9,273.2" color="#78ccb2"/>
<polygon points="176.9,273.2 180.2,275.8 174.2,279.7 170.9,276.9" color="#77cbb4"/>
<polygon points="170.9,276.9 174.2,279.7 168.2,283.5 164.9,280.6" color="#76cbb7"/>
<polygon points="186.2,271.9 189.5,274.4 183.5,278.4 180.2,275.8" color="#7bcda9"/>
<polygon points="180.2,275.8 183.5,278.4 177.5,282.4 174.2,279.7" color="#7bcdaa"/>
<polygon points="174.2,279.7 177.5,282.4 171.5,286.4 168.2,283.5" color="#7acdaa"/>
<path d="M179.5 267.0L189.5 274.4M179.5 267.0L161.6 277.7M189.5 274.4L171.5 286.4" stroke="#001810" stroke-opacity="0.5" stroke-width="0.9" fill="none"/>
<circle cx="179.5" cy="267.0" r="1.05" fill="#111"/>
<circle cx="189.5" cy="274.4" r="1.05" fill="#111"/>
<polygon points="76.2,267.3 79.5,268.9 73.5,273.2 70.2,271.5" color="#74cabb"/>
<polygon points="70.2,271.5 73.5,273.2 67.5,277.5 64.2,275.8" color="#78ccb2"/>
<polygon points="64.2,275.8 67.5,277.5 61.6,281.8 58.3,280.1" color="#7bcda9"/>
<polygon points="79.5,268.9 82.8,270.5 76.8,274.8 73.5,273.2" color="#73cabf"/>
<polygon points="73.5,273.2 76.8,274.8 70.8,279.2 67.5,277.5" color="#77cbb4"/>
<polygon points="67.5,277.5 70.8,279.2 64.9,283.5 61.6,281.8" color="#7bcdaa"/>
<polygon points="82.8,270.5 86.1,272.1 80.1,276.5 76.8,274.8" color="#71c9c4"/>
<polygon points="76.8,274.8 80.1,276.5 74.2,280.8 70.8,279.2" color="#76cbb7"/>
<polygon points="70.8,279.2 74.2,280.8 68.2,285.2 64.9,283.5" color="#7acdaa"/>
<path d="M76.2 267.3L86.1 272.1M76.2 267.3L58.3 280.1M58.3 280.1L68.2 285.2" stroke="#001810" stroke-opacity="0.5" stroke-width="0.9" fill="none"/>
<circle cx="76.2" cy="267.3" r="1.05" fill="#111"/>
<circle cx="58.3" cy="280.1" r="1.05" fill="#111"/>
<polygon points="113.9,270.7 117.2,270.1 111.3,273 108,272.7" color="#45bded"/>
<polygon points="108,272.7 111.3,273 105.3,275.8 102,274.6" color="#4fc0e5"/>
<polygon points="102,274.6 105.3,275.8 99.3,278.7 96,276.6" color="#5ac3dd"/>
<polygon points="117.2,270.1 120.6,269.5 114.6,273.2 111.3,273" color="#43bcef"/>
<polygon points="111.3,273 114.6,273.2 108.6,277 105.3,275.8" color="#4ec0e6"/>
<polygon points="105.3,275.8 108.6,277 102.6,280.8 99.3,278.7" color="#59c2dd"/>
<polygon points="120.6,269.5 123.9,268.9 117.9,273.5 114.6,273.2" color="#41bcf0"/>
<polygon points="114.6,273.2 117.9,273.5 111.9,278.2 108.6,277" color="#4dbfe7"/>
<polygon points="108.6,277 111.9,278.2 105.9,282.8 102.6,280.8" color="#59c2dd"/>
<path d="M113.9 270.7L123.9 268.9M113.9 270.7L96.0 276.6" stroke="#001810" stroke-opacity="0.5" stroke-width="0.9" fill="none"/>
<circle cx="113.9" cy="270.7" r="1.05" fill="#111"/>
<polygon points="151.7,259.2 155,265.4 149,269.2 145.7,263.1" color="#35a2ea"/>
<polygon points="145.7,263.1 149,269.2 143.1,273.1 139.8,266.9" color="#3cb1ed"/>
<polygon points="139.8,266.9 143.1,273.1 137.1,276.9 133.8,270.8" color="#44bded"/>
<polygon points="155,265.4 158.3,271.5 152.3,275.4 149,269.2" color="#46bdec"/>
<polygon points="149,269.2 152.3,275.4 146.4,279.2 143.1,273.1" color="#50c0e4"/>
<polygon points="143.1,273.1 146.4,279.2 140.4,283.1 137.1,276.9" color="#5ac3dd"/>
<polygon points="158.3,271.5 161.6,277.7 155.6,281.5 152.3,275.4" color="#62c5d6"/>
<polygon points="152.3,275.4 155.6,281.5 149.7,285.4 146.4,279.2" color="#69c7d1"/>
<polygon points="146.4,279.2 149.7,285.4 143.7,289.2 140.4,283.1" color="#6fc8cb"/>
<path d="M151.7 259.2L161.6 277.7M151.7 259.2L133.8 270.8" stroke="#001810" stroke-opacity="0.5" stroke-width="0.9" fill="none"/>
<circle cx="151.7" cy="259.2" r="1.05" fill="#111"/>
<polygon points="86.1,272.1 89.4,273.6 83.4,278.1 80.1,276.5" color="#70c9c8"/>
<polygon points="80.1,276.5 83.4,278.1 77.5,282.6 74.2,280.8" color="#75cbba"/>
<polygon points="74.2,280.8 77.5,282.6 71.5,287.1 68.2,285.2" color="#7accab"/>
<polygon points="89.4,273.6 92.7,275.1 86.7,279.7 83.4,278.1" color="#6ec8cd"/>
<polygon points="83.4,278.1 86.7,279.7 80.8,284.4 77.5,282.6" color="#74cabd"/>
<polygon points="77.5,282.6 80.8,284.4 74.8,289 71.5,287.1" color="#7accac"/>
<polygon points="92.7,275.1 96,276.6 90,281.4 86.7,279.7" color="#6ac7d0"/>
<polygon points="86.7,279.7 90,281.4 84.1,286.1 80.8,284.4" color="#73cabf"/>
<polygon points="80.8,284.4 84.1,286.1 78.1,290.9 74.8,289" color="#79ccad"/>
<path d="M86.1 272.1L96.0 276.6M86.1 272.1L68.2 285.2M68.2 285.2L78.1 290.9" stroke="#001810" stroke-opacity="0.5" stroke-width="0.9" fill="none"/>
<circle cx="86.1" cy="272.1" r="1.05" fill="#111"/>
<circle cx="68.2" cy="285.2" r="1.05" fill="#111"/>
<polygon points="123.9,268.9 127.2,269.5 121.2,274.6 117.9,273.5" color="#41bcf0"/>
<polygon points="117.9,273.5 121.2,274.6 115.2,279.7 111.9,278.2" color="#4ec0e6"/>
<polygon points="111.9,278.2 115.2,279.7 109.2,284.8 105.9,282.8" color="#5bc3dc"/>
<polygon points="127.2,269.5 130.5,270.1 124.5,275.7 121.2,274.6" color="#44bdee"/>
<polygon points="121.2,274.6 124.5,275.7 118.5,281.3 115.2,279.7" color="#52c0e3"/>
<polygon points="115.2,279.7 118.5,281.3 112.6,286.8 109.2,284.8" color="#60c4d8"/>
<polygon points="130.5,270.1 133.8,270.8 127.8,276.8 124.5,275.7" color="#47beeb"/>
<polygon points="124.5,275.7 127.8,276.8 121.8,282.8 118.5,281.3" color="#56c2e0"/>
<polygon points="118.5,281.3 121.8,282.8 115.9,288.8 112.6,286.8" color="#64c5d5"/>
<path d="M123.9 268.9L133.8 270.8M123.9 268.9L105.9 282.8" stroke="#001810" stroke-opacity="0.5" stroke-width="0.9" fill="none"/>
<circle cx="123.9" cy="268.9" r="1.05" fill="#111"/>
<polygon points="161.6,277.7 164.9,280.6 159,284.3 155.6,281.5" color="#71c9c4"/>
<polygon points="155.6,281.5 159,284.3 153,288.1 149.7,285.4" color="#73cabf"/>
<polygon points="149.7,285.4 153,288.1 147,291.8 143.7,289.2" color="#74cabb"/>
<polygon points="164.9,280.6 168.2,283.5 162.3,287.1 159,284.3" color="#76cbb7"/>
<polygon points="159,284.3 162.3,287.1 156.3,290.7 153,288.1" color="#77cbb4"/>
<polygon points="153,288.1 156.3,290.7 150.3,294.3 147,291.8" color="#78ccb2"/>
<polygon points="168.2,283.5 171.5,286.4 165.6,289.9 162.3,287.1" color="#7acdaa"/>
<polygon points="162.3,287.1 165.6,289.9 159.6,293.4 156.3,290.7" color="#7bcdaa"/>
<polygon points="156.3,290.7 159.6,293.4 153.6,296.9 150.3,294.3" color="#7bcda9"/>
<path d="M161.6 277.7L171.5 286.4M161.6 277.7L143.7 289.2M171.5 286.4L153.6 296.9" stroke="#001810" stroke-opacity="0.5" stroke-width="0.9" fill="none"/>
<circle cx="161.6" cy="277.7" r="1.05" fill="#111"/>
<circle cx="171.5" cy="286.4" r="1.05" fill="#111"/>
<polygon points="96,276.6 99.3,278.7 93.4,283.4 90,281.4" color="#68c6d2"/>
<polygon points="90,281.4 93.4,283.4 87.4,288 84.1,286.1" color="#72cac1"/>
<polygon points="84.1,286.1 87.4,288 81.4,292.7 78.1,290.9" color="#79ccaf"/>
<polygon points="99.3,278.7 102.6,280.8 96.7,285.3 93.4,283.4" color="#67c6d2"/>
<polygon points="93.4,283.4 96.7,285.3 90.7,289.9 87.4,288" color="#72c9c3"/>
<polygon points="87.4,288 90.7,289.9 84.7,294.5 81.4,292.7" color="#78ccb1"/>
<polygon points="102.6,280.8 105.9,282.8 100,287.3 96.7,285.3" color="#67c6d3"/>
<polygon points="96.7,285.3 100,287.3 94,291.8 90.7,289.9" color="#71c9c4"/>
<polygon points="90.7,289.9 94,291.8 88,296.3 84.7,294.5" color="#77cbb3"/>
<path d="M96.0 276.6L105.9 282.8M96.0 276.6L78.1 290.9M78.1 290.9L88.0 296.3" stroke="#001810" stroke-opacity="0.5" stroke-width="0.9" fill="none"/>
<circle cx="96.0" cy="276.6" r="1.05" fill="#111"/>
<circle cx="78.1" cy="290.9" r="1.05" fill="#111"/>
<polygon points="133.8,270.8 137.1,276.9 131.1,281.6 127.8,276.8" color="#51c0e3"/>
<polygon points="127.8,276.8 131.1,281.6 125.1,286.2 121.8,282.8" color="#5ec4d9"/>
<polygon points="121.8,282.8 125.1,286.2 119.2,290.8 115.9,288.8" color="#6bc7cf"/>
<polygon points="137.1,276.9 140.4,283.1 134.4,286.3 131.1,281.6" color="#63c5d5"/>
<polygon points="131.1,281.6 134.4,286.3 128.4,289.6 125.1,286.2" color="#6cc8ce"/>
<polygon points="125.1,286.2 128.4,289.6 122.5,292.8 119.2,290.8" color="#71c9c6"/>
<polygon points="140.4,283.1 143.7,289.2 137.7,291.1 134.4,286.3" color="#71c9c5"/>
<polygon points="134.4,286.3 137.7,291.1 131.8,293 128.4,289.6" color="#73cac0"/>
<polygon points="128.4,289.6 131.8,293 125.8,294.8 122.5,292.8" color="#74cabb"/>
<path d="M133.8 270.8L143.7 289.2M133.8 270.8L115.9 288.8" stroke="#001810" stroke-opacity="0.5" stroke-width="0.9" fill="none"/>
<circle cx="133.8" cy="270.8" r="1.05" fill="#111"/>
<polygon points="105.9,282.8 109.2,284.8 103.3,289.2 100,287.3" color="#69c7d1"/>
<polygon points="100,287.3 103.3,289.2 97.3,293.7 94,291.8" color="#71c9c3"/>
<polygon points="94,291.8 97.3,293.7 91.3,298.1 88,296.3" color="#77cbb4"/>
<polygon points="109.2,284.8 112.6,286.8 106.6,291.2 103.3,289.2" color="#6dc8ce"/>
<polygon points="103.3,289.2 106.6,291.2 100.6,295.5 97.3,293.7" color="#72cac1"/>
<polygon points="97.3,293.7 100.6,295.5 94.6,299.9 91.3,298.1" color="#77cbb3"/>
<polygon points="112.6,286.8 115.9,288.8 109.9,293.1 106.6,291.2" color="#6fc8ca"/>
<polygon points="106.6,291.2 109.9,293.1 103.9,297.4 100.6,295.5" color="#73cabe"/>
<polygon points="100.6,295.5 103.9,297.4 97.9,301.7 94.6,299.9" color="#78ccb2"/>
<path d="M105.9 282.8L115.9 288.8M105.9 282.8L88.0 296.3M88.0 296.3L97.9 301.7" stroke="#001810" stroke-opacity="0.5" stroke-width="0.9" fill="none"/>
<circle cx="105.9" cy="282.8" r="1.05" fill="#111"/>
<circle cx="88.0" cy="296.3" r="1.05" fill="#111"/>
<polygon points="143.7,289.2 147,291.8 141,293.7 137.7,291.1" color="#76cbb7"/>
<polygon points="137.7,291.1 141,293.7 135.1,295.7 131.8,293" color="#76cbb5"/>
<polygon points="131.8,293 135.1,295.7 129.1,297.6 125.8,294.8" color="#77cbb3"/>
<polygon points="147,291.8 150.3,294.3 144.3,296.4 141,293.7" color="#78ccb0"/>
<polygon points="141,293.7 144.3,296.4 138.4,298.4 135.1,295.7" color="#79ccae"/>
<polygon points="135.1,295.7 138.4,298.4 132.4,300.4 129.1,297.6" color="#79ccad"/>
<polygon points="150.3,294.3 153.6,296.9 147.6,299 144.3,296.4" color="#7bcda8"/>
<polygon points="144.3,296.4 147.6,299 141.7,301.1 138.4,298.4" color="#7bcda8"/>
<polygon points="138.4,298.4 141.7,301.1 135.7,303.2 132.4,300.4" color="#7bcda7"/>
<path d="M143.7 289.2L153.6 296.9M143.7 289.2L125.8 294.8M153.6 296.9L135.7 303.2" stroke="#001810" stroke-opacity="0.5" stroke-width="0.9" fill="none"/>
<circle cx="143.7" cy="289.2" r="1.05" fill="#111"/>
<circle cx="153.6" cy="296.9" r="1.05" fill="#111"/>
<polygon points="115.9,288.8 119.2,290.8 113.2,295.1 109.9,293.1" color="#71c9c4"/>
<polygon points="109.9,293.1 113.2,295.1 107.2,299.3 103.9,297.4" color="#75cbba"/>
<polygon points="103.9,297.4 107.2,299.3 101.2,303.5 97.9,301.7" color="#78ccb0"/>
<polygon points="119.2,290.8 122.5,292.8 116.5,297 113.2,295.1" color="#74cabd"/>
<polygon points="113.2,295.1 116.5,297 110.5,301.1 107.2,299.3" color="#77cbb4"/>
<polygon points="107.2,299.3 110.5,301.1 104.6,305.3 101.2,303.5" color="#7accac"/>
<polygon points="122.5,292.8 125.8,294.8 119.8,298.9 116.5,297" color="#76cbb5"/>
<polygon points="116.5,297 119.8,298.9 113.8,303 110.5,301.1" color="#79ccaf"/>
<polygon points="110.5,301.1 113.8,303 107.9,307 104.6,305.3" color="#7bcda9"/>
<path d="M115.9 288.8L125.8 294.8M115.9 288.8L97.9 301.7M97.9 301.7L107.9 307.0" stroke="#001810" stroke-opacity="0.5" stroke-width="0.9" fill="none"/>
<circle cx="115.9" cy="288.8" r="1.05" fill="#111"/>
<circle cx="97.9" cy="301.7" r="1.05" fill="#111"/>
<polygon points="125.8,294.8 129.1,297.6 123.1,301.4 119.8,298.9" color="#79ccaf"/>
<polygon points="119.8,298.9 123.1,301.4 117.1,305.1 113.8,303" color="#7acdab"/>
<polygon points="113.8,303 117.1,305.1 111.2,308.8 107.9,307" color="#7ccda6"/>
<polygon points="129.1,297.6 132.4,300.4 126.4,303.8 123.1,301.4" color="#7acdab"/>
<polygon points="123.1,301.4 126.4,303.8 120.4,307.2 117.1,305.1" color="#7bcda8"/>
<polygon points="117.1,305.1 120.4,307.2 114.5,310.6 111.2,308.8" color="#7ccda5"/>
<polygon points="132.4,300.4 135.7,303.2 129.7,306.3 126.4,303.8" color="#7ccda6"/>
<polygon points="126.4,303.8 129.7,306.3 123.8,309.4 120.4,307.2" color="#7ccda5"/>
<polygon points="120.4,307.2 123.8,309.4 117.8,312.4 114.5,310.6" color="#7ccda5"/>
<path d="M125.8 294.8L135.7 303.2M125.8 294.8L107.9 307.0M107.9 307.0L117.8 312.4M135.7 303.2L117.8 312.4" stroke="#001810" stroke-opacity="0.5" stroke-width="0.9" fill="none"/>
<circle cx="125.8" cy="294.8" r="1.05" fill="#111"/>
<circle cx="135.7" cy="303.2" r="1.05" fill="#111"/>
<circle cx="107.9" cy="307.0" r="1.05" fill="#111"/>
<circle cx="117.8" cy="312.4" r="1.05" fill="#111"/>
<path d="M401.0 231.9L401.0 192.7M383.3 241.4L383.3 202.2M365.5 251.0L365.5 211.7M347.8 260.5L347.8 221.3M330.0 270.1L330.0 230.8M312.3 279.6L312.3 240.4M401.0 225.8L312.3 273.5M401.0 216.8L312.3 264.5M401.0 207.8L312.3 255.5M401.0 198.8L312.3 246.5M401.0 231.9L401.0 192.7M411.1 237.2L411.1 198.0M421.2 242.5L421.2 203.3M431.3 247.8L431.3 208.6M441.4 253.1L441.4 213.9M451.4 258.4L451.4 219.2M461.5 263.8L461.5 224.5M471.6 269.1L471.6 229.8M481.7 274.4L481.7 235.1M491.8 279.7L491.8 240.4M401.0 225.8L491.8 273.6M401.0 216.8L491.8 264.6M401.0 207.8L491.8 255.6M401.0 198.8L491.8 246.6M401.0 231.9L312.3 279.6M411.1 237.2L322.4 284.9M421.2 242.5L332.5 290.2M431.3 247.8L342.6 295.5M441.4 253.1L352.7 300.8M451.4 258.4L362.8 306.1M461.5 263.8L372.8 311.5M471.6 269.1L382.9 316.8M481.7 274.4L393.0 322.1M491.8 279.7L403.1 327.4M401.0 231.9L491.8 279.7M383.3 241.4L474.1 289.2M365.5 251.0L456.3 298.8M347.8 260.5L438.6 308.3M330.0 270.1L420.9 317.9M312.3 279.6L403.1 327.4" stroke="#e4e0e0" stroke-width="0.7" fill="none"/>
<path d="M312.3 240.4L312.3 279.6M312.3 279.6L403.1 327.4L491.8 279.7M312.3 273.5l-1.8 1.0M312.3 264.5l-1.8 1.0M312.3 255.5l-1.8 1.0M312.3 246.5l-1.8 1.0M491.8 279.7l-2.2 -1.2M474.1 289.2l-2.2 -1.2M456.3 298.8l-2.2 -1.2M438.6 308.3l-2.2 -1.2M420.9 317.9l-2.2 -1.2M403.1 327.4l-2.2 -1.2" stroke="#333" stroke-width="1" fill="none"/>
<polygon points="401,230.3 404.4,231.5 398.4,233.3 395.1,232.9" color="#75cbb9"/>
<polygon points="395.1,232.9 398.4,233.3 392.5,235.2 389.2,235.4" color="#74cabd"/>
<polygon points="389.2,235.4 392.5,235.2 386.6,237.1 383.3,238" color="#73cac0"/>
<polygon points="404.4,231.5 407.7,232.6 401.8,233.8 398.4,233.3" color="#73cabf"/>
<polygon points="398.4,233.3 401.8,233.8 395.9,235 392.5,235.2" color="#71c9c5"/>
<polygon points="392.5,235.2 395.9,235 390,236.2 386.6,237.1" color="#6fc8ca"/>
<polygon points="407.7,232.6 411.1,233.8 405.2,234.3 401.8,233.8" color="#71c9c6"/>
<polygon points="401.8,233.8 405.2,234.3 399.3,234.8 395.9,235" color="#6ec8cd"/>
<polygon points="395.9,235 399.3,234.8 393.3,235.2 390,236.2" color="#67c6d2"/>
<path d="M401.0 230.3L411.1 233.8M401.0 230.3L383.3 238.0" stroke="#001810" stroke-opacity="0.5" stroke-width="0.9" fill="none"/>
<circle cx="401.0" cy="230.3" r="1.05" fill="#111"/>
<polygon points="411.1,233.8 414.5,234.7 408.5,234.5 405.2,234.3" color="#6dc8ce"/>
<polygon points="405.2,234.3 408.5,234.5 402.6,234.4 399.3,234.8" color="#65c6d4"/>
<polygon points="399.3,234.8 402.6,234.4 396.7,234.3 393.3,235.2" color="#5dc3da"/>
<polygon points="414.5,234.7 417.8,235.5 411.9,234.8 408.5,234.5" color="#62c5d6"/>
<polygon points="408.5,234.5 411.9,234.8 406,234.1 402.6,234.4" color="#59c2dd"/>
<polygon points="402.6,234.4 406,234.1 400.1,233.4 396.7,234.3" color="#51c0e4"/>
<polygon points="417.8,235.5 421.2,236.4 415.3,235.1 411.9,234.8" color="#58c2de"/>
<polygon points="411.9,234.8 415.3,235.1 409.4,233.8 406,234.1" color="#4ec0e6"/>
<polygon points="406,234.1 409.4,233.8 403.4,232.4 400.1,233.4" color="#45bded"/>
<path d="M411.1 233.8L393.3 235.2M411.1 233.8L421.2 236.4" stroke="#001810" stroke-opacity="0.5" stroke-width="0.9" fill="none"/>
<circle cx="411.1" cy="233.8" r="1.05" fill="#111"/>
<polygon points="383.3,238 386.6,237.1 380.7,239.3 377.3,240.9" color="#71c9c4"/>
<polygon points="377.3,240.9 380.7,239.3 374.8,241.5 371.4,243.8" color="#70c9c8"/>
<polygon points="371.4,243.8 374.8,241.5 368.9,243.7 365.5,246.7" color="#6fc8cb"/>
<polygon points="386.6,237.1 390,236.2 384.1,237.7 380.7,239.3" color="#6cc7cf"/>
<polygon points="380.7,239.3 384.1,237.7 378.2,239.2 374.8,241.5" color="#67c6d3"/>
<polygon points="374.8,241.5 378.2,239.2 372.2,240.7 368.9,243.7" color="#62c5d7"/>
<polygon points="390,236.2 393.3,235.2 387.4,236 384.1,237.7" color="#61c4d7"/>
<polygon points="384.1,237.7 387.4,236 381.5,236.9 378.2,239.2" color="#5ac3dd"/>
<polygon points="378.2,239.2 381.5,236.9 375.6,237.7 372.2,240.7" color="#53c1e2"/>
<path d="M383.3 238.0L393.3 235.2M383.3 238.0L365.5 246.7" stroke="#001810" stroke-opacity="0.5" stroke-width="0.9" fill="none"/>
<circle cx="383.3" cy="238.0" r="1.05" fill="#111"/>
<polygon points="421.2,236.4 424.5,239.1 418.6,236.2 415.3,235.1" color="#48beea"/>
<polygon points="415.3,235.1 418.6,236.2 412.7,233.3 409.4,233.8" color="#3db2ee"/>
<polygon points="409.4,233.8 412.7,233.3 406.8,230.5 403.4,232.4" color="#35a1e9"/>
<polygon points="424.5,239.1 427.9,241.7 422,237.3 418.6,236.2" color="#3aadec"/>
<polygon points="418.6,236.2 422,237.3 416.1,232.9 412.7,233.3" color="#328ce2"/>
<polygon points="412.7,233.3 416.1,232.9 410.2,228.5 406.8,230.5" color="#3268d3"/>
<polygon points="427.9,241.7 431.3,244.4 425.4,238.4 422,237.3" color="#3295e6"/>
<polygon points="422,237.3 425.4,238.4 419.4,232.5 416.1,232.9" color="#3363cf"/>
<polygon points="416.1,232.9 419.4,232.5 413.5,226.5 410.2,228.5" color="#3741b2"/>
<path d="M421.2 236.4L403.4 232.4M421.2 236.4L431.3 244.4" stroke="#001810" stroke-opacity="0.5" stroke-width="0.9" fill="none"/>
<circle cx="421.2" cy="236.4" r="1.05" fill="#111"/>
<polygon points="393.3,235.2 396.7,234.3 390.8,234.9 387.4,236" color="#55c1e0"/>
<polygon points="387.4,236 390.8,234.9 384.9,235.4 381.5,236.9" color="#4ec0e6"/>
<polygon points="381.5,236.9 384.9,235.4 379,236 375.6,237.7" color="#47beeb"/>
<polygon points="396.7,234.3 400.1,233.4 394.2,233.7 390.8,234.9" color="#49beea"/>
<polygon points="390.8,234.9 394.2,233.7 388.2,234 384.9,235.4" color="#43bcef"/>
<polygon points="384.9,235.4 388.2,234 382.3,234.4 379,236" color="#3fb7ef"/>
<polygon points="400.1,233.4 403.4,232.4 397.5,232.5 394.2,233.7" color="#3fb8ef"/>
<polygon points="394.2,233.7 397.5,232.5 391.6,232.6 388.2,234" color="#3cb2ee"/>
<polygon points="388.2,234 391.6,232.6 385.7,232.7 382.3,234.4" color="#3aacec"/>
<path d="M393.3 235.2L403.4 232.4M393.3 235.2L375.6 237.7" stroke="#001810" stroke-opacity="0.5" stroke-width="0.9" fill="none"/>
<circle cx="393.3" cy="235.2" r="1.05" fill="#111"/>
<polygon points="431.3,244.4 434.6,246.2 428.7,240.7 425.4,238.4" color="#328ae1"/>
<polygon points="425.4,238.4 428.7,240.7 422.8,235.3 419.4,232.5" color="#345bc8"/>
<polygon points="419.4,232.5 422.8,235.3 416.9,229.8 413.5,226.5" color="#393cad"/>
<polygon points="434.6,246.2 438,248 432.1,243 428.7,240.7" color="#328fe3"/>
<polygon points="428.7,240.7 432.1,243 426.2,238.1 422.8,235.3" color="#3266d1"/>
<polygon points="422.8,235.3 426.2,238.1 420.3,233.2 416.9,229.8" color="#3649b9"/>
<polygon points="438,248 441.4,249.7 435.4,245.3 432.1,243" color="#3295e6"/>
<polygon points="432.1,243 435.4,245.3 429.5,240.9 426.2,238.1" color="#3275d9"/>
<polygon points="426.2,238.1 429.5,240.9 423.6,236.5 420.3,233.2" color="#345bc8"/>
<path d="M431.3 244.4L413.5 226.5M431.3 244.4L441.4 249.7" stroke="#001810" stroke-opacity="0.5" stroke-width="0.9" fill="none"/>
<circle cx="431.3" cy="244.4" r="1.05" fill="#111"/>
<polygon points="365.5,246.7 368.9,243.7 363,247 359.6,250.1" color="#6ec8cc"/>
<polygon points="359.6,250.1 363,247 357.1,250.2 353.7,253.6" color="#6fc8ca"/>
<polygon points="353.7,253.6 357.1,250.2 351.1,253.5 347.8,257.1" color="#70c9c7"/>
<polygon points="368.9,243.7 372.2,240.7 366.3,243.8 363,247" color="#60c4d8"/>
<polygon points="363,247 366.3,243.8 360.4,246.9 357.1,250.2" color="#61c4d7"/>
<polygon points="357.1,250.2 360.4,246.9 354.5,250 351.1,253.5" color="#62c5d6"/>
<polygon points="372.2,240.7 375.6,237.7 369.7,240.6 366.3,243.8" color="#50c0e4"/>
<polygon points="366.3,243.8 369.7,240.6 363.8,243.5 360.4,246.9" color="#51c0e4"/>
<polygon points="360.4,246.9 363.8,243.5 357.9,246.4 354.5,250" color="#51c0e4"/>
<path d="M365.5 246.7L375.6 237.7M365.5 246.7L347.8 257.1" stroke="#001810" stroke-opacity="0.5" stroke-width="0.9" fill="none"/>
<circle cx="365.5" cy="246.7" r="1.05" fill="#111"/>
<polygon points="403.4,232.4 406.8,230.5 400.9,230.6 397.5,232.5" color="#3293e5"/>
<polygon points="397.5,232.5 400.9,230.6 395,230.8 391.6,232.6" color="#3289e1"/>
<polygon points="391.6,232.6 395,230.8 389.1,231 385.7,232.7" color="#3280dd"/>
<polygon points="406.8,230.5 410.2,228.5 404.3,228.8 400.9,230.6" color="#3457c4"/>
<polygon points="400.9,230.6 404.3,228.8 398.3,229.1 395,230.8" color="#364dbc"/>
<polygon points="395,230.8 398.3,229.1 392.4,229.3 389.1,231" color="#3743b3"/>
<polygon points="410.2,228.5 413.5,226.5 407.6,226.9 404.3,228.8" color="#3b36a6"/>
<polygon points="404.3,228.8 407.6,226.9 401.7,227.3 398.3,229.1" color="#3d309f"/>
<polygon points="398.3,229.1 401.7,227.3 395.8,227.7 392.4,229.3" color="#3f2a98"/>
<path d="M403.4 232.4L413.5 226.5M403.4 232.4L385.7 232.7" stroke="#001810" stroke-opacity="0.5" stroke-width="0.9" fill="none"/>
<circle cx="403.4" cy="232.4" r="1.05" fill="#111"/>
<polygon points="441.4,249.7 444.7,250.9 438.8,247.2 435.4,245.3" color="#35a2ea"/>
<polygon points="435.4,245.3 438.8,247.2 432.9,243.5 429.5,240.9" color="#328be2"/>
<polygon points="429.5,240.9 432.9,243.5 427,239.9 423.6,236.5" color="#3273d8"/>
<polygon points="444.7,250.9 448.1,252.1 442.2,249.1 438.8,247.2" color="#3eb4ee"/>
<polygon points="438.8,247.2 442.2,249.1 436.3,246.2 432.9,243.5" color="#37a5ea"/>
<polygon points="432.9,243.5 436.3,246.2 430.3,243.3 427,239.9" color="#3295e6"/>
<polygon points="448.1,252.1 451.4,253.2 445.5,251 442.2,249.1" color="#4bbfe8"/>
<polygon points="442.2,249.1 445.5,251 439.6,248.8 436.3,246.2" color="#42bcf0"/>
<polygon points="436.3,246.2 439.6,248.8 433.7,246.7 430.3,243.3" color="#3db2ee"/>
<path d="M441.4 249.7L423.6 236.5M441.4 249.7L451.4 253.2" stroke="#001810" stroke-opacity="0.5" stroke-width="0.9" fill="none"/>
<circle cx="441.4" cy="249.7" r="1.05" fill="#111"/>
<polygon points="375.6,237.7 379,236 373.1,239.3 369.7,240.6" color="#44bdee"/>
<polygon points="369.7,240.6 373.1,239.3 367.1,242.6 363.8,243.5" color="#44bdee"/>
<polygon points="363.8,243.5 367.1,242.6 361.2,245.9 357.9,246.4" color="#45bded"/>
<polygon points="379,236 382.3,234.4 376.4,238 373.1,239.3" color="#3eb4ee"/>
<polygon points="373.1,239.3 376.4,238 370.5,241.7 367.1,242.6" color="#3eb6ee"/>
<polygon points="367.1,242.6 370.5,241.7 364.6,245.3 361.2,245.9" color="#3fb7ef"/>
<polygon points="382.3,234.4 385.7,232.7 379.8,236.7 376.4,238" color="#39aaec"/>
<polygon points="376.4,238 379.8,236.7 373.9,240.8 370.5,241.7" color="#3aacec"/>
<polygon points="370.5,241.7 373.9,240.8 368,244.8 364.6,245.3" color="#3baeed"/>
<path d="M375.6 237.7L385.7 232.7M375.6 237.7L357.9 246.4" stroke="#001810" stroke-opacity="0.5" stroke-width="0.9" fill="none"/>
<circle cx="375.6" cy="237.7" r="1.05" fill="#111"/>
<polygon points="413.5,226.5 416.9,229.8 411,229.9 407.6,226.9" color="#3d309f"/>
<polygon points="407.6,226.9 411,229.9 405.1,230 401.7,227.3" color="#402896"/>
<polygon points="401.7,227.3 405.1,230 399.2,230.1 395.8,227.7" color="#3e238d"/>
<polygon points="416.9,229.8 420.3,233.2 414.3,233 411,229.9" color="#3a38a9"/>
<polygon points="411,229.9 414.3,233 408.4,232.7 405.1,230" color="#3e2e9c"/>
<polygon points="405.1,230 408.4,232.7 402.5,232.5 399.2,230.1" color="#3f2591"/>
<polygon points="420.3,233.2 423.6,236.5 417.7,236 414.3,233" color="#3741b2"/>
<polygon points="414.3,233 417.7,236 411.8,235.5 408.4,232.7" color="#3c34a3"/>
<polygon points="408.4,232.7 411.8,235.5 405.9,235 402.5,232.5" color="#402694"/>
<path d="M413.5 226.5L423.6 236.5M413.5 226.5L395.8 227.7" stroke="#001810" stroke-opacity="0.5" stroke-width="0.9" fill="none"/>
<circle cx="413.5" cy="226.5" r="1.05" fill="#111"/>
<polygon points="451.4,253.2 454.8,254.3 448.9,252.5 445.5,251" color="#5ac3dd"/>
<polygon points="445.5,251 448.9,252.5 443,250.7 439.6,248.8" color="#52c1e2"/>
<polygon points="439.6,248.8 443,250.7 437.1,248.9 433.7,246.7" color="#4bbfe8"/>
<polygon points="454.8,254.3 458.2,255.4 452.3,254 448.9,252.5" color="#66c6d3"/>
<polygon points="448.9,252.5 452.3,254 446.4,252.6 443,250.7" color="#5fc4d9"/>
<polygon points="443,250.7 446.4,252.6 440.4,251.2 437.1,248.9" color="#57c2de"/>
<polygon points="458.2,255.4 461.5,256.5 455.6,255.5 452.3,254" color="#70c9c8"/>
<polygon points="452.3,254 455.6,255.5 449.7,254.5 446.4,252.6" color="#6cc7cf"/>
<polygon points="446.4,252.6 449.7,254.5 443.8,253.5 440.4,251.2" color="#64c5d5"/>
<path d="M451.4 253.2L433.7 246.7M451.4 253.2L461.5 256.5" stroke="#001810" stroke-opacity="0.5" stroke-width="0.9" fill="none"/>
<circle cx="451.4" cy="253.2" r="1.05" fill="#111"/>
<polygon points="347.8,257.1 351.1,253.5 345.2,257.3 341.9,260.1" color="#71c9c4"/>
<polygon points="341.9,260.1 345.2,257.3 339.3,261.1 336,263.2" color="#73cabf"/>
<polygon points="336,263.2 339.3,261.1 333.4,264.9 330,266.2" color="#75cbba"/>
<polygon points="351.1,253.5 354.5,250 348.6,254.5 345.2,257.3" color="#67c6d2"/>
<polygon points="345.2,257.3 348.6,254.5 342.7,259 339.3,261.1" color="#6fc8cb"/>
<polygon points="339.3,261.1 342.7,259 336.8,263.6 333.4,264.9" color="#72cac1"/>
<polygon points="354.5,250 357.9,246.4 352,251.7 348.6,254.5" color="#58c2de"/>
<polygon points="348.6,254.5 352,251.7 346,256.9 342.7,259" color="#65c6d4"/>
<polygon points="342.7,259 346,256.9 340.1,262.2 336.8,263.6" color="#6fc9c9"/>
<path d="M347.8 257.1L357.9 246.4M347.8 257.1L330.0 266.2" stroke="#001810" stroke-opacity="0.5" stroke-width="0.9" fill="none"/>
<circle cx="347.8" cy="257.1" r="1.05" fill="#111"/>
<polygon points="385.7,232.7 389.1,231 383.2,235.5 379.8,236.7" color="#3281de"/>
<polygon points="379.8,236.7 383.2,235.5 377.2,239.9 373.9,240.8" color="#328ee3"/>
<polygon points="373.9,240.8 377.2,239.9 371.3,244.3 368,244.8" color="#329ae8"/>
<polygon points="389.1,231 392.4,229.3 386.5,234.2 383.2,235.5" color="#3648b8"/>
<polygon points="383.2,235.5 386.5,234.2 380.6,239 377.2,239.9" color="#345cc9"/>
<polygon points="377.2,239.9 380.6,239 374.7,243.9 371.3,244.3" color="#3273d8"/>
<polygon points="392.4,229.3 395.8,227.7 389.9,232.9 386.5,234.2" color="#3d2e9d"/>
<polygon points="386.5,234.2 389.9,232.9 384,238.2 380.6,239" color="#393cac"/>
<polygon points="380.6,239 384,238.2 378,243.4 374.7,243.9" color="#3456c4"/>
<path d="M385.7 232.7L395.8 227.7M385.7 232.7L368.0 244.8" stroke="#001810" stroke-opacity="0.5" stroke-width="0.9" fill="none"/>
<circle cx="385.7" cy="232.7" r="1.05" fill="#111"/>
<polygon points="423.6,236.5 427,239.9 421.1,239.7 417.7,236" color="#3459c6"/>
<polygon points="417.7,236 421.1,239.7 415.2,239.5 411.8,235.5" color="#383eaf"/>
<polygon points="411.8,235.5 415.2,239.5 409.2,239.3 405.9,235" color="#3d309f"/>
<polygon points="427,239.9 430.3,243.3 424.4,243.4 421.1,239.7" color="#327adb"/>
<polygon points="421.1,239.7 424.4,243.4 418.5,243.5 415.2,239.5" color="#345cc9"/>
<polygon points="415.2,239.5 418.5,243.5 412.6,243.7 409.2,239.3" color="#3743b4"/>
<polygon points="430.3,243.3 433.7,246.7 427.8,247.1 424.4,243.4" color="#35a1ea"/>
<polygon points="424.4,243.4 427.8,247.1 421.9,247.6 418.5,243.5" color="#3287e0"/>
<polygon points="418.5,243.5 421.9,247.6 416,248 412.6,243.7" color="#326bd5"/>
<path d="M423.6 236.5L433.7 246.7M423.6 236.5L405.9 235.0" stroke="#001810" stroke-opacity="0.5" stroke-width="0.9" fill="none"/>
<circle cx="423.6" cy="236.5" r="1.05" fill="#111"/>
<polygon points="461.5,256.5 464.9,257 459,257.1 455.6,255.5" color="#73cabe"/>
<polygon points="455.6,255.5 459,257.1 453.1,257.2 449.7,254.5" color="#71c9c6"/>
<polygon points="449.7,254.5 453.1,257.2 447.2,257.2 443.8,253.5" color="#6ec8cd"/>
<polygon points="464.9,257 468.3,257.6 462.4,258.7 459,257.1" color="#76cbb8"/>
<polygon points="459,257.1 462.4,258.7 456.4,259.9 453.1,257.2" color="#73cabf"/>
<polygon points="453.1,257.2 456.4,259.9 450.5,261 447.2,257.2" color="#71c9c6"/>
<polygon points="468.3,257.6 471.6,258.1 465.7,260.3 462.4,258.7" color="#78ccb2"/>
<polygon points="462.4,258.7 465.7,260.3 459.8,262.5 456.4,259.9" color="#76cbb8"/>
<polygon points="456.4,259.9 459.8,262.5 453.9,264.8 450.5,261" color="#73cabe"/>
<path d="M461.5 256.5L443.8 253.5M461.5 256.5L471.6 258.1" stroke="#001810" stroke-opacity="0.5" stroke-width="0.9" fill="none"/>
<circle cx="461.5" cy="256.5" r="1.05" fill="#111"/>
<polygon points="357.9,246.4 361.2,245.9 355.3,251.7 352,251.7" color="#4cbfe7"/>
<polygon points="352,251.7 355.3,251.7 349.4,257.5 346,256.9" color="#5bc3dc"/>
<polygon points="346,256.9 349.4,257.5 343.5,263.4 340.1,262.2" color="#6ac7d0"/>
<polygon points="361.2,245.9 364.6,245.3 358.7,251.7 355.3,251.7" color="#45bded"/>
<polygon points="355.3,251.7 358.7,251.7 352.8,258.1 349.4,257.5" color="#54c1e1"/>
<polygon points="349.4,257.5 352.8,258.1 346.9,264.5 343.5,263.4" color="#63c5d6"/>
<polygon points="364.6,245.3 368,244.8 362,251.7 358.7,251.7" color="#3fb8ef"/>
<polygon points="358.7,251.7 362,251.7 356.1,258.7 352.8,258.1" color="#4cbfe7"/>
<polygon points="352.8,258.1 356.1,258.7 350.2,265.7 346.9,264.5" color="#5bc3dc"/>
<path d="M357.9 246.4L368.0 244.8M357.9 246.4L340.1 262.2" stroke="#001810" stroke-opacity="0.5" stroke-width="0.9" fill="none"/>
<circle cx="357.9" cy="246.4" r="1.05" fill="#111"/>
<polygon points="395.8,227.7 399.2,230.1 393.2,234.7 389.9,232.9" color="#3f2591"/>
<polygon points="389.9,232.9 393.2,234.7 387.3,239.2 384,238.2" color="#3c32a1"/>
<polygon points="384,238.2 387.3,239.2 381.4,243.8 378,243.4" color="#3740b1"/>
<polygon points="399.2,230.1 402.5,232.5 396.6,236.4 393.2,234.7" color="#3f2591"/>
<polygon points="393.2,234.7 396.6,236.4 390.7,240.3 387.3,239.2" color="#3e2e9c"/>
<polygon points="387.3,239.2 390.7,240.3 384.8,244.1 381.4,243.8" color="#3a38a9"/>
<polygon points="402.5,232.5 405.9,235 400,238.1 396.6,236.4" color="#3f2591"/>
<polygon points="396.6,236.4 400,238.1 394.1,241.3 390.7,240.3" color="#3f2a98"/>
<polygon points="390.7,240.3 394.1,241.3 388.1,244.5 384.8,244.1" color="#3c30a0"/>
<path d="M395.8 227.7L405.9 235.0M395.8 227.7L378.0 243.4" stroke="#001810" stroke-opacity="0.5" stroke-width="0.9" fill="none"/>
<circle cx="395.8" cy="227.7" r="1.05" fill="#111"/>
<polygon points="433.7,246.7 437.1,248.9 431.2,250.1 427.8,247.1" color="#40baef"/>
<polygon points="427.8,247.1 431.2,250.1 425.2,251.2 421.9,247.6" color="#38a7eb"/>
<polygon points="421.9,247.6 425.2,251.2 419.3,252.4 416,248" color="#3294e5"/>
<polygon points="437.1,248.9 440.4,251.2 434.5,253.1 431.2,250.1" color="#4cbfe7"/>
<polygon points="431.2,250.1 434.5,253.1 428.6,254.9 425.2,251.2" color="#3fb8ef"/>
<polygon points="425.2,251.2 428.6,254.9 422.7,256.8 419.3,252.4" color="#38a7eb"/>
<polygon points="440.4,251.2 443.8,253.5 437.9,256.1 434.5,253.1" color="#5ac3dd"/>
<polygon points="434.5,253.1 437.9,256.1 432,258.6 428.6,254.9" color="#4cbfe7"/>
<polygon points="428.6,254.9 432,258.6 426.1,261.1 422.7,256.8" color="#40baef"/>
<path d="M433.7 246.7L443.8 253.5M433.7 246.7L416.0 248.0" stroke="#001810" stroke-opacity="0.5" stroke-width="0.9" fill="none"/>
<circle cx="433.7" cy="246.7" r="1.05" fill="#111"/>
<polygon points="471.6,258.1 475,262.2 469.1,264.3 465.7,260.3" color="#7acdab"/>
<polygon points="465.7,260.3 469.1,264.3 463.2,266.4 459.8,262.5" color="#78ccb0"/>
<polygon points="459.8,262.5 463.2,266.4 457.3,268.5 453.9,264.8" color="#77cbb5"/>
<polygon points="475,262.2 478.4,266.3 472.4,268.3 469.1,264.3" color="#7dcea2"/>
<polygon points="469.1,264.3 472.4,268.3 466.5,270.3 463.2,266.4" color="#7ccda6"/>
<polygon points="463.2,266.4 466.5,270.3 460.6,272.3 457.3,268.5" color="#7acdaa"/>
<polygon points="478.4,266.3 481.7,270.4 475.8,272.3 472.4,268.3" color="#84ce97"/>
<polygon points="472.4,268.3 475.8,272.3 469.9,274.1 466.5,270.3" color="#81ce9b"/>
<polygon points="466.5,270.3 469.9,274.1 464,276 460.6,272.3" color="#7ecea0"/>
<path d="M471.6 258.1L453.9 264.8M471.6 258.1L481.7 270.4" stroke="#001810" stroke-opacity="0.5" stroke-width="0.9" fill="none"/>
<circle cx="471.6" cy="258.1" r="1.05" fill="#111"/>
<polygon points="330,266.2 333.4,264.9 327.5,267.6 324.1,268.1" color="#77cbb3"/>
<polygon points="324.1,268.1 327.5,267.6 321.6,270.4 318.2,270" color="#7acdaa"/>
<polygon points="318.2,270 321.6,270.4 315.7,273.2 312.3,271.9" color="#7dcea2"/>
<polygon points="333.4,264.9 336.8,263.6 330.9,267.2 327.5,267.6" color="#76cbb8"/>
<polygon points="327.5,267.6 330.9,267.2 324.9,270.8 321.6,270.4" color="#79ccae"/>
<polygon points="321.6,270.4 324.9,270.8 319,274.5 315.7,273.2" color="#7ccda5"/>
<polygon points="336.8,263.6 340.1,262.2 334.2,266.8 330.9,267.2" color="#74cabd"/>
<polygon points="330.9,267.2 334.2,266.8 328.3,271.3 324.9,270.8" color="#77ccb2"/>
<polygon points="324.9,270.8 328.3,271.3 322.4,275.8 319,274.5" color="#7bcda8"/>
<path d="M330.0 266.2L340.1 262.2M312.3 271.9L322.4 275.8M330.0 266.2L312.3 271.9" stroke="#001810" stroke-opacity="0.5" stroke-width="0.9" fill="none"/>
<circle cx="330.0" cy="266.2" r="1.05" fill="#111"/>
<circle cx="312.3" cy="271.9" r="1.05" fill="#111"/>
<polygon points="368,244.8 371.3,244.3 365.4,251.8 362,251.7" color="#38a9eb"/>
<polygon points="362,251.7 365.4,251.8 359.5,259.3 356.1,258.7" color="#42bcf0"/>
<polygon points="356.1,258.7 359.5,259.3 353.6,266.9 350.2,265.7" color="#54c1e2"/>
<polygon points="371.3,244.3 374.7,243.9 368.8,251.9 365.4,251.8" color="#3292e4"/>
<polygon points="365.4,251.8 368.8,251.9 362.9,260 359.5,259.3" color="#3aaeec"/>
<polygon points="359.5,259.3 362.9,260 356.9,268.1 353.6,266.9" color="#4cbfe8"/>
<polygon points="374.7,243.9 378,243.4 372.1,252 368.8,251.9" color="#3278da"/>
<polygon points="368.8,251.9 372.1,252 366.2,260.6 362.9,260" color="#349ee9"/>
<polygon points="362.9,260 366.2,260.6 360.3,269.2 356.9,268.1" color="#44bdee"/>
<path d="M368.0 244.8L378.0 243.4M368.0 244.8L350.2 265.7" stroke="#001810" stroke-opacity="0.5" stroke-width="0.9" fill="none"/>
<circle cx="368.0" cy="244.8" r="1.05" fill="#111"/>
<polygon points="405.9,235 409.2,239.3 403.3,242.1 400,238.1" color="#3e2b9a"/>
<polygon points="400,238.1 403.3,242.1 397.4,244.9 394.1,241.3" color="#3d2f9e"/>
<polygon points="394.1,241.3 397.4,244.9 391.5,247.6 388.1,244.5" color="#3c32a2"/>
<polygon points="409.2,239.3 412.6,243.7 406.7,246 403.3,242.1" color="#383dad"/>
<polygon points="403.3,242.1 406.7,246 400.8,248.4 397.4,244.9" color="#383dae"/>
<polygon points="397.4,244.9 400.8,248.4 394.9,250.8 391.5,247.6" color="#383eae"/>
<polygon points="412.6,243.7 416,248 410.1,250 406.7,246" color="#335ecb"/>
<polygon points="406.7,246 410.1,250 404.1,252 400.8,248.4" color="#3459c6"/>
<polygon points="400.8,248.4 404.1,252 398.2,253.9 394.9,250.8" color="#3553c2"/>
<path d="M405.9 235.0L416.0 248.0M405.9 235.0L388.1 244.5" stroke="#001810" stroke-opacity="0.5" stroke-width="0.9" fill="none"/>
<circle cx="405.9" cy="235.0" r="1.05" fill="#111"/>
<polygon points="443.8,253.5 447.2,257.2 441.2,259.8 437.9,256.1" color="#65c6d4"/>
<polygon points="437.9,256.1 441.2,259.8 435.3,262.4 432,258.6" color="#59c2dd"/>
<polygon points="432,258.6 435.3,262.4 429.4,265 426.1,261.1" color="#4ec0e6"/>
<polygon points="447.2,257.2 450.5,261 444.6,263.6 441.2,259.8" color="#6dc8cd"/>
<polygon points="441.2,259.8 444.6,263.6 438.7,266.2 435.3,262.4" color="#65c6d4"/>
<polygon points="435.3,262.4 438.7,266.2 432.8,268.8 429.4,265" color="#5cc3db"/>
<polygon points="450.5,261 453.9,264.8 448,267.4 444.6,263.6" color="#71c9c4"/>
<polygon points="444.6,263.6 448,267.4 442.1,270 438.7,266.2" color="#6fc8cb"/>
<polygon points="438.7,266.2 442.1,270 436.1,272.7 432.8,268.8" color="#6ac7d0"/>
<path d="M443.8 253.5L453.9 264.8M443.8 253.5L426.1 261.1" stroke="#001810" stroke-opacity="0.5" stroke-width="0.9" fill="none"/>
<circle cx="443.8" cy="253.5" r="1.05" fill="#111"/>
<polygon points="481.7,270.4 485.1,273.4 479.2,275.1 475.8,272.3" color="#8dcf8a"/>
<polygon points="475.8,272.3 479.2,275.1 473.3,276.8 469.9,274.1" color="#8bcf8d"/>
<polygon points="469.9,274.1 473.3,276.8 467.3,278.5 464,276" color="#88cf91"/>
<polygon points="485.1,273.4 488.4,276.4 482.5,277.9 479.2,275.1" color="#97d079"/>
<polygon points="479.2,275.1 482.5,277.9 476.6,279.5 473.3,276.8" color="#95d07d"/>
<polygon points="473.3,276.8 476.6,279.5 470.7,281 467.3,278.5" color="#92cf82"/>
<polygon points="488.4,276.4 491.8,279.3 485.9,280.7 482.5,277.9" color="#a2d167"/>
<polygon points="482.5,277.9 485.9,280.7 480,282.2 476.6,279.5" color="#9fd16c"/>
<polygon points="476.6,279.5 480,282.2 474.1,283.6 470.7,281" color="#9cd070"/>
<path d="M481.7 270.4L464.0 276.0M481.7 270.4L491.8 279.3M491.8 279.3L474.1 283.6" stroke="#001810" stroke-opacity="0.5" stroke-width="0.9" fill="none"/>
<circle cx="481.7" cy="270.4" r="1.05" fill="#111"/>
<circle cx="491.8" cy="279.3" r="1.05" fill="#111"/>
<polygon points="340.1,262.2 343.5,263.4 337.6,268.1 334.2,266.8" color="#72c9c3"/>
<polygon points="334.2,266.8 337.6,268.1 331.7,272.9 328.3,271.3" color="#76cbb6"/>
<polygon points="328.3,271.3 331.7,272.9 325.8,277.7 322.4,275.8" color="#7acdaa"/>
<polygon points="343.5,263.4 346.9,264.5 340.9,269.5 337.6,268.1" color="#6fc8ca"/>
<polygon points="337.6,268.1 340.9,269.5 335,274.6 331.7,272.9" color="#75cabb"/>
<polygon points="331.7,272.9 335,274.6 329.1,279.6 325.8,277.7" color="#7accac"/>
<polygon points="346.9,264.5 350.2,265.7 344.3,270.9 340.9,269.5" color="#6bc7cf"/>
<polygon points="340.9,269.5 344.3,270.9 338.4,276.2 335,274.6" color="#73cabf"/>
<polygon points="335,274.6 338.4,276.2 332.5,281.5 329.1,279.6" color="#79ccad"/>
<path d="M340.1 262.2L350.2 265.7M340.1 262.2L322.4 275.8M322.4 275.8L332.5 281.5" stroke="#001810" stroke-opacity="0.5" stroke-width="0.9" fill="none"/>
<circle cx="340.1" cy="262.2" r="1.05" fill="#111"/>
<circle cx="322.4" cy="275.8" r="1.05" fill="#111"/>
<polygon points="378,243.4 381.4,243.8 375.5,252.8 372.1,252" color="#3361cd"/>
<polygon points="372.1,252 375.5,252.8 369.6,261.7 366.2,260.6" color="#328de2"/>
<polygon points="366.2,260.6 369.6,261.7 363.7,270.7 360.3,269.2" color="#3fb7ef"/>
<polygon points="381.4,243.8 384.8,244.1 378.9,253.5 375.5,252.8" color="#354ebd"/>
<polygon points="375.5,252.8 378.9,253.5 373,262.8 369.6,261.7" color="#327adb"/>
<polygon points="369.6,261.7 373,262.8 367,272.2 363.7,270.7" color="#3cb0ed"/>
<polygon points="384.8,244.1 388.1,244.5 382.2,254.2 378.9,253.5" color="#383eaf"/>
<polygon points="378.9,253.5 382.2,254.2 376.3,263.9 373,262.8" color="#3268d4"/>
<polygon points="373,262.8 376.3,263.9 370.4,273.7 367,272.2" color="#39a9ec"/>
<path d="M378.0 243.4L388.1 244.5M378.0 243.4L360.3 269.2" stroke="#001810" stroke-opacity="0.5" stroke-width="0.9" fill="none"/>
<circle cx="378.0" cy="243.4" r="1.05" fill="#111"/>
<polygon points="416,248 419.3,252.4 413.4,254.7 410.1,250" color="#3283df"/>
<polygon points="410.1,250 413.4,254.7 407.5,257 404.1,252" color="#3279da"/>
<polygon points="404.1,252 407.5,257 401.6,259.3 398.2,253.9" color="#326ed6"/>
<polygon points="419.3,252.4 422.7,256.8 416.8,259.4 413.4,254.7" color="#339de8"/>
<polygon points="413.4,254.7 416.8,259.4 410.9,262 407.5,257" color="#3299e7"/>
<polygon points="407.5,257 410.9,262 405,264.6 401.6,259.3" color="#3294e5"/>
<polygon points="422.7,256.8 426.1,261.1 420.1,264.1 416.8,259.4" color="#3db3ee"/>
<polygon points="416.8,259.4 420.1,264.1 414.2,267 410.9,262" color="#3db3ee"/>
<polygon points="410.9,262 414.2,267 408.3,269.9 405,264.6" color="#3db4ee"/>
<path d="M416.0 248.0L426.1 261.1M416.0 248.0L398.2 253.9" stroke="#001810" stroke-opacity="0.5" stroke-width="0.9" fill="none"/>
<circle cx="416.0" cy="248.0" r="1.05" fill="#111"/>
<polygon points="453.9,264.8 457.3,268.5 451.3,271.2 448,267.4" color="#75cbba"/>
<polygon points="448,267.4 451.3,271.2 445.4,273.9 442.1,270" color="#73cabf"/>
<polygon points="442.1,270 445.4,273.9 439.5,276.6 436.1,272.7" color="#71c9c4"/>
<polygon points="457.3,268.5 460.6,272.3 454.7,275 451.3,271.2" color="#79ccae"/>
<polygon points="451.3,271.2 454.7,275 448.8,277.8 445.4,273.9" color="#77ccb2"/>
<polygon points="445.4,273.9 448.8,277.8 442.9,280.5 439.5,276.6" color="#76cbb7"/>
<polygon points="460.6,272.3 464,276 458.1,278.8 454.7,275" color="#7dcea3"/>
<polygon points="454.7,275 458.1,278.8 452.2,281.6 448.8,277.8" color="#7ccda6"/>
<polygon points="448.8,277.8 452.2,281.6 446.2,284.5 442.9,280.5" color="#7bcda9"/>
<path d="M453.9 264.8L464.0 276.0M453.9 264.8L436.1 272.7" stroke="#001810" stroke-opacity="0.5" stroke-width="0.9" fill="none"/>
<circle cx="453.9" cy="264.8" r="1.05" fill="#111"/>
<polygon points="350.2,265.7 353.6,266.9 347.7,272.3 344.3,270.9" color="#65c6d4"/>
<polygon points="344.3,270.9 347.7,272.3 341.8,277.7 338.4,276.2" color="#72c9c3"/>
<polygon points="338.4,276.2 341.8,277.7 335.8,283.1 332.5,281.5" color="#79ccaf"/>
<polygon points="353.6,266.9 356.9,268.1 351,273.6 347.7,272.3" color="#61c4d7"/>
<polygon points="347.7,272.3 351,273.6 345.1,279.2 341.8,277.7" color="#70c9c7"/>
<polygon points="341.8,277.7 345.1,279.2 339.2,284.7 335.8,283.1" color="#77ccb2"/>
<polygon points="356.9,268.1 360.3,269.2 354.4,274.9 351,273.6" color="#5cc3db"/>
<polygon points="351,273.6 354.4,274.9 348.5,280.7 345.1,279.2" color="#6fc8cb"/>
<polygon points="345.1,279.2 348.5,280.7 342.6,286.4 339.2,284.7" color="#76cbb6"/>
<path d="M350.2 265.7L360.3 269.2M350.2 265.7L332.5 281.5M332.5 281.5L342.6 286.4" stroke="#001810" stroke-opacity="0.5" stroke-width="0.9" fill="none"/>
<circle cx="350.2" cy="265.7" r="1.05" fill="#111"/>
<circle cx="332.5" cy="281.5" r="1.05" fill="#111"/>
<polygon points="388.1,244.5 391.5,247.6 385.6,256.9 382.2,254.2" color="#383eaf"/>
<polygon points="382.2,254.2 385.6,256.9 379.7,266.1 376.3,263.9" color="#3268d4"/>
<polygon points="376.3,263.9 379.7,266.1 373.8,275.3 370.4,273.7" color="#39a9ec"/>
<polygon points="391.5,247.6 394.9,250.8 389,259.5 385.6,256.9" color="#354ebd"/>
<polygon points="385.6,256.9 389,259.5 383,268.3 379.7,266.1" color="#327adb"/>
<polygon points="379.7,266.1 383,268.3 377.1,277 373.8,275.3" color="#3cb0ed"/>
<polygon points="394.9,250.8 398.2,253.9 392.3,262.2 389,259.5" color="#3361cd"/>
<polygon points="389,259.5 392.3,262.2 386.4,270.4 383,268.3" color="#328de2"/>
<polygon points="383,268.3 386.4,270.4 380.5,278.7 377.1,277" color="#3fb7ef"/>
<path d="M388.1 244.5L398.2 253.9M388.1 244.5L370.4 273.7" stroke="#001810" stroke-opacity="0.5" stroke-width="0.9" fill="none"/>
<circle cx="388.1" cy="244.5" r="1.05" fill="#111"/>
<polygon points="426.1,261.1 429.4,265 423.5,267.9 420.1,264.1" color="#4abee9"/>
<polygon points="420.1,264.1 423.5,267.9 417.6,270.9 414.2,267" color="#4cbfe8"/>
<polygon points="414.2,267 417.6,270.9 411.7,273.9 408.3,269.9" color="#4ebfe6"/>
<polygon points="429.4,265 432.8,268.8 426.9,271.8 423.5,267.9" color="#58c2de"/>
<polygon points="423.5,267.9 426.9,271.8 421,274.9 417.6,270.9" color="#59c2dd"/>
<polygon points="417.6,270.9 421,274.9 415,277.9 411.7,273.9" color="#5bc3dc"/>
<polygon points="432.8,268.8 436.1,272.7 430.2,275.7 426.9,271.8" color="#67c6d3"/>
<polygon points="426.9,271.8 430.2,275.7 424.3,278.8 421,274.9" color="#67c6d2"/>
<polygon points="421,274.9 424.3,278.8 418.4,281.9 415,277.9" color="#68c6d2"/>
<path d="M426.1 261.1L436.1 272.7M426.1 261.1L408.3 269.9" stroke="#001810" stroke-opacity="0.5" stroke-width="0.9" fill="none"/>
<circle cx="426.1" cy="261.1" r="1.05" fill="#111"/>
<polygon points="464,276 467.3,278.5 461.4,281.1 458.1,278.8" color="#85ce95"/>
<polygon points="458.1,278.8 461.4,281.1 455.5,283.7 452.2,281.6" color="#82ce99"/>
<polygon points="452.2,281.6 455.5,283.7 449.6,286.3 446.2,284.5" color="#7fce9e"/>
<polygon points="467.3,278.5 470.7,281 464.8,283.4 461.4,281.1" color="#8fcf87"/>
<polygon points="461.4,281.1 464.8,283.4 458.9,285.8 455.5,283.7" color="#8bcf8c"/>
<polygon points="455.5,283.7 458.9,285.8 453,288.2 449.6,286.3" color="#88ce92"/>
<polygon points="470.7,281 474.1,283.6 468.2,285.7 464.8,283.4" color="#99d076"/>
<polygon points="464.8,283.4 468.2,285.7 462.2,287.9 458.9,285.8" color="#94cf7e"/>
<polygon points="458.9,285.8 462.2,287.9 456.3,290 453,288.2" color="#90cf86"/>
<path d="M464.0 276.0L474.1 283.6M464.0 276.0L446.2 284.5M474.1 283.6L456.3 290.0" stroke="#001810" stroke-opacity="0.5" stroke-width="0.9" fill="none"/>
<circle cx="464.0" cy="276.0" r="1.05" fill="#111"/>
<circle cx="474.1" cy="283.6" r="1.05" fill="#111"/>
<polygon points="360.3,269.2 363.7,270.7 357.8,276.5 354.4,274.9" color="#59c2dd"/>
<polygon points="354.4,274.9 357.8,276.5 351.8,282.3 348.5,280.7" color="#6dc8cd"/>
<polygon points="348.5,280.7 351.8,282.3 345.9,288.1 342.6,286.4" color="#76cbb7"/>
<polygon points="363.7,270.7 367,272.2 361.1,278 357.8,276.5" color="#57c2df"/>
<polygon points="357.8,276.5 361.1,278 355.2,283.9 351.8,282.3" color="#6cc8ce"/>
<polygon points="351.8,282.3 355.2,283.9 349.3,289.8 345.9,288.1" color="#76cbb8"/>
<polygon points="367,272.2 370.4,273.7 364.5,279.6 361.1,278" color="#55c1e1"/>
<polygon points="361.1,278 364.5,279.6 358.6,285.5 355.2,283.9" color="#6bc7cf"/>
<polygon points="355.2,283.9 358.6,285.5 352.7,291.5 349.3,289.8" color="#75cbb8"/>
<path d="M360.3 269.2L370.4 273.7M360.3 269.2L342.6 286.4M342.6 286.4L352.7 291.5" stroke="#001810" stroke-opacity="0.5" stroke-width="0.9" fill="none"/>
<circle cx="360.3" cy="269.2" r="1.05" fill="#111"/>
<circle cx="342.6" cy="286.4" r="1.05" fill="#111"/>
<polygon points="398.2,253.9 401.6,259.3 395.7,266.3 392.3,262.2" color="#327cdc"/>
<polygon points="392.3,262.2 395.7,266.3 389.8,273.3 386.4,270.4" color="#34a1e9"/>
<polygon points="386.4,270.4 389.8,273.3 383.9,280.4 380.5,278.7" color="#44bded"/>
<polygon points="401.6,259.3 405,264.6 399,270.4 395.7,266.3" color="#339ee9"/>
<polygon points="395.7,266.3 399,270.4 393.1,276.2 389.8,273.3" color="#3db4ee"/>
<polygon points="389.8,273.3 393.1,276.2 387.2,282 383.9,280.4" color="#4ebfe6"/>
<polygon points="405,264.6 408.3,269.9 402.4,274.5 399,270.4" color="#40baf0"/>
<polygon points="399,270.4 402.4,274.5 396.5,279.1 393.1,276.2" color="#4bbfe8"/>
<polygon points="393.1,276.2 396.5,279.1 390.6,283.6 387.2,282" color="#57c2df"/>
<path d="M398.2 253.9L408.3 269.9M398.2 253.9L380.5 278.7" stroke="#001810" stroke-opacity="0.5" stroke-width="0.9" fill="none"/>
<circle cx="398.2" cy="253.9" r="1.05" fill="#111"/>
<polygon points="436.1,272.7 439.5,276.6 433.6,279.6 430.2,275.7" color="#70c9c6"/>
<polygon points="430.2,275.7 433.6,279.6 427.7,282.6 424.3,278.8" color="#70c9c7"/>
<polygon points="424.3,278.8 427.7,282.6 421.8,285.6 418.4,281.9" color="#70c9c7"/>
<polygon points="439.5,276.6 442.9,280.5 437,283.5 433.6,279.6" color="#75cbb9"/>
<polygon points="433.6,279.6 437,283.5 431.1,286.4 427.7,282.6" color="#75cabb"/>
<polygon points="427.7,282.6 431.1,286.4 425.1,289.4 421.8,285.6" color="#74cabc"/>
<polygon points="442.9,280.5 446.2,284.5 440.3,287.4 437,283.5" color="#7accac"/>
<polygon points="437,283.5 440.3,287.4 434.4,290.3 431.1,286.4" color="#79ccae"/>
<polygon points="431.1,286.4 434.4,290.3 428.5,293.2 425.1,289.4" color="#78ccb1"/>
<path d="M436.1 272.7L446.2 284.5M436.1 272.7L418.4 281.9" stroke="#001810" stroke-opacity="0.5" stroke-width="0.9" fill="none"/>
<circle cx="436.1" cy="272.7" r="1.05" fill="#111"/>
<polygon points="370.4,273.7 373.8,275.3 367.9,281.3 364.5,279.6" color="#55c1e1"/>
<polygon points="364.5,279.6 367.9,281.3 361.9,287.2 358.6,285.5" color="#6bc7cf"/>
<polygon points="358.6,285.5 361.9,287.2 356,293.2 352.7,291.5" color="#75cbb8"/>
<polygon points="373.8,275.3 377.1,277 371.2,283 367.9,281.3" color="#57c2df"/>
<polygon points="367.9,281.3 371.2,283 365.3,288.9 361.9,287.2" color="#6cc8ce"/>
<polygon points="361.9,287.2 365.3,288.9 359.4,294.8 356,293.2" color="#76cbb8"/>
<polygon points="377.1,277 380.5,278.7 374.6,284.6 371.2,283" color="#59c2dd"/>
<polygon points="371.2,283 374.6,284.6 368.7,290.6 365.3,288.9" color="#6dc8cd"/>
<polygon points="365.3,288.9 368.7,290.6 362.8,296.5 359.4,294.8" color="#76cbb7"/>
<path d="M370.4 273.7L380.5 278.7M370.4 273.7L352.7 291.5M352.7 291.5L362.8 296.5" stroke="#001810" stroke-opacity="0.5" stroke-width="0.9" fill="none"/>
<circle cx="370.4" cy="273.7" r="1.05" fill="#111"/>
<circle cx="352.7" cy="291.5" r="1.05" fill="#111"/>
<polygon points="408.3,269.9 411.7,273.9 405.8,278 402.4,274.5" color="#52c1e3"/>
<polygon points="402.4,274.5 405.8,278 399.9,282.1 396.5,279.1" color="#59c2de"/>
<polygon points="396.5,279.1 399.9,282.1 393.9,286.1 390.6,283.6" color="#5fc4d8"/>
<polygon points="411.7,273.9 415,277.9 409.1,281.5 405.8,278" color="#5ec4da"/>
<polygon points="405.8,278 409.1,281.5 403.2,285 399.9,282.1" color="#63c5d6"/>
<polygon points="399.9,282.1 403.2,285 397.3,288.6 393.9,286.1" color="#68c6d2"/>
<polygon points="415,277.9 418.4,281.9 412.5,284.9 409.1,281.5" color="#69c7d1"/>
<polygon points="409.1,281.5 412.5,284.9 406.6,288 403.2,285" color="#6dc8ce"/>
<polygon points="403.2,285 406.6,288 400.7,291.1 397.3,288.6" color="#6fc8cb"/>
<path d="M408.3 269.9L418.4 281.9M408.3 269.9L390.6 283.6" stroke="#001810" stroke-opacity="0.5" stroke-width="0.9" fill="none"/>
<circle cx="408.3" cy="269.9" r="1.05" fill="#111"/>
<polygon points="446.2,284.5 449.6,286.3 443.7,289.5 440.3,287.4" color="#7dcea2"/>
<polygon points="440.3,287.4 443.7,289.5 437.8,292.6 434.4,290.3" color="#7ccda5"/>
<polygon points="434.4,290.3 437.8,292.6 431.9,295.8 428.5,293.2" color="#7bcda8"/>
<polygon points="449.6,286.3 453,288.2 447.1,291.6 443.7,289.5" color="#84ce98"/>
<polygon points="443.7,289.5 447.1,291.6 441.1,295 437.8,292.6" color="#80ce9d"/>
<polygon points="437.8,292.6 441.1,295 435.2,298.4 431.9,295.8" color="#7dcea2"/>
<polygon points="453,288.2 456.3,290 450.4,293.7 447.1,291.6" color="#8bcf8d"/>
<polygon points="447.1,291.6 450.4,293.7 444.5,297.3 441.1,295" color="#86ce94"/>
<polygon points="441.1,295 444.5,297.3 438.6,300.9 435.2,298.4" color="#82ce9b"/>
<path d="M446.2 284.5L456.3 290.0M446.2 284.5L428.5 293.2M456.3 290.0L438.6 300.9" stroke="#001810" stroke-opacity="0.5" stroke-width="0.9" fill="none"/>
<circle cx="446.2" cy="284.5" r="1.05" fill="#111"/>
<circle cx="456.3" cy="290.0" r="1.05" fill="#111"/>
<polygon points="380.5,278.7 383.9,280.4 377.9,286.4 374.6,284.6" color="#5cc3db"/>
<polygon points="374.6,284.6 377.9,286.4 372,292.4 368.7,290.6" color="#6ec8cc"/>
<polygon points="368.7,290.6 372,292.4 366.1,298.4 362.8,296.5" color="#76cbb7"/>
<polygon points="383.9,280.4 387.2,282 381.3,288.1 377.9,286.4" color="#60c4d8"/>
<polygon points="377.9,286.4 381.3,288.1 375.4,294.1 372,292.4" color="#6fc9c9"/>
<polygon points="372,292.4 375.4,294.1 369.5,300.2 366.1,298.4" color="#76cbb6"/>
<polygon points="387.2,282 390.6,283.6 384.7,289.8 381.3,288.1" color="#64c5d4"/>
<polygon points="381.3,288.1 384.7,289.8 378.8,295.9 375.4,294.1" color="#70c9c6"/>
<polygon points="375.4,294.1 378.8,295.9 372.8,302 369.5,300.2" color="#77cbb5"/>
<path d="M380.5 278.7L390.6 283.6M380.5 278.7L362.8 296.5M362.8 296.5L372.8 302.0" stroke="#001810" stroke-opacity="0.5" stroke-width="0.9" fill="none"/>
<circle cx="380.5" cy="278.7" r="1.05" fill="#111"/>
<circle cx="362.8" cy="296.5" r="1.05" fill="#111"/>
<polygon points="418.4,281.9 421.8,285.6 415.9,288.5 412.5,284.9" color="#70c9c7"/>
<polygon points="412.5,284.9 415.9,288.5 409.9,291.3 406.6,288" color="#71c9c5"/>
<polygon points="406.6,288 409.9,291.3 404,294.1 400.7,291.1" color="#72c9c3"/>
<polygon points="421.8,285.6 425.1,289.4 419.2,292 415.9,288.5" color="#74cabd"/>
<polygon points="415.9,288.5 419.2,292 413.3,294.6 409.9,291.3" color="#74cabd"/>
<polygon points="409.9,291.3 413.3,294.6 407.4,297.1 404,294.1" color="#74cabd"/>
<polygon points="425.1,289.4 428.5,293.2 422.6,295.5 419.2,292" color="#77ccb3"/>
<polygon points="419.2,292 422.6,295.5 416.7,297.8 413.3,294.6" color="#77cbb4"/>
<polygon points="413.3,294.6 416.7,297.8 410.8,300.1 407.4,297.1" color="#76cbb6"/>
<path d="M418.4 281.9L428.5 293.2M418.4 281.9L400.7 291.1" stroke="#001810" stroke-opacity="0.5" stroke-width="0.9" fill="none"/>
<circle cx="418.4" cy="281.9" r="1.05" fill="#111"/>
<polygon points="390.6,283.6 393.9,286.1 388,292 384.7,289.8" color="#6ac7d0"/>
<polygon points="384.7,289.8 388,292 382.1,297.9 378.8,295.9" color="#72c9c2"/>
<polygon points="378.8,295.9 382.1,297.9 376.2,303.8 372.8,302" color="#77ccb3"/>
<polygon points="393.9,286.1 397.3,288.6 391.4,294.3 388,292" color="#6fc8ca"/>
<polygon points="388,292 391.4,294.3 385.5,300 382.1,297.9" color="#74cabd"/>
<polygon points="382.1,297.9 385.5,300 379.6,305.7 376.2,303.8" color="#79ccaf"/>
<polygon points="397.3,288.6 400.7,291.1 394.8,296.6 391.4,294.3" color="#72c9c3"/>
<polygon points="391.4,294.3 394.8,296.6 388.8,302 385.5,300" color="#76cbb7"/>
<polygon points="385.5,300 388.8,302 382.9,307.5 379.6,305.7" color="#7accab"/>
<path d="M390.6 283.6L400.7 291.1M390.6 283.6L372.8 302.0M372.8 302.0L382.9 307.5" stroke="#001810" stroke-opacity="0.5" stroke-width="0.9" fill="none"/>
<circle cx="390.6" cy="283.6" r="1.05" fill="#111"/>
<circle cx="372.8" cy="302.0" r="1.05" fill="#111"/>
<polygon points="428.5,293.2 431.9,295.8 426,297.9 422.6,295.5" color="#7acdab"/>
<polygon points="422.6,295.5 426,297.9 420,300.1 416.7,297.8" color="#79ccae"/>
<polygon points="416.7,297.8 420,300.1 414.1,302.3 410.8,300.1" color="#78ccb0"/>
<polygon points="431.9,295.8 435.2,298.4 429.3,300.4 426,297.9" color="#7ccda5"/>
<polygon points="426,297.9 429.3,300.4 423.4,302.5 420,300.1" color="#7bcda8"/>
<polygon points="420,300.1 423.4,302.5 417.5,304.5 414.1,302.3" color="#7acdab"/>
<polygon points="435.2,298.4 438.6,300.9 432.7,302.9 429.3,300.4" color="#7ecea0"/>
<polygon points="429.3,300.4 432.7,302.9 426.8,304.8 423.4,302.5" color="#7dcea3"/>
<polygon points="423.4,302.5 426.8,304.8 420.9,306.7 417.5,304.5" color="#7ccda5"/>
<path d="M428.5 293.2L438.6 300.9M428.5 293.2L410.8 300.1M438.6 300.9L420.9 306.7" stroke="#001810" stroke-opacity="0.5" stroke-width="0.9" fill="none"/>
<circle cx="428.5" cy="293.2" r="1.05" fill="#111"/>
<circle cx="438.6" cy="300.9" r="1.05" fill="#111"/>
<polygon points="400.7,291.1 404,294.1 398.1,299.2 394.8,296.6" color="#74cabd"/>
<polygon points="394.8,296.6 398.1,299.2 392.2,304.3 388.8,302" color="#77cbb3"/>
<polygon points="388.8,302 392.2,304.3 386.3,309.4 382.9,307.5" color="#7bcda9"/>
<polygon points="404,294.1 407.4,297.1 401.5,301.8 398.1,299.2" color="#75cbb9"/>
<polygon points="398.1,299.2 401.5,301.8 395.6,306.6 392.2,304.3" color="#78ccb0"/>
<polygon points="392.2,304.3 395.6,306.6 389.7,311.3 386.3,309.4" color="#7bcda8"/>
<polygon points="407.4,297.1 410.8,300.1 404.8,304.5 401.5,301.8" color="#77cbb4"/>
<polygon points="401.5,301.8 404.8,304.5 398.9,308.8 395.6,306.6" color="#79ccae"/>
<polygon points="395.6,306.6 398.9,308.8 393,313.2 389.7,311.3" color="#7bcda7"/>
<path d="M400.7 291.1L410.8 300.1M400.7 291.1L382.9 307.5M382.9 307.5L393.0 313.2" stroke="#001810" stroke-opacity="0.5" stroke-width="0.9" fill="none"/>
<circle cx="400.7" cy="291.1" r="1.05" fill="#111"/>
<circle cx="382.9" cy="307.5" r="1.05" fill="#111"/>
<polygon points="410.8,300.1 414.1,302.3 408.2,306.4 404.8,304.5" color="#79ccaf"/>
<polygon points="404.8,304.5 408.2,306.4 402.3,310.6 398.9,308.8" color="#7acdaa"/>
<polygon points="398.9,308.8 402.3,310.6 396.4,314.7 393,313.2" color="#7ccda5"/>
<polygon points="414.1,302.3 417.5,304.5 411.6,308.4 408.2,306.4" color="#7acdaa"/>
<polygon points="408.2,306.4 411.6,308.4 405.7,312.3 402.3,310.6" color="#7ccda6"/>
<polygon points="402.3,310.6 405.7,312.3 399.7,316.2 396.4,314.7" color="#7dcea2"/>
<polygon points="417.5,304.5 420.9,306.7 414.9,310.4 411.6,308.4" color="#7ccda5"/>
<polygon points="411.6,308.4 414.9,310.4 409,314.1 405.7,312.3" color="#7dcea2"/>
<polygon points="405.7,312.3 409,314.1 403.1,317.8 399.7,316.2" color="#7fce9e"/>
<path d="M410.8 300.1L420.9 306.7M410.8 300.1L393.0 313.2M393.0 313.2L403.1 317.8M420.9 306.7L403.1 317.8" stroke="#001810" stroke-opacity="0.5" stroke-width="0.9" fill="none"/>
<circle cx="410.8" cy="300.1" r="1.05" fill="#111"/>
<circle cx="420.9" cy="306.7" r="1.05" fill="#111"/>
<circle cx="393.0" cy="313.2" r="1.05" fill="#111"/>
<circle cx="403.1" cy="317.8" r="1.05" fill="#111"/>
<path d="M120.6 457.3L120.6 417.9M102.5 467.5L102.5 428.1M84.4 477.6L84.4 438.2M66.3 487.8L66.3 448.4M48.2 497.9L48.2 458.5M30.1 508.1L30.1 468.7M120.6 455.3L30.1 506.1M120.6 443.1L30.1 493.9M120.6 430.9L30.1 481.7M120.6 418.7L30.1 469.5M120.6 457.3L120.6 417.9M130.6 462.9L130.6 423.5M140.6 468.4L140.6 429.0M150.6 474.0L150.6 434.6M160.6 479.5L160.6 440.1M170.6 485.1L170.6 445.7M180.6 490.7L180.6 451.3M190.6 496.2L190.6 456.8M200.6 501.8L200.6 462.4M210.6 507.3L210.6 467.9M120.6 455.3L210.6 505.4M120.6 443.1L210.6 493.2M120.6 430.9L210.6 481.0M120.6 418.7L210.6 468.8M120.6 457.3L30.1 508.1M130.6 462.9L40.1 513.7M140.6 468.4L50.1 519.2M150.6 474.0L60.1 524.8M160.6 479.5L70.1 530.3M170.6 485.1L80.1 535.9M180.6 490.7L90.1 541.5M190.6 496.2L100.1 547.0M200.6 501.8L110.1 552.6M210.6 507.3L120.1 558.1M120.6 457.3L210.6 507.3M102.5 467.5L192.5 517.5M84.4 477.6L174.4 527.7M66.3 487.8L156.3 537.8M48.2 497.9L138.2 548.0M30.1 508.1L120.1 558.1" stroke="#e4e0e0" stroke-width="0.7" fill="none"/>
<path d="M30.1 468.7L30.1 508.1M30.1 508.1L120.1 558.1L210.6 507.3M30.1 506.1l-1.8 1.0M30.1 493.9l-1.8 1.0M30.1 481.7l-1.8 1.0M30.1 469.5l-1.8 1.0M30.1 508.1l2.2 -1.2M40.1 513.7l2.2 -1.2M50.1 519.2l2.2 -1.2M60.1 524.8l2.2 -1.2M70.1 530.3l2.2 -1.2M80.1 535.9l2.2 -1.2M90.1 541.5l2.2 -1.2M100.1 547.0l2.2 -1.2M110.1 552.6l2.2 -1.2M120.1 558.1l2.2 -1.2M210.6 507.3l-2.2 -1.2M192.5 517.5l-2.2 -1.2M174.4 527.7l-2.2 -1.2M156.3 537.8l-2.2 -1.2M138.2 548.0l-2.2 -1.2M120.1 558.1l-2.2 -1.2" stroke="#333" stroke-width="1" fill="none"/>
<polygon points="120.6,436.1 123.9,435.1 117.9,438.7 114.6,438.3" color="#67c6d2"/>
<polygon points="114.6,438.3 117.9,438.7 111.9,442.3 108.5,440.5" color="#70c9c8"/>
<polygon points="108.5,440.5 111.9,442.3 105.8,445.9 102.5,442.7" color="#74cabc"/>
<polygon points="123.9,435.1 127.3,434.1 121.2,439.1 117.9,438.7" color="#52c0e3"/>
<polygon points="117.9,438.7 121.2,439.1 115.2,444.1 111.9,442.3" color="#65c6d4"/>
<polygon points="111.9,442.3 115.2,444.1 109.2,449.1 105.8,445.9" color="#72c9c3"/>
<polygon points="127.3,434.1 130.6,433.1 124.6,439.5 121.2,439.1" color="#3fb7ef"/>
<polygon points="121.2,439.1 124.6,439.5 118.5,445.9 115.2,444.1" color="#57c2df"/>
<polygon points="115.2,444.1 118.5,445.9 112.5,452.3 109.2,449.1" color="#6fc8ca"/>
<path d="M120.6 436.1L130.6 433.1M120.6 436.1L102.5 442.7" stroke="#001810" stroke-opacity="0.5" stroke-width="0.9" fill="none"/>
<circle cx="120.6" cy="436.1" r="1.05" fill="#111"/>
<polygon points="130.6,433.1 133.9,432.5 127.9,438.8 124.6,439.5" color="#39aaec"/>
<polygon points="124.6,439.5 127.9,438.8 121.9,445.1 118.5,445.9" color="#4fc0e5"/>
<polygon points="118.5,445.9 121.9,445.1 115.8,451.4 112.5,452.3" color="#6dc8ce"/>
<polygon points="133.9,432.5 137.3,431.8 131.2,438.1 127.9,438.8" color="#38a7eb"/>
<polygon points="127.9,438.8 131.2,438.1 125.2,444.4 121.9,445.1" color="#4cbfe7"/>
<polygon points="121.9,445.1 125.2,444.4 119.2,450.6 115.8,451.4" color="#6ac7d0"/>
<polygon points="137.3,431.8 140.6,431.2 134.6,437.4 131.2,438.1" color="#36a5ea"/>
<polygon points="131.2,438.1 134.6,437.4 128.5,443.6 125.2,444.4" color="#4abee9"/>
<polygon points="125.2,444.4 128.5,443.6 122.5,449.8 119.2,450.6" color="#68c6d2"/>
<path d="M130.6 433.1L112.5 452.3M130.6 433.1L140.6 431.2" stroke="#001810" stroke-opacity="0.5" stroke-width="0.9" fill="none"/>
<circle cx="130.6" cy="433.1" r="1.05" fill="#111"/>
<polygon points="102.5,442.7 105.8,445.9 99.8,455.2 96.5,453.1" color="#79ccad"/>
<polygon points="96.5,453.1 99.8,455.2 93.8,464.5 90.4,463.5" color="#81ce9b"/>
<polygon points="90.4,463.5 93.8,464.5 87.7,473.8 84.4,473.8" color="#91cf84"/>
<polygon points="105.8,445.9 109.2,449.1 103.1,457.3 99.8,455.2" color="#78ccb0"/>
<polygon points="99.8,455.2 103.1,457.3 97.1,465.6 93.8,464.5" color="#80ce9d"/>
<polygon points="93.8,464.5 97.1,465.6 91.1,473.8 87.7,473.8" color="#90cf85"/>
<polygon points="109.2,449.1 112.5,452.3 106.5,459.4 103.1,457.3" color="#78ccb2"/>
<polygon points="103.1,457.3 106.5,459.4 100.4,466.6 97.1,465.6" color="#7fce9f"/>
<polygon points="97.1,465.6 100.4,466.6 94.4,473.8 91.1,473.8" color="#90cf86"/>
<path d="M102.5 442.7L112.5 452.3M102.5 442.7L84.4 473.8" stroke="#001810" stroke-opacity="0.5" stroke-width="0.9" fill="none"/>
<circle cx="102.5" cy="442.7" r="1.05" fill="#111"/>
<polygon points="140.6,431.2 143.9,433.7 137.9,440.3 134.6,437.4" color="#37a6eb"/>
<polygon points="134.6,437.4 137.9,440.3 131.9,447 128.5,443.6" color="#4bbfe8"/>
<polygon points="128.5,443.6 131.9,447 125.8,453.6 122.5,449.8" color="#69c7d1"/>
<polygon points="143.9,433.7 147.3,436.2 141.2,443.3 137.9,440.3" color="#3aacec"/>
<polygon points="137.9,440.3 141.2,443.3 135.2,450.3 131.9,447" color="#50c0e4"/>
<polygon points="131.9,447 135.2,450.3 129.2,457.4 125.8,453.6" color="#6ec8cd"/>
<polygon points="147.3,436.2 150.6,438.7 144.6,446.2 141.2,443.3" color="#3cb1ed"/>
<polygon points="141.2,443.3 144.6,446.2 138.5,453.7 135.2,450.3" color="#55c1e0"/>
<polygon points="135.2,450.3 138.5,453.7 132.5,461.2 129.2,457.4" color="#70c9c8"/>
<path d="M140.6 431.2L122.5 449.8M140.6 431.2L150.6 438.7" stroke="#001810" stroke-opacity="0.5" stroke-width="0.9" fill="none"/>
<circle cx="140.6" cy="431.2" r="1.05" fill="#111"/>
<polygon points="112.5,452.3 115.8,451.4 109.8,459.7 106.5,459.4" color="#77cbb4"/>
<polygon points="106.5,459.4 109.8,459.7 103.8,467.9 100.4,466.6" color="#7ecea1"/>
<polygon points="100.4,466.6 103.8,467.9 97.7,476.2 94.4,473.8" color="#90cf86"/>
<polygon points="115.8,451.4 119.2,450.6 113.1,459.9 109.8,459.7" color="#76cbb7"/>
<polygon points="109.8,459.7 113.1,459.9 107.1,469.2 103.8,467.9" color="#7dcea2"/>
<polygon points="103.8,467.9 107.1,469.2 101.1,478.6 97.7,476.2" color="#8fcf87"/>
<polygon points="119.2,450.6 122.5,449.8 116.5,460.2 113.1,459.9" color="#75cbb9"/>
<polygon points="113.1,459.9 116.5,460.2 110.4,470.6 107.1,469.2" color="#7dcea3"/>
<polygon points="107.1,469.2 110.4,470.6 104.4,480.9 101.1,478.6" color="#8fcf87"/>
<path d="M112.5 452.3L122.5 449.8M112.5 452.3L94.4 473.8" stroke="#001810" stroke-opacity="0.5" stroke-width="0.9" fill="none"/>
<circle cx="112.5" cy="452.3" r="1.05" fill="#111"/>
<polygon points="150.6,438.7 153.9,440.8 147.9,449.1 144.6,446.2" color="#3eb5ee"/>
<polygon points="144.6,446.2 147.9,449.1 141.9,457.3 138.5,453.7" color="#59c2dd"/>
<polygon points="138.5,453.7 141.9,457.3 135.8,465.6 132.5,461.2" color="#72c9c2"/>
<polygon points="153.9,440.8 157.3,442.9 151.2,451.9 147.9,449.1" color="#3fb9ef"/>
<polygon points="147.9,449.1 151.2,451.9 145.2,460.9 141.9,457.3" color="#5dc4da"/>
<polygon points="141.9,457.3 145.2,460.9 139.2,470 135.8,465.6" color="#74cabd"/>
<polygon points="157.3,442.9 160.6,445 154.6,454.8 151.2,451.9" color="#41bcf0"/>
<polygon points="151.2,451.9 154.6,454.8 148.5,464.6 145.2,460.9" color="#61c4d7"/>
<polygon points="145.2,460.9 148.5,464.6 142.5,474.3 139.2,470" color="#75cbb8"/>
<path d="M150.6 438.7L132.5 461.2M150.6 438.7L160.6 445.0" stroke="#001810" stroke-opacity="0.5" stroke-width="0.9" fill="none"/>
<circle cx="150.6" cy="438.7" r="1.05" fill="#111"/>
<polygon points="84.4,473.8 87.7,473.8 81.7,475.4 78.4,475" color="#97d079"/>
<polygon points="78.4,475 81.7,475.4 75.7,477 72.3,476.1" color="#94cf7e"/>
<polygon points="72.3,476.1 75.7,477 69.6,478.6 66.3,477.3" color="#91cf84"/>
<polygon points="87.7,473.8 91.1,473.8 85,475.8 81.7,475.4" color="#97d07a"/>
<polygon points="81.7,475.4 85,475.8 79,477.8 75.7,477" color="#93cf81"/>
<polygon points="75.7,477 79,477.8 73,479.9 69.6,478.6" color="#8fcf87"/>
<polygon points="91.1,473.8 94.4,473.8 88.4,476.2 85,475.8" color="#96d07b"/>
<polygon points="85,475.8 88.4,476.2 82.3,478.7 79,477.8" color="#92cf83"/>
<polygon points="79,477.8 82.3,478.7 76.3,481.1 73,479.9" color="#8dcf8a"/>
<path d="M84.4 473.8L94.4 473.8M84.4 473.8L66.3 477.3" stroke="#001810" stroke-opacity="0.5" stroke-width="0.9" fill="none"/>
<circle cx="84.4" cy="473.8" r="1.05" fill="#111"/>
<polygon points="122.5,449.8 125.8,453.6 119.8,463.7 116.5,460.2" color="#76cbb7"/>
<polygon points="116.5,460.2 119.8,463.7 113.8,473.9 110.4,470.6" color="#7ecea1"/>
<polygon points="110.4,470.6 113.8,473.9 107.7,484 104.4,480.9" color="#92cf82"/>
<polygon points="125.8,453.6 129.2,457.4 123.1,467.3 119.8,463.7" color="#78ccb1"/>
<polygon points="119.8,463.7 123.1,467.3 117.1,477.2 113.8,473.9" color="#84ce98"/>
<polygon points="113.8,473.9 117.1,477.2 111.1,487.2 107.7,484" color="#99d076"/>
<polygon points="129.2,457.4 132.5,461.2 126.5,470.9 123.1,467.3" color="#7acdab"/>
<polygon points="123.1,467.3 126.5,470.9 120.4,480.6 117.1,477.2" color="#8acf8e"/>
<polygon points="117.1,477.2 120.4,480.6 114.4,490.3 111.1,487.2" color="#a1d169"/>
<path d="M122.5 449.8L132.5 461.2M122.5 449.8L104.4 480.9" stroke="#001810" stroke-opacity="0.5" stroke-width="0.9" fill="none"/>
<circle cx="122.5" cy="449.8" r="1.05" fill="#111"/>
<polygon points="160.6,445 163.9,449.5 157.9,458.5 154.6,454.8" color="#4abee9"/>
<polygon points="154.6,454.8 157.9,458.5 151.9,467.6 148.5,464.6" color="#68c6d1"/>
<polygon points="148.5,464.6 151.9,467.6 145.8,476.6 142.5,474.3" color="#78ccb2"/>
<polygon points="163.9,449.5 167.3,454 161.2,462.3 157.9,458.5" color="#59c2dd"/>
<polygon points="157.9,458.5 161.2,462.3 155.2,470.6 151.9,467.6" color="#70c9c7"/>
<polygon points="151.9,467.6 155.2,470.6 149.2,478.8 145.8,476.6" color="#7acdaa"/>
<polygon points="167.3,454 170.6,458.5 164.6,466 161.2,462.3" color="#69c7d1"/>
<polygon points="161.2,462.3 164.6,466 158.5,473.6 155.2,470.6" color="#75cabb"/>
<polygon points="155.2,470.6 158.5,473.6 152.5,481.1 149.2,478.8" color="#7dcea2"/>
<path d="M160.6 445.0L142.5 474.3M160.6 445.0L170.6 458.5" stroke="#001810" stroke-opacity="0.5" stroke-width="0.9" fill="none"/>
<circle cx="160.6" cy="445.0" r="1.05" fill="#111"/>
<polygon points="94.4,473.8 97.7,476.2 91.7,478.2 88.4,476.2" color="#96d07b"/>
<polygon points="88.4,476.2 91.7,478.2 85.7,480.3 82.3,478.7" color="#90cf85"/>
<polygon points="82.3,478.7 85.7,480.3 79.6,482.3 76.3,481.1" color="#8bcf8d"/>
<polygon points="97.7,476.2 101.1,478.6 95,480.2 91.7,478.2" color="#95d07c"/>
<polygon points="91.7,478.2 95,480.2 89,481.9 85.7,480.3" color="#8fcf87"/>
<polygon points="85.7,480.3 89,481.9 83,483.5 79.6,482.3" color="#89cf90"/>
<polygon points="101.1,478.6 104.4,480.9 98.4,482.2 95,480.2" color="#95d07d"/>
<polygon points="95,480.2 98.4,482.2 92.3,483.5 89,481.9" color="#8ecf89"/>
<polygon points="89,481.9 92.3,483.5 86.3,484.7 83,483.5" color="#87ce93"/>
<path d="M94.4 473.8L104.4 480.9M94.4 473.8L76.3 481.1" stroke="#001810" stroke-opacity="0.5" stroke-width="0.9" fill="none"/>
<circle cx="94.4" cy="473.8" r="1.05" fill="#111"/>
<polygon points="132.5,461.2 135.8,465.6 129.8,474.5 126.5,470.9" color="#7ccda5"/>
<polygon points="126.5,470.9 129.8,474.5 123.8,483.4 120.4,480.6" color="#90cf86"/>
<polygon points="120.4,480.6 123.8,483.4 117.7,492.2 114.4,490.3" color="#a7d25e"/>
<polygon points="135.8,465.6 139.2,470 133.1,478 129.8,474.5" color="#7ecea0"/>
<polygon points="129.8,474.5 133.1,478 127.1,486.1 123.8,483.4" color="#95d07d"/>
<polygon points="123.8,483.4 127.1,486.1 121.1,494.2 117.7,492.2" color="#abd358"/>
<polygon points="139.2,470 142.5,474.3 136.5,481.6 133.1,478" color="#83ce99"/>
<polygon points="133.1,478 136.5,481.6 130.4,488.9 127.1,486.1" color="#9ad074"/>
<polygon points="127.1,486.1 130.4,488.9 124.4,496.2 121.1,494.2" color="#afd353"/>
<path d="M132.5 461.2L142.5 474.3M132.5 461.2L114.4 490.3" stroke="#001810" stroke-opacity="0.5" stroke-width="0.9" fill="none"/>
<circle cx="132.5" cy="461.2" r="1.05" fill="#111"/>
<polygon points="170.6,458.5 173.9,463.6 167.9,470.6 164.6,466" color="#71c9c5"/>
<polygon points="164.6,466 167.9,470.6 161.9,477.7 158.5,473.6" color="#78ccb1"/>
<polygon points="158.5,473.6 161.9,477.7 155.8,484.8 152.5,481.1" color="#81ce9b"/>
<polygon points="173.9,463.6 177.3,468.6 171.2,475.2 167.9,470.6" color="#74cabc"/>
<polygon points="167.9,470.6 171.2,475.2 165.2,481.8 161.9,477.7" color="#7acdaa"/>
<polygon points="161.9,477.7 165.2,481.8 159.2,488.4 155.8,484.8" color="#85ce96"/>
<polygon points="177.3,468.6 180.6,473.7 174.6,479.8 171.2,475.2" color="#77ccb2"/>
<polygon points="171.2,475.2 174.6,479.8 168.5,485.9 165.2,481.8" color="#7dcea3"/>
<polygon points="165.2,481.8 168.5,485.9 162.5,492 159.2,488.4" color="#89cf90"/>
<path d="M170.6 458.5L152.5 481.1M170.6 458.5L180.6 473.7" stroke="#001810" stroke-opacity="0.5" stroke-width="0.9" fill="none"/>
<circle cx="170.6" cy="458.5" r="1.05" fill="#111"/>
<polygon points="66.3,477.3 69.6,478.6 63.6,481.1 60.3,480.3" color="#8dcf8b"/>
<polygon points="60.3,480.3 63.6,481.1 57.6,483.6 54.2,483.4" color="#86ce94"/>
<polygon points="54.2,483.4 57.6,483.6 51.5,486.2 48.2,486.5" color="#80ce9d"/>
<polygon points="69.6,478.6 73,479.9 66.9,481.9 63.6,481.1" color="#89cf90"/>
<polygon points="63.6,481.1 66.9,481.9 60.9,483.9 57.6,483.6" color="#80ce9d"/>
<polygon points="57.6,483.6 60.9,483.9 54.9,485.9 51.5,486.2" color="#7bcda8"/>
<polygon points="73,479.9 76.3,481.1 70.3,482.6 66.9,481.9" color="#85ce96"/>
<polygon points="66.9,481.9 70.3,482.6 64.2,484.1 60.9,483.9" color="#7ccda5"/>
<polygon points="60.9,483.9 64.2,484.1 58.2,485.6 54.9,485.9" color="#78ccb1"/>
<path d="M66.3 477.3L76.3 481.1M66.3 477.3L48.2 486.5" stroke="#001810" stroke-opacity="0.5" stroke-width="0.9" fill="none"/>
<circle cx="66.3" cy="477.3" r="1.05" fill="#111"/>
<polygon points="104.4,480.9 107.7,484 101.7,485.3 98.4,482.2" color="#98d077"/>
<polygon points="98.4,482.2 101.7,485.3 95.7,486.6 92.3,483.5" color="#90cf86"/>
<polygon points="92.3,483.5 95.7,486.6 89.6,487.9 86.3,484.7" color="#87ce92"/>
<polygon points="107.7,484 111.1,487.2 105,488.5 101.7,485.3" color="#9fd16c"/>
<polygon points="101.7,485.3 105,488.5 99,489.8 95.7,486.6" color="#95d07d"/>
<polygon points="95.7,486.6 99,489.8 93,491.1 89.6,487.9" color="#8bcf8d"/>
<polygon points="111.1,487.2 114.4,490.3 108.4,491.6 105,488.5" color="#a6d260"/>
<polygon points="105,488.5 108.4,491.6 102.3,492.9 99,489.8" color="#9ad074"/>
<polygon points="99,489.8 102.3,492.9 96.3,494.2 93,491.1" color="#8ecf88"/>
<path d="M104.4 480.9L114.4 490.3M104.4 480.9L86.3 484.7" stroke="#001810" stroke-opacity="0.5" stroke-width="0.9" fill="none"/>
<circle cx="104.4" cy="480.9" r="1.05" fill="#111"/>
<polygon points="142.5,474.3 145.8,476.6 139.8,483.2 136.5,481.6" color="#88ce92"/>
<polygon points="136.5,481.6 139.8,483.2 133.8,489.9 130.4,488.9" color="#9dd16f"/>
<polygon points="130.4,488.9 133.8,489.9 127.7,496.5 124.4,496.2" color="#b0d452"/>
<polygon points="145.8,476.6 149.2,478.8 143.1,484.9 139.8,483.2" color="#8bcf8c"/>
<polygon points="139.8,483.2 143.1,484.9 137.1,490.9 133.8,489.9" color="#9ed16d"/>
<polygon points="133.8,489.9 137.1,490.9 131.1,496.9 127.7,496.5" color="#afd453"/>
<polygon points="149.2,478.8 152.5,481.1 146.5,486.5 143.1,484.9" color="#8fcf87"/>
<polygon points="143.1,484.9 146.5,486.5 140.4,491.9 137.1,490.9" color="#a0d16a"/>
<polygon points="137.1,490.9 140.4,491.9 134.4,497.2 131.1,496.9" color="#aed354"/>
<path d="M142.5 474.3L152.5 481.1M142.5 474.3L124.4 496.2" stroke="#001810" stroke-opacity="0.5" stroke-width="0.9" fill="none"/>
<circle cx="142.5" cy="474.3" r="1.05" fill="#111"/>
<polygon points="180.6,473.7 183.9,478.5 177.9,483.1 174.6,479.8" color="#7acdaa"/>
<polygon points="174.6,479.8 177.9,483.1 171.9,487.7 168.5,485.9" color="#81ce9c"/>
<polygon points="168.5,485.9 171.9,487.7 165.8,492.3 162.5,492" color="#8ccf8b"/>
<polygon points="183.9,478.5 187.3,483.3 181.2,486.4 177.9,483.1" color="#7dcea3"/>
<polygon points="177.9,483.1 181.2,486.4 175.2,489.4 171.9,487.7" color="#86ce95"/>
<polygon points="171.9,487.7 175.2,489.4 169.2,492.5 165.8,492.3" color="#90cf86"/>
<polygon points="187.3,483.3 190.6,488.2 184.6,489.7 181.2,486.4" color="#82ce9a"/>
<polygon points="181.2,486.4 184.6,489.7 178.5,491.2 175.2,489.4" color="#8bcf8d"/>
<polygon points="175.2,489.4 178.5,491.2 172.5,492.7 169.2,492.5" color="#93cf80"/>
<path d="M180.6 473.7L162.5 492.0M180.6 473.7L190.6 488.2" stroke="#001810" stroke-opacity="0.5" stroke-width="0.9" fill="none"/>
<circle cx="180.6" cy="473.7" r="1.05" fill="#111"/>
<polygon points="76.3,481.1 79.6,482.3 73.6,483.4 70.3,482.6" color="#81ce9b"/>
<polygon points="70.3,482.6 73.6,483.4 67.6,484.4 64.2,484.1" color="#7acdab"/>
<polygon points="64.2,484.1 67.6,484.4 61.5,485.5 58.2,485.6" color="#75cbb9"/>
<polygon points="79.6,482.3 83,483.5 76.9,484.2 73.6,483.4" color="#7ecea0"/>
<polygon points="73.6,483.4 76.9,484.2 70.9,484.8 67.6,484.4" color="#78ccb0"/>
<polygon points="67.6,484.4 70.9,484.8 64.9,485.4 61.5,485.5" color="#72cac1"/>
<polygon points="83,483.5 86.3,484.7 80.3,484.9 76.9,484.2" color="#7dcea4"/>
<polygon points="76.9,484.2 80.3,484.9 74.2,485.1 70.9,484.8" color="#76cbb6"/>
<polygon points="70.9,484.8 74.2,485.1 68.2,485.3 64.9,485.4" color="#70c9c8"/>
<path d="M76.3 481.1L86.3 484.7M76.3 481.1L58.2 485.6" stroke="#001810" stroke-opacity="0.5" stroke-width="0.9" fill="none"/>
<circle cx="76.3" cy="481.1" r="1.05" fill="#111"/>
<polygon points="114.4,490.3 117.7,492.2 111.7,493.6 108.4,491.6" color="#abd358"/>
<polygon points="108.4,491.6 111.7,493.6 105.7,494.9 102.3,492.9" color="#9fd16c"/>
<polygon points="102.3,492.9 105.7,494.9 99.6,496.2 96.3,494.2" color="#92cf82"/>
<polygon points="117.7,492.2 121.1,494.2 115,495.6 111.7,493.6" color="#afd353"/>
<polygon points="111.7,493.6 115,495.6 109,496.9 105.7,494.9" color="#a4d263"/>
<polygon points="105.7,494.9 109,496.9 103,498.2 99.6,496.2" color="#97d079"/>
<polygon points="121.1,494.2 124.4,496.2 118.4,497.6 115,495.6" color="#b3d44e"/>
<polygon points="115,495.6 118.4,497.6 112.3,498.9 109,496.9" color="#a9d25b"/>
<polygon points="109,496.9 112.3,498.9 106.3,500.3 103,498.2" color="#9cd070"/>
<path d="M114.4 490.3L124.4 496.2M114.4 490.3L96.3 494.2" stroke="#001810" stroke-opacity="0.5" stroke-width="0.9" fill="none"/>
<circle cx="114.4" cy="490.3" r="1.05" fill="#111"/>
<polygon points="152.5,481.1 155.8,484.8 149.8,489.5 146.5,486.5" color="#92cf83"/>
<polygon points="146.5,486.5 149.8,489.5 143.8,494.2 140.4,491.9" color="#a0d16a"/>
<polygon points="140.4,491.9 143.8,494.2 137.7,498.9 134.4,497.2" color="#add356"/>
<polygon points="155.8,484.8 159.2,488.4 153.1,492.5 149.8,489.5" color="#93cf81"/>
<polygon points="149.8,489.5 153.1,492.5 147.1,496.5 143.8,494.2" color="#9ed16d"/>
<polygon points="143.8,494.2 147.1,496.5 141.1,500.6 137.7,498.9" color="#aad25a"/>
<polygon points="159.2,488.4 162.5,492 156.5,495.5 153.1,492.5" color="#94cf7e"/>
<polygon points="153.1,492.5 156.5,495.5 150.4,498.9 147.1,496.5" color="#9dd16f"/>
<polygon points="147.1,496.5 150.4,498.9 144.4,502.3 141.1,500.6" color="#a6d25f"/>
<path d="M152.5 481.1L162.5 492.0M152.5 481.1L134.4 497.2" stroke="#001810" stroke-opacity="0.5" stroke-width="0.9" fill="none"/>
<circle cx="152.5" cy="481.1" r="1.05" fill="#111"/>
<polygon points="190.6,488.2 193.9,492.7 187.9,494.3 184.6,489.7" color="#8ccf8b"/>
<polygon points="184.6,489.7 187.9,494.3 181.9,495.9 178.5,491.2" color="#94cf80"/>
<polygon points="178.5,491.2 181.9,495.9 175.8,497.5 172.5,492.7" color="#9bd072"/>
<polygon points="193.9,492.7 197.3,497.2 191.2,498.9 187.9,494.3" color="#99d077"/>
<polygon points="187.9,494.3 191.2,498.9 185.2,500.6 181.9,495.9" color="#a0d169"/>
<polygon points="181.9,495.9 185.2,500.6 179.2,502.3 175.8,497.5" color="#a8d25c"/>
<polygon points="197.3,497.2 200.6,501.8 194.6,503.5 191.2,498.9" color="#a5d260"/>
<polygon points="191.2,498.9 194.6,503.5 188.5,505.3 185.2,500.6" color="#acd357"/>
<polygon points="185.2,500.6 188.5,505.3 182.5,507.1 179.2,502.3" color="#b2d450"/>
<path d="M190.6 488.2L172.5 492.7M190.6 488.2L200.6 501.8" stroke="#001810" stroke-opacity="0.5" stroke-width="0.9" fill="none"/>
<circle cx="190.6" cy="488.2" r="1.05" fill="#111"/>
<polygon points="48.2,486.5 51.5,486.2 45.5,489.4 42.2,489.3" color="#7ecea0"/>
<polygon points="42.2,489.3 45.5,489.4 39.5,492.6 36.1,492.2" color="#81ce9b"/>
<polygon points="36.1,492.2 39.5,492.6 33.4,495.8 30.1,495" color="#84ce97"/>
<polygon points="51.5,486.2 54.9,485.9 48.8,489.4 45.5,489.4" color="#7acdaa"/>
<polygon points="45.5,489.4 48.8,489.4 42.8,492.9 39.5,492.6" color="#7ccda6"/>
<polygon points="39.5,492.6 42.8,492.9 36.8,496.5 33.4,495.8" color="#7dcea2"/>
<polygon points="54.9,485.9 58.2,485.6 52.2,489.4 48.8,489.4" color="#77cbb5"/>
<polygon points="48.8,489.4 52.2,489.4 46.1,493.3 42.8,492.9" color="#78ccb0"/>
<polygon points="42.8,492.9 46.1,493.3 40.1,497.2 36.8,496.5" color="#7acdab"/>
<path d="M48.2 486.5L58.2 485.6M30.1 495.0L40.1 497.2M48.2 486.5L30.1 495.0" stroke="#001810" stroke-opacity="0.5" stroke-width="0.9" fill="none"/>
<circle cx="48.2" cy="486.5" r="1.05" fill="#111"/>
<circle cx="30.1" cy="495.0" r="1.05" fill="#111"/>
<polygon points="86.3,484.7 89.6,487.9 83.6,487.8 80.3,484.9" color="#7dcda4"/>
<polygon points="80.3,484.9 83.6,487.8 77.6,487.8 74.2,485.1" color="#76cbb7"/>
<polygon points="74.2,485.1 77.6,487.8 71.5,487.7 68.2,485.3" color="#6fc8ca"/>
<polygon points="89.6,487.9 93,491.1 86.9,490.7 83.6,487.8" color="#7ecea1"/>
<polygon points="83.6,487.8 86.9,490.7 80.9,490.4 77.6,487.8" color="#77cbb4"/>
<polygon points="77.6,487.8 80.9,490.4 74.9,490.1 71.5,487.7" color="#70c9c8"/>
<polygon points="93,491.1 96.3,494.2 90.3,493.7 86.9,490.7" color="#7fce9e"/>
<polygon points="86.9,490.7 90.3,493.7 84.2,493.1 80.9,490.4" color="#78ccb2"/>
<polygon points="80.9,490.4 84.2,493.1 78.2,492.5 74.9,490.1" color="#71c9c5"/>
<path d="M86.3 484.7L96.3 494.2M86.3 484.7L68.2 485.3" stroke="#001810" stroke-opacity="0.5" stroke-width="0.9" fill="none"/>
<circle cx="86.3" cy="484.7" r="1.05" fill="#111"/>
<polygon points="124.4,496.2 127.7,496.5 121.7,498.2 118.4,497.6" color="#b4d44d"/>
<polygon points="118.4,497.6 121.7,498.2 115.7,499.8 112.3,498.9" color="#aad25a"/>
<polygon points="112.3,498.9 115.7,499.8 109.6,501.5 106.3,500.3" color="#9ed16e"/>
<polygon points="127.7,496.5 131.1,496.9 125,498.8 121.7,498.2" color="#b2d450"/>
<polygon points="121.7,498.2 125,498.8 119,500.7 115.7,499.8" color="#a8d25c"/>
<polygon points="115.7,499.8 119,500.7 113,502.7 109.6,501.5" color="#9bd072"/>
<polygon points="131.1,496.9 134.4,497.2 128.4,499.5 125,498.8" color="#b0d452"/>
<polygon points="125,498.8 128.4,499.5 122.3,501.7 119,500.7" color="#a5d260"/>
<polygon points="119,500.7 122.3,501.7 116.3,503.9 113,502.7" color="#99d077"/>
<path d="M124.4 496.2L134.4 497.2M124.4 496.2L106.3 500.3" stroke="#001810" stroke-opacity="0.5" stroke-width="0.9" fill="none"/>
<circle cx="124.4" cy="496.2" r="1.05" fill="#111"/>
<polygon points="162.5,492 165.8,492.3 159.8,496 156.5,495.5" color="#96d07c"/>
<polygon points="156.5,495.5 159.8,496 153.8,499.8 150.4,498.9" color="#9dd070"/>
<polygon points="150.4,498.9 153.8,499.8 147.7,503.6 144.4,502.3" color="#a3d164"/>
<polygon points="165.8,492.3 169.2,492.5 163.1,496.6 159.8,496" color="#97d079"/>
<polygon points="159.8,496 163.1,496.6 157.1,500.7 153.8,499.8" color="#9cd070"/>
<polygon points="153.8,499.8 157.1,500.7 151.1,504.8 147.7,503.6" color="#a2d167"/>
<polygon points="169.2,492.5 172.5,492.7 166.5,497.2 163.1,496.6" color="#99d076"/>
<polygon points="163.1,496.6 166.5,497.2 160.4,501.6 157.1,500.7" color="#9cd070"/>
<polygon points="157.1,500.7 160.4,501.6 154.4,506 151.1,504.8" color="#a0d16a"/>
<path d="M162.5 492.0L172.5 492.7M162.5 492.0L144.4 502.3" stroke="#001810" stroke-opacity="0.5" stroke-width="0.9" fill="none"/>
<circle cx="162.5" cy="492.0" r="1.05" fill="#111"/>
<polygon points="200.6,501.8 203.9,493.2 197.9,495.1 194.6,503.5" color="#99d076"/>
<polygon points="194.6,503.5 197.9,495.1 191.9,497 188.5,505.3" color="#9ed16d"/>
<polygon points="188.5,505.3 191.9,497 185.8,498.9 182.5,507.1" color="#a4d163"/>
<polygon points="203.9,493.2 207.3,484.6 201.2,486.7 197.9,495.1" color="#7accac"/>
<polygon points="197.9,495.1 201.2,486.7 195.2,488.8 191.9,497" color="#7acdaa"/>
<polygon points="191.9,497 195.2,488.8 189.2,490.8 185.8,498.9" color="#7bcda9"/>
<polygon points="207.3,484.6 210.6,476 204.6,478.2 201.2,486.7" color="#68c6d2"/>
<polygon points="201.2,486.7 204.6,478.2 198.5,480.5 195.2,488.8" color="#65c6d4"/>
<polygon points="195.2,488.8 198.5,480.5 192.5,482.7 189.2,490.8" color="#62c5d7"/>
<path d="M200.6 501.8L182.5 507.1M200.6 501.8L210.6 476.0M210.6 476.0L192.5 482.7" stroke="#001810" stroke-opacity="0.5" stroke-width="0.9" fill="none"/>
<circle cx="200.6" cy="501.8" r="1.05" fill="#111"/>
<circle cx="210.6" cy="476.0" r="1.05" fill="#111"/>
<polygon points="58.2,485.6 61.5,485.5 55.5,489.8 52.2,489.4" color="#73cabe"/>
<polygon points="52.2,489.4 55.5,489.8 49.5,494.2 46.1,493.3" color="#76cbb7"/>
<polygon points="46.1,493.3 49.5,494.2 43.4,498.5 40.1,497.2" color="#78ccb1"/>
<polygon points="61.5,485.5 64.9,485.4 58.8,490.2 55.5,489.8" color="#71c9c5"/>
<polygon points="55.5,489.8 58.8,490.2 52.8,495 49.5,494.2" color="#74cabd"/>
<polygon points="49.5,494.2 52.8,495 46.8,499.8 43.4,498.5" color="#77cbb4"/>
<polygon points="64.9,485.4 68.2,485.3 62.2,490.6 58.8,490.2" color="#6ec8cc"/>
<polygon points="58.8,490.2 62.2,490.6 56.1,495.9 52.8,495" color="#72c9c2"/>
<polygon points="52.8,495 56.1,495.9 50.1,501.2 46.8,499.8" color="#75cbb8"/>
<path d="M58.2 485.6L68.2 485.3M58.2 485.6L40.1 497.2M40.1 497.2L50.1 501.2" stroke="#001810" stroke-opacity="0.5" stroke-width="0.9" fill="none"/>
<circle cx="58.2" cy="485.6" r="1.05" fill="#111"/>
<circle cx="40.1" cy="497.2" r="1.05" fill="#111"/>
<polygon points="96.3,494.2 99.6,496.2 93.6,495.9 90.3,493.7" color="#83ce99"/>
<polygon points="90.3,493.7 93.6,495.9 87.6,495.5 84.2,493.1" color="#79ccae"/>
<polygon points="84.2,493.1 87.6,495.5 81.5,495.2 78.2,492.5" color="#72c9c2"/>
<polygon points="99.6,496.2 103,498.2 96.9,498.1 93.6,495.9" color="#88ce92"/>
<polygon points="93.6,495.9 96.9,498.1 90.9,497.9 87.6,495.5" color="#7acdaa"/>
<polygon points="87.6,495.5 90.9,497.9 84.9,497.8 81.5,495.2" color="#73cabf"/>
<polygon points="103,498.2 106.3,500.3 100.3,500.3 96.9,498.1" color="#8ccf8b"/>
<polygon points="96.9,498.1 100.3,500.3 94.2,500.4 90.9,497.9" color="#7ccda6"/>
<polygon points="90.9,497.9 94.2,500.4 88.2,500.4 84.9,497.8" color="#74cabc"/>
<path d="M96.3 494.2L106.3 500.3M96.3 494.2L78.2 492.5" stroke="#001810" stroke-opacity="0.5" stroke-width="0.9" fill="none"/>
<circle cx="96.3" cy="494.2" r="1.05" fill="#111"/>
<polygon points="134.4,497.2 137.7,498.9 131.7,500.5 128.4,499.5" color="#acd357"/>
<polygon points="128.4,499.5 131.7,500.5 125.7,502.1 122.3,501.7" color="#9ed16d"/>
<polygon points="122.3,501.7 125.7,502.1 119.6,503.7 116.3,503.9" color="#90cf86"/>
<polygon points="137.7,498.9 141.1,500.6 135,501.6 131.7,500.5" color="#a6d25f"/>
<polygon points="131.7,500.5 135,501.6 129,502.5 125.7,502.1" color="#93cf81"/>
<polygon points="125.7,502.1 129,502.5 123,503.5 119.6,503.7" color="#80ce9d"/>
<polygon points="141.1,500.6 144.4,502.3 138.4,502.7 135,501.6" color="#9fd16c"/>
<polygon points="135,501.6 138.4,502.7 132.3,503 129,502.5" color="#87ce92"/>
<polygon points="129,502.5 132.3,503 126.3,503.3 123,503.5" color="#79ccaf"/>
<path d="M134.4 497.2L144.4 502.3M134.4 497.2L116.3 503.9" stroke="#001810" stroke-opacity="0.5" stroke-width="0.9" fill="none"/>
<circle cx="134.4" cy="497.2" r="1.05" fill="#111"/>
<polygon points="172.5,492.7 175.8,497.5 169.8,502.1 166.5,497.2" color="#a1d169"/>
<polygon points="166.5,497.2 169.8,502.1 163.8,506.7 160.4,501.6" color="#a4d164"/>
<polygon points="160.4,501.6 163.8,506.7 157.7,511.3 154.4,506" color="#a7d25f"/>
<polygon points="175.8,497.5 179.2,502.3 173.1,507 169.8,502.1" color="#add356"/>
<polygon points="169.8,502.1 173.1,507 167.1,511.8 163.8,506.7" color="#afd453"/>
<polygon points="163.8,506.7 167.1,511.8 161.1,516.6 157.7,511.3" color="#b3d44f"/>
<polygon points="179.2,502.3 182.5,507.1 176.5,512 173.1,507" color="#b7d54a"/>
<polygon points="173.1,507 176.5,512 170.4,516.9 167.1,511.8" color="#bad645"/>
<polygon points="167.1,511.8 170.4,516.9 164.4,521.9 161.1,516.6" color="#bed641"/>
<path d="M172.5 492.7L182.5 507.1M172.5 492.7L154.4 506.0" stroke="#001810" stroke-opacity="0.5" stroke-width="0.9" fill="none"/>
<circle cx="172.5" cy="492.7" r="1.05" fill="#111"/>
<polygon points="68.2,485.3 71.5,487.7 65.5,492.7 62.2,490.6" color="#6cc8ce"/>
<polygon points="62.2,490.6 65.5,492.7 59.5,497.6 56.1,495.9" color="#71c9c5"/>
<polygon points="56.1,495.9 59.5,497.6 53.4,502.6 50.1,501.2" color="#74cabb"/>
<polygon points="71.5,487.7 74.9,490.1 68.8,494.8 65.5,492.7" color="#6ec8cd"/>
<polygon points="65.5,492.7 68.8,494.8 62.8,499.4 59.5,497.6" color="#71c9c5"/>
<polygon points="59.5,497.6 62.8,499.4 56.8,504.1 53.4,502.6" color="#74cabd"/>
<polygon points="74.9,490.1 78.2,492.5 72.2,496.9 68.8,494.8" color="#6fc8cb"/>
<polygon points="68.8,494.8 72.2,496.9 66.1,501.2 62.8,499.4" color="#71c9c5"/>
<polygon points="62.8,499.4 66.1,501.2 60.1,505.5 56.8,504.1" color="#73cabe"/>
<path d="M68.2 485.3L78.2 492.5M68.2 485.3L50.1 501.2M50.1 501.2L60.1 505.5" stroke="#001810" stroke-opacity="0.5" stroke-width="0.9" fill="none"/>
<circle cx="68.2" cy="485.3" r="1.05" fill="#111"/>
<circle cx="50.1" cy="501.2" r="1.05" fill="#111"/>
<polygon points="106.3,500.3 109.6,501.5 103.6,501.9 100.3,500.3" color="#8dcf89"/>
<polygon points="100.3,500.3 103.6,501.9 97.6,502.3 94.2,500.4" color="#7ccda5"/>
<polygon points="94.2,500.4 97.6,502.3 91.5,502.7 88.2,500.4" color="#75cbba"/>
<polygon points="109.6,501.5 113,502.7 106.9,503.4 103.6,501.9" color="#8bcf8c"/>
<polygon points="103.6,501.9 106.9,503.4 100.9,504.2 97.6,502.3" color="#7ccda6"/>
<polygon points="97.6,502.3 100.9,504.2 94.9,504.9 91.5,502.7" color="#75cabb"/>
<polygon points="113,502.7 116.3,503.9 110.3,505 106.9,503.4" color="#89cf90"/>
<polygon points="106.9,503.4 110.3,505 104.2,506.1 100.9,504.2" color="#7bcda8"/>
<polygon points="100.9,504.2 104.2,506.1 98.2,507.2 94.9,504.9" color="#74cabb"/>
<path d="M106.3 500.3L116.3 503.9M106.3 500.3L88.2 500.4" stroke="#001810" stroke-opacity="0.5" stroke-width="0.9" fill="none"/>
<circle cx="106.3" cy="500.3" r="1.05" fill="#111"/>
<polygon points="144.4,502.3 147.7,503.6 141.7,502.8 138.4,502.7" color="#99d077"/>
<polygon points="138.4,502.7 141.7,502.8 135.7,502 132.3,503" color="#7ecea1"/>
<polygon points="132.3,503 135.7,502 129.6,501.3 126.3,503.3" color="#73cabf"/>
<polygon points="147.7,503.6 151.1,504.8 145,502.9 141.7,502.8" color="#94cf80"/>
<polygon points="141.7,502.8 145,502.9 139,501.1 135.7,502" color="#7accac"/>
<polygon points="135.7,502 139,501.1 133,499.2 129.6,501.3" color="#6cc7cf"/>
<polygon points="151.1,504.8 154.4,506 148.4,503.1 145,502.9" color="#8ecf88"/>
<polygon points="145,502.9 148.4,503.1 142.3,500.1 139,501.1" color="#76cbb7"/>
<polygon points="139,501.1 142.3,500.1 136.3,497.2 133,499.2" color="#5cc3db"/>
<path d="M144.4 502.3L154.4 506.0M144.4 502.3L126.3 503.3" stroke="#001810" stroke-opacity="0.5" stroke-width="0.9" fill="none"/>
<circle cx="144.4" cy="502.3" r="1.05" fill="#111"/>
<polygon points="182.5,507.1 185.8,498.9 179.8,503.4 176.5,512" color="#a9d25b"/>
<polygon points="176.5,512 179.8,503.4 173.8,507.9 170.4,516.9" color="#acd357"/>
<polygon points="170.4,516.9 173.8,507.9 167.7,512.4 164.4,521.9" color="#afd353"/>
<polygon points="185.8,498.9 189.2,490.8 183.1,494.9 179.8,503.4" color="#7ccda7"/>
<polygon points="179.8,503.4 183.1,494.9 177.1,498.9 173.8,507.9" color="#7dcda4"/>
<polygon points="173.8,507.9 177.1,498.9 171.1,502.9 167.7,512.4" color="#7ecea1"/>
<polygon points="189.2,490.8 192.5,482.7 186.5,486.3 183.1,494.9" color="#61c4d7"/>
<polygon points="183.1,494.9 186.5,486.3 180.4,489.8 177.1,498.9" color="#62c5d7"/>
<polygon points="177.1,498.9 180.4,489.8 174.4,493.4 171.1,502.9" color="#62c5d6"/>
<path d="M182.5 507.1L192.5 482.7M182.5 507.1L164.4 521.9M192.5 482.7L174.4 493.4" stroke="#001810" stroke-opacity="0.5" stroke-width="0.9" fill="none"/>
<circle cx="182.5" cy="507.1" r="1.05" fill="#111"/>
<circle cx="192.5" cy="482.7" r="1.05" fill="#111"/>
<polygon points="78.2,492.5 81.5,495.2 75.5,499.3 72.2,496.9" color="#6fc9c9"/>
<polygon points="72.2,496.9 75.5,499.3 69.5,503.4 66.1,501.2" color="#71c9c4"/>
<polygon points="66.1,501.2 69.5,503.4 63.4,507.5 60.1,505.5" color="#73cabf"/>
<polygon points="81.5,495.2 84.9,497.8 78.8,501.7 75.5,499.3" color="#70c9c7"/>
<polygon points="75.5,499.3 78.8,501.7 72.8,505.6 69.5,503.4" color="#72c9c3"/>
<polygon points="69.5,503.4 72.8,505.6 66.8,509.5 63.4,507.5" color="#73cabf"/>
<polygon points="84.9,497.8 88.2,500.4 82.2,504.1 78.8,501.7" color="#71c9c5"/>
<polygon points="78.8,501.7 82.2,504.1 76.1,507.8 72.8,505.6" color="#72cac1"/>
<polygon points="72.8,505.6 76.1,507.8 70.1,511.6 66.8,509.5" color="#73cabe"/>
<path d="M78.2 492.5L88.2 500.4M78.2 492.5L60.1 505.5M60.1 505.5L70.1 511.6" stroke="#001810" stroke-opacity="0.5" stroke-width="0.9" fill="none"/>
<circle cx="78.2" cy="492.5" r="1.05" fill="#111"/>
<circle cx="60.1" cy="505.5" r="1.05" fill="#111"/>
<polygon points="116.3,503.9 119.6,503.7 113.6,504.2 110.3,505" color="#7fce9e"/>
<polygon points="110.3,505 113.6,504.2 107.6,504.7 104.2,506.1" color="#78ccb1"/>
<polygon points="104.2,506.1 107.6,504.7 101.5,505.1 98.2,507.2" color="#71c9c4"/>
<polygon points="119.6,503.7 123,503.5 116.9,503.4 113.6,504.2" color="#78ccb1"/>
<polygon points="113.6,504.2 116.9,503.4 110.9,503.2 107.6,504.7" color="#72c9c3"/>
<polygon points="107.6,504.7 110.9,503.2 104.9,503.1 101.5,505.1" color="#67c6d2"/>
<polygon points="123,503.5 126.3,503.3 120.3,502.6 116.9,503.4" color="#71c9c4"/>
<polygon points="116.9,503.4 120.3,502.6 114.2,501.8 110.9,503.2" color="#67c6d2"/>
<polygon points="110.9,503.2 114.2,501.8 108.2,501 104.9,503.1" color="#58c2de"/>
<path d="M116.3 503.9L126.3 503.3M116.3 503.9L98.2 507.2" stroke="#001810" stroke-opacity="0.5" stroke-width="0.9" fill="none"/>
<circle cx="116.3" cy="503.9" r="1.05" fill="#111"/>
<polygon points="154.4,506 157.7,511.3 151.7,509.9 148.4,503.1" color="#96d07b"/>
<polygon points="148.4,503.1 151.7,509.9 145.7,508.5 142.3,500.1" color="#79ccad"/>
<polygon points="142.3,500.1 145.7,508.5 139.6,507.2 136.3,497.2" color="#68c6d2"/>
<polygon points="157.7,511.3 161.1,516.6 155,516.8 151.7,509.9" color="#aad25a"/>
<polygon points="151.7,509.9 155,516.8 149,517 145.7,508.5" color="#8fcf87"/>
<polygon points="145.7,508.5 149,517 143,517.1 139.6,507.2" color="#7acdaa"/>
<polygon points="161.1,516.6 164.4,521.9 158.4,523.6 155,516.8" color="#b9d547"/>
<polygon points="155,516.8 158.4,523.6 152.3,525.4 149,517" color="#acd358"/>
<polygon points="149,517 152.3,525.4 146.3,527.1 143,517.1" color="#9bd073"/>
<path d="M154.4 506.0L164.4 521.9M154.4 506.0L136.3 497.2" stroke="#001810" stroke-opacity="0.5" stroke-width="0.9" fill="none"/>
<circle cx="154.4" cy="506.0" r="1.05" fill="#111"/>
<polygon points="88.2,500.4 91.5,502.7 85.5,506 82.2,504.1" color="#71c9c3"/>
<polygon points="82.2,504.1 85.5,506 79.5,509.4 76.1,507.8" color="#72cac1"/>
<polygon points="76.1,507.8 79.5,509.4 73.4,512.7 70.1,511.6" color="#73cabe"/>
<polygon points="91.5,502.7 94.9,504.9 88.8,507.9 85.5,506" color="#71c9c3"/>
<polygon points="85.5,506 88.8,507.9 82.8,510.9 79.5,509.4" color="#72cac1"/>
<polygon points="79.5,509.4 82.8,510.9 76.8,513.9 73.4,512.7" color="#73cabe"/>
<polygon points="94.9,504.9 98.2,507.2 92.2,509.8 88.8,507.9" color="#71c9c3"/>
<polygon points="88.8,507.9 92.2,509.8 86.1,512.4 82.8,510.9" color="#72cac1"/>
<polygon points="82.8,510.9 86.1,512.4 80.1,515 76.8,513.9" color="#73cabe"/>
<path d="M88.2 500.4L98.2 507.2M88.2 500.4L70.1 511.6M70.1 511.6L80.1 515.0" stroke="#001810" stroke-opacity="0.5" stroke-width="0.9" fill="none"/>
<circle cx="88.2" cy="500.4" r="1.05" fill="#111"/>
<circle cx="70.1" cy="511.6" r="1.05" fill="#111"/>
<polygon points="126.3,503.3 129.6,501.3 123.6,501.1 120.3,502.6" color="#67c6d3"/>
<polygon points="120.3,502.6 123.6,501.1 117.6,501 114.2,501.8" color="#5ac3dd"/>
<polygon points="114.2,501.8 117.6,501 111.5,500.9 108.2,501" color="#4ebfe6"/>
<polygon points="129.6,501.3 133,499.2 126.9,499.7 123.6,501.1" color="#58c2de"/>
<polygon points="123.6,501.1 126.9,499.7 120.9,500.2 117.6,501" color="#50c0e4"/>
<polygon points="117.6,501 120.9,500.2 114.9,500.7 111.5,500.9" color="#48beea"/>
<polygon points="133,499.2 136.3,497.2 130.3,498.3 126.9,499.7" color="#48beea"/>
<polygon points="126.9,499.7 130.3,498.3 124.2,499.4 120.9,500.2" color="#46bdec"/>
<polygon points="120.9,500.2 124.2,499.4 118.2,500.5 114.9,500.7" color="#44bdee"/>
<path d="M126.3 503.3L136.3 497.2M126.3 503.3L108.2 501.0" stroke="#001810" stroke-opacity="0.5" stroke-width="0.9" fill="none"/>
<circle cx="126.3" cy="503.3" r="1.05" fill="#111"/>
<polygon points="164.4,521.9 167.7,512.4 161.7,514.8 158.4,523.6" color="#add356"/>
<polygon points="158.4,523.6 161.7,514.8 155.7,517.3 152.3,525.4" color="#a4d164"/>
<polygon points="152.3,525.4 155.7,517.3 149.6,519.7 146.3,527.1" color="#99d076"/>
<polygon points="167.7,512.4 171.1,502.9 165,506 161.7,514.8" color="#7dcea3"/>
<polygon points="161.7,514.8 165,506 159,509.2 155.7,517.3" color="#7acdaa"/>
<polygon points="155.7,517.3 159,509.2 153,512.3 149.6,519.7" color="#78ccb1"/>
<polygon points="171.1,502.9 174.4,493.4 168.4,497.2 165,506" color="#62c5d7"/>
<polygon points="165,506 168.4,497.2 162.3,501 159,509.2" color="#60c4d8"/>
<polygon points="159,509.2 162.3,501 156.3,504.9 153,512.3" color="#5ec4da"/>
<path d="M164.4 521.9L174.4 493.4M164.4 521.9L146.3 527.1M174.4 493.4L156.3 504.9" stroke="#001810" stroke-opacity="0.5" stroke-width="0.9" fill="none"/>
<circle cx="164.4" cy="521.9" r="1.05" fill="#111"/>
<circle cx="174.4" cy="493.4" r="1.05" fill="#111"/>
<polygon points="98.2,507.2 101.5,505.1 95.5,509.2 92.2,509.8" color="#6fc8ca"/>
<polygon points="92.2,509.8 95.5,509.2 89.5,513.2 86.1,512.4" color="#71c9c6"/>
<polygon points="86.1,512.4 89.5,513.2 83.4,517.2 80.1,515" color="#72cac0"/>
<polygon points="101.5,505.1 104.9,503.1 98.8,508.5 95.5,509.2" color="#63c5d5"/>
<polygon points="95.5,509.2 98.8,508.5 92.8,514 89.5,513.2" color="#6cc8ce"/>
<polygon points="89.5,513.2 92.8,514 86.8,519.4 83.4,517.2" color="#71c9c6"/>
<polygon points="104.9,503.1 108.2,501 102.2,507.9 98.8,508.5" color="#56c2df"/>
<polygon points="98.8,508.5 102.2,507.9 96.1,514.7 92.8,514" color="#63c5d5"/>
<polygon points="92.8,514 96.1,514.7 90.1,521.6 86.8,519.4" color="#6fc8ca"/>
<path d="M98.2 507.2L108.2 501.0M98.2 507.2L80.1 515.0M80.1 515.0L90.1 521.6" stroke="#001810" stroke-opacity="0.5" stroke-width="0.9" fill="none"/>
<circle cx="98.2" cy="507.2" r="1.05" fill="#111"/>
<circle cx="80.1" cy="515.0" r="1.05" fill="#111"/>
<polygon points="136.3,497.2 139.6,507.2 133.6,506.1 130.3,498.3" color="#53c1e2"/>
<polygon points="130.3,498.3 133.6,506.1 127.6,505 124.2,499.4" color="#4cbfe7"/>
<polygon points="124.2,499.4 127.6,505 121.5,504 118.2,500.5" color="#46bdec"/>
<polygon points="139.6,507.2 143,517.1 136.9,513.9 133.6,506.1" color="#71c9c3"/>
<polygon points="133.6,506.1 136.9,513.9 130.9,510.7 127.6,505" color="#63c5d6"/>
<polygon points="127.6,505 130.9,510.7 124.9,507.5 121.5,504" color="#4fc0e5"/>
<polygon points="143,517.1 146.3,527.1 140.3,521.7 136.9,513.9" color="#81ce9b"/>
<polygon points="136.9,513.9 140.3,521.7 134.2,516.3 130.9,510.7" color="#72cac1"/>
<polygon points="130.9,510.7 134.2,516.3 128.2,510.9 124.9,507.5" color="#58c2de"/>
<path d="M136.3 497.2L146.3 527.1M136.3 497.2L118.2 500.5" stroke="#001810" stroke-opacity="0.5" stroke-width="0.9" fill="none"/>
<circle cx="136.3" cy="497.2" r="1.05" fill="#111"/>
<polygon points="108.2,501 111.5,500.9 105.5,507.8 102.2,507.9" color="#4ec0e6"/>
<polygon points="102.2,507.9 105.5,507.8 99.5,514.8 96.1,514.7" color="#5cc3db"/>
<polygon points="96.1,514.7 99.5,514.8 93.4,521.8 90.1,521.6" color="#6bc7d0"/>
<polygon points="111.5,500.9 114.9,500.7 108.8,507.8 105.5,507.8" color="#4bbfe8"/>
<polygon points="105.5,507.8 108.8,507.8 102.8,514.9 99.5,514.8" color="#57c2de"/>
<polygon points="99.5,514.8 102.8,514.9 96.8,521.9 93.4,521.8" color="#64c5d5"/>
<polygon points="114.9,500.7 118.2,500.5 112.2,507.7 108.8,507.8" color="#48beeb"/>
<polygon points="108.8,507.8 112.2,507.7 106.1,514.9 102.8,514.9" color="#52c1e2"/>
<polygon points="102.8,514.9 106.1,514.9 100.1,522.1 96.8,521.9" color="#5dc4da"/>
<path d="M108.2 501.0L118.2 500.5M108.2 501.0L90.1 521.6M90.1 521.6L100.1 522.1" stroke="#001810" stroke-opacity="0.5" stroke-width="0.9" fill="none"/>
<circle cx="108.2" cy="501.0" r="1.05" fill="#111"/>
<circle cx="90.1" cy="521.6" r="1.05" fill="#111"/>
<polygon points="146.3,527.1 149.6,519.7 143.6,518.6 140.3,521.7" color="#83ce99"/>
<polygon points="140.3,521.7 143.6,518.6 137.6,517.6 134.2,516.3" color="#73cabe"/>
<polygon points="134.2,516.3 137.6,517.6 131.5,516.5 128.2,510.9" color="#5bc3dc"/>
<polygon points="149.6,519.7 153,512.3 146.9,515.5 143.6,518.6" color="#73cabe"/>
<polygon points="143.6,518.6 146.9,515.5 140.9,518.8 137.6,517.6" color="#6ac7d0"/>
<polygon points="137.6,517.6 140.9,518.8 134.9,522.1 131.5,516.5" color="#59c2de"/>
<polygon points="153,512.3 156.3,504.9 150.3,512.5 146.9,515.5" color="#5bc3dc"/>
<polygon points="146.9,515.5 150.3,512.5 144.2,520 140.9,518.8" color="#59c2de"/>
<polygon points="140.9,518.8 144.2,520 138.2,527.6 134.9,522.1" color="#56c2df"/>
<path d="M146.3 527.1L156.3 504.9M146.3 527.1L128.2 510.9M156.3 504.9L138.2 527.6" stroke="#001810" stroke-opacity="0.5" stroke-width="0.9" fill="none"/>
<circle cx="146.3" cy="527.1" r="1.05" fill="#111"/>
<circle cx="156.3" cy="504.9" r="1.05" fill="#111"/>
<polygon points="118.2,500.5 121.5,504 115.5,509.4 112.2,507.7" color="#46bdec"/>
<polygon points="112.2,507.7 115.5,509.4 109.5,514.9 106.1,514.9" color="#4fc0e5"/>
<polygon points="106.1,514.9 109.5,514.9 103.4,520.4 100.1,522.1" color="#57c2df"/>
<polygon points="121.5,504 124.9,507.5 118.8,511.2 115.5,509.4" color="#47beeb"/>
<polygon points="115.5,509.4 118.8,511.2 112.8,514.9 109.5,514.9" color="#4cbfe7"/>
<polygon points="109.5,514.9 112.8,514.9 106.8,518.6 103.4,520.4" color="#51c0e3"/>
<polygon points="124.9,507.5 128.2,510.9 122.2,512.9 118.8,511.2" color="#48beea"/>
<polygon points="118.8,511.2 122.2,512.9 116.1,514.9 112.8,514.9" color="#4abee9"/>
<polygon points="112.8,514.9 116.1,514.9 110.1,516.8 106.8,518.6" color="#4bbfe8"/>
<path d="M118.2 500.5L128.2 510.9M118.2 500.5L100.1 522.1M100.1 522.1L110.1 516.8" stroke="#001810" stroke-opacity="0.5" stroke-width="0.9" fill="none"/>
<circle cx="118.2" cy="500.5" r="1.05" fill="#111"/>
<circle cx="100.1" cy="522.1" r="1.05" fill="#111"/>
<polygon points="128.2,510.9 131.5,516.5 125.5,517 122.2,512.9" color="#4bbfe9"/>
<polygon points="122.2,512.9 125.5,517 119.5,517.6 116.1,514.9" color="#4abee9"/>
<polygon points="116.1,514.9 119.5,517.6 113.4,518.1 110.1,516.8" color="#49beea"/>
<polygon points="131.5,516.5 134.9,522.1 128.8,521.2 125.5,517" color="#4fc0e5"/>
<polygon points="125.5,517 128.8,521.2 122.8,520.3 119.5,517.6" color="#4cbfe7"/>
<polygon points="119.5,517.6 122.8,520.3 116.8,519.4 113.4,518.1" color="#4abee9"/>
<polygon points="134.9,522.1 138.2,527.6 132.2,525.3 128.8,521.2" color="#53c1e2"/>
<polygon points="128.8,521.2 132.2,525.3 126.1,523 122.8,520.3" color="#4fc0e5"/>
<polygon points="122.8,520.3 126.1,523 120.1,520.7 116.8,519.4" color="#4bbfe9"/>
<path d="M128.2 510.9L138.2 527.6M128.2 510.9L110.1 516.8M110.1 516.8L120.1 520.7M138.2 527.6L120.1 520.7" stroke="#001810" stroke-opacity="0.5" stroke-width="0.9" fill="none"/>
<circle cx="128.2" cy="510.9" r="1.05" fill="#111"/>
<circle cx="138.2" cy="527.6" r="1.05" fill="#111"/>
<circle cx="110.1" cy="516.8" r="1.05" fill="#111"/>
<circle cx="120.1" cy="520.7" r="1.05" fill="#111"/>
<text x="0.6" y="10.8" font-size="10.40" font-weight="bold" fill="#111" style="stroke:#111;stroke-width:.5px">A</text>
<text x="279.8" y="10.6" font-size="10.40" font-weight="bold" fill="#111" style="stroke:#111;stroke-width:.5px">B</text>
<text x="1.2" y="187.3" font-size="10.40" font-weight="bold" fill="#111" style="stroke:#111;stroke-width:.5px">C</text>
<text x="280.4" y="187.7" font-size="10.40" font-weight="bold" fill="#111" style="stroke:#111;stroke-width:.5px">D</text>
<text x="0.0" y="416.2" font-size="10.40" font-weight="bold" fill="#111" style="stroke:#111;stroke-width:.5px">E</text>
<text x="279.6" y="415.6" font-size="10.40" font-weight="bold" fill="#111" style="stroke:#111;stroke-width:.5px">F</text>
<text x="76.8" y="11.0" font-size="10.20" fill="#222" class="t" textLength="79.7" lengthAdjust="spacingAndGlyphs">Dex + OTSSP167</text>
<text x="351.0" y="11.0" font-size="10.20" fill="#222" class="t" textLength="98.2" lengthAdjust="spacingAndGlyphs">ASNase + OTSSP167</text>
<text x="75.4" y="187.3" font-size="10.20" fill="#222" class="t" textLength="84.6" lengthAdjust="spacingAndGlyphs">VCN + OTSSP167</text>
<text x="325.0" y="187.7" font-size="10.20" fill="#222" class="t" textLength="154.4" lengthAdjust="spacingAndGlyphs">(VCN/ASNase/DEX) + OTSSP167</text>
<text x="66.2" y="416.2" font-size="10.20" fill="#222" class="t" textLength="108.8" lengthAdjust="spacingAndGlyphs">Etoposide + OTSSP167</text>
<text x="21.3" y="109.4" font-size="6.80" text-anchor="end" fill="#222" >0</text>
<text x="31.3" y="114.8" font-size="6.80" text-anchor="end" fill="#222" >0.009</text>
<text x="41.3" y="120.2" font-size="6.80" text-anchor="end" fill="#222" >0.019</text>
<text x="51.3" y="125.7" font-size="6.80" text-anchor="end" fill="#222" >0.039</text>
<text x="61.3" y="131.1" font-size="6.80" text-anchor="end" fill="#222" >0.78</text>
<text x="71.3" y="136.5" font-size="6.80" text-anchor="end" fill="#222" >0.156</text>
<text x="81.3" y="141.9" font-size="6.80" text-anchor="end" fill="#222" >0.313</text>
<text x="91.3" y="147.3" font-size="6.80" text-anchor="end" fill="#222" >0.625</text>
<text x="101.3" y="152.8" font-size="6.80" text-anchor="end" fill="#222" >1.25</text>
<text x="111.3" y="158.2" font-size="6.80" text-anchor="end" fill="#222" >2.5</text>
<text x="211.7" y="109.3" font-size="6.80" fill="#222" >0</text>
<text x="193.8" y="119.1" font-size="6.80" fill="#222" >3.9</text>
<text x="175.9" y="129.0" font-size="6.80" fill="#222" >7.8</text>
<text x="158.0" y="138.8" font-size="6.80" fill="#222" >15.6</text>
<text x="140.1" y="148.6" font-size="6.80" fill="#222" >31.25</text>
<text x="122.2" y="158.5" font-size="6.80" fill="#222" >62.5</text>
<text x="21.1" y="93.0" font-size="6.80" text-anchor="end" fill="#222" >0</text>
<text x="21.1" y="82.3" font-size="6.80" text-anchor="end" fill="#222" >10</text>
<text x="21.1" y="71.5" font-size="6.80" text-anchor="end" fill="#222" >20</text>
<text x="3.0" y="153.2" font-size="9.60" text-anchor="start" textLength="58.2" lengthAdjust="spacingAndGlyphs" fill="#222" stroke="#222" stroke-width="0.3">Dexamethasone [uM]</text>
<text x="164.5" y="153.2" font-size="9.60" text-anchor="start" textLength="43.5" lengthAdjust="spacingAndGlyphs" fill="#222" stroke="#222" stroke-width="0.3">OTSSP167 [nM]</text>
<text x="7.6" y="80.0" font-size="9.84" text-anchor="middle" textLength="26.6" lengthAdjust="spacingAndGlyphs" fill="#222" stroke="#222" stroke-width="0.3" transform="rotate(-90 7.6 80.0)">% control</text>
<text x="306.5" y="110.2" font-size="6.80" text-anchor="end" fill="#222" >0</text>
<text x="316.5" y="115.5" font-size="6.80" text-anchor="end" fill="#222" >5.625e-06</text>
<text x="326.5" y="120.9" font-size="6.80" text-anchor="end" fill="#222" >5.625e-05</text>
<text x="336.4" y="126.2" font-size="6.80" text-anchor="end" fill="#222" >0.0005625</text>
<text x="346.4" y="131.5" font-size="6.80" text-anchor="end" fill="#222" >0.005625</text>
<text x="356.4" y="136.9" font-size="6.80" text-anchor="end" fill="#222" >0.05625</text>
<text x="366.3" y="142.2" font-size="6.80" text-anchor="end" fill="#222" >0.5625</text>
<text x="376.3" y="147.6" font-size="6.80" text-anchor="end" fill="#222" >5.625</text>
<text x="386.3" y="152.9" font-size="6.80" text-anchor="end" fill="#222" >56.25</text>
<text x="396.2" y="158.2" font-size="6.80" text-anchor="end" fill="#222" >562.5</text>
<text x="496.2" y="109.4" font-size="6.80" fill="#222" >0</text>
<text x="481.2" y="117.5" font-size="6.80" fill="#222" >3.125</text>
<text x="466.1" y="125.7" font-size="6.80" fill="#222" >6.25</text>
<text x="451.0" y="133.9" font-size="6.80" fill="#222" >12.5</text>
<text x="435.9" y="142.1" font-size="6.80" fill="#222" >25</text>
<text x="420.8" y="150.3" font-size="6.80" fill="#222" >50</text>
<text x="405.8" y="158.4" font-size="6.80" fill="#222" >100</text>
<text x="304.9" y="94.4" font-size="6.80" text-anchor="end" fill="#222" >-10</text>
<text x="304.9" y="84.4" font-size="6.80" text-anchor="end" fill="#222" >0</text>
<text x="304.9" y="74.4" font-size="6.80" text-anchor="end" fill="#222" >10</text>
<text x="304.9" y="64.4" font-size="6.80" text-anchor="end" fill="#222" >20</text>
<text x="23.8" y="287.2" font-size="6.80" text-anchor="end" fill="#222" >0</text>
<text x="33.7" y="292.6" font-size="6.80" text-anchor="end" fill="#222" >0.0195313</text>
<text x="43.6" y="298.0" font-size="6.80" text-anchor="end" fill="#222" >0.0390625</text>
<text x="53.6" y="303.4" font-size="6.80" text-anchor="end" fill="#222" >0.078125</text>
<text x="63.5" y="308.8" font-size="6.80" text-anchor="end" fill="#222" >0.15625</text>
<text x="73.4" y="314.3" font-size="6.80" text-anchor="end" fill="#222" >0.3125</text>
<text x="83.3" y="319.7" font-size="6.80" text-anchor="end" fill="#222" >0.625</text>
<text x="93.2" y="325.1" font-size="6.80" text-anchor="end" fill="#222" >1.25</text>
<text x="103.2" y="330.5" font-size="6.80" text-anchor="end" fill="#222" >2.5</text>
<text x="113.1" y="335.9" font-size="6.80" text-anchor="end" fill="#222" >5</text>
<text x="210.9" y="287.1" font-size="6.80" fill="#222" >0</text>
<text x="193.0" y="296.9" font-size="6.80" fill="#222" >3.9</text>
<text x="175.0" y="306.6" font-size="6.80" fill="#222" >7.8</text>
<text x="157.1" y="316.4" font-size="6.80" fill="#222" >15.6</text>
<text x="139.2" y="326.1" font-size="6.80" fill="#222" >31.25</text>
<text x="121.3" y="335.9" font-size="6.80" fill="#222" >62.5</text>
<text x="25.5" y="277.3" font-size="6.80" text-anchor="end" fill="#222" >-10</text>
<text x="25.5" y="268.7" font-size="6.80" text-anchor="end" fill="#222" >0</text>
<text x="25.5" y="260.0" font-size="6.80" text-anchor="end" fill="#222" >10</text>
<text x="25.5" y="251.4" font-size="6.80" text-anchor="end" fill="#222" >20</text>
<text x="25.5" y="242.7" font-size="6.80" text-anchor="end" fill="#222" >30</text>
<text x="42.0" y="336.3" font-size="9.60" text-anchor="start" textLength="44.2" lengthAdjust="spacingAndGlyphs" fill="#222" stroke="#222" stroke-width="0.3">Vincristine [nM]</text>
<text x="144.2" y="336.9" font-size="9.60" text-anchor="start" textLength="43.8" lengthAdjust="spacingAndGlyphs" fill="#222" stroke="#222" stroke-width="0.3">OTSSP167 [nM]</text>
<text x="8.6" y="257.3" font-size="9.84" text-anchor="middle" textLength="27.0" lengthAdjust="spacingAndGlyphs" fill="#222" stroke="#222" stroke-width="0.3" transform="rotate(-90 8.6 257.3)">% control</text>
<text x="294.3" y="152.7" font-size="9.60" text-anchor="start" textLength="54.5" lengthAdjust="spacingAndGlyphs" fill="#222" stroke="#222" stroke-width="0.3">Asparaginase [U/L]</text>
<text x="441.8" y="152.8" font-size="9.60" text-anchor="start" textLength="44.4" lengthAdjust="spacingAndGlyphs" fill="#222" stroke="#222" stroke-width="0.3">OTSSP167 [nM]</text>
<text x="287.8" y="77.1" font-size="9.84" text-anchor="middle" textLength="27.3" lengthAdjust="spacingAndGlyphs" fill="#222" stroke="#222" stroke-width="0.3" transform="rotate(-90 287.8 77.1)">% control</text>
<text x="27.5" y="515.2" font-size="6.80" text-anchor="end" fill="#222" >0</text>
<text x="37.5" y="520.8" font-size="6.80" text-anchor="end" fill="#222" >0.390625</text>
<text x="47.5" y="526.3" font-size="6.80" text-anchor="end" fill="#222" >0.78125</text>
<text x="57.5" y="531.9" font-size="6.80" text-anchor="end" fill="#222" >1.5625</text>
<text x="67.5" y="537.4" font-size="6.80" text-anchor="end" fill="#222" >3.125</text>
<text x="77.5" y="543.0" font-size="6.80" text-anchor="end" fill="#222" >6.25</text>
<text x="87.5" y="548.6" font-size="6.80" text-anchor="end" fill="#222" >12.5</text>
<text x="97.5" y="554.1" font-size="6.80" text-anchor="end" fill="#222" >25</text>
<text x="107.5" y="559.7" font-size="6.80" text-anchor="end" fill="#222" >50</text>
<text x="117.5" y="565.2" font-size="6.80" text-anchor="end" fill="#222" >100</text>
<text x="215.6" y="512.3" font-size="6.80" fill="#222" >0</text>
<text x="197.5" y="522.5" font-size="6.80" fill="#222" >3.9</text>
<text x="179.4" y="532.7" font-size="6.80" fill="#222" >7.8</text>
<text x="161.3" y="542.8" font-size="6.80" fill="#222" >15.6</text>
<text x="143.2" y="553.0" font-size="6.80" fill="#222" >31.25</text>
<text x="125.1" y="563.1" font-size="6.80" fill="#222" >62.5</text>
<text x="24.7" y="507.1" font-size="6.80" text-anchor="end" fill="#222" >-10</text>
<text x="24.7" y="494.9" font-size="6.80" text-anchor="end" fill="#222" >0</text>
<text x="24.7" y="482.7" font-size="6.80" text-anchor="end" fill="#222" >10</text>
<text x="24.7" y="470.5" font-size="6.80" text-anchor="end" fill="#222" >20</text>
<text x="29.5" y="558.7" font-size="9.60" text-anchor="start" textLength="43.0" lengthAdjust="spacingAndGlyphs" fill="#222" stroke="#222" stroke-width="0.3">Etoposide [nM]</text>
<text x="171.2" y="559.2" font-size="9.60" text-anchor="start" textLength="43.8" lengthAdjust="spacingAndGlyphs" fill="#222" stroke="#222" stroke-width="0.3">OTSSP167 [nM]</text>
<text x="8.6" y="489.3" font-size="9.84" text-anchor="middle" textLength="31.7" lengthAdjust="spacingAndGlyphs" fill="#222" stroke="#222" stroke-width="0.3" transform="rotate(-90 8.6 489.3)">% control</text>
<linearGradient id="cb1" x1="0" y1="0" x2="0" y2="1"><stop offset="0.000" stop-color="#281c6e"/><stop offset="0.090" stop-color="#341e84"/><stop offset="0.200" stop-color="#323ea5"/><stop offset="0.270" stop-color="#3278cd"/><stop offset="0.336" stop-color="#46b2e1"/><stop offset="0.390" stop-color="#69c3c3"/><stop offset="0.460" stop-color="#82c87d"/><stop offset="0.550" stop-color="#bed23c"/><stop offset="0.610" stop-color="#f0de16"/><stop offset="0.670" stop-color="#f2a01e"/><stop offset="0.750" stop-color="#e65a1e"/><stop offset="0.850" stop-color="#dc1e1e"/><stop offset="0.950" stop-color="#960a14"/><stop offset="1.000" stop-color="#500a14"/></linearGradient>
<rect x="504.9" y="54.9" width="4.8" height="101.0" fill="url(#cb1)"/>
<text x="518.2" y="76.6" font-size="7" text-anchor="middle" fill="#555" class="t" transform="rotate(-90 518.2 76.6)">Synergy</text>
<text x="518.2" y="131.0" font-size="7" text-anchor="middle" fill="#555" class="t" transform="rotate(-90 518.2 131.0)">Antagonism</text>
<linearGradient id="cb2" x1="0" y1="0" x2="0" y2="1"><stop offset="0.000" stop-color="#281c6e"/><stop offset="0.090" stop-color="#341e84"/><stop offset="0.200" stop-color="#323ea5"/><stop offset="0.270" stop-color="#3278cd"/><stop offset="0.336" stop-color="#46b2e1"/><stop offset="0.390" stop-color="#69c3c3"/><stop offset="0.460" stop-color="#82c87d"/><stop offset="0.550" stop-color="#bed23c"/><stop offset="0.610" stop-color="#f0de16"/><stop offset="0.670" stop-color="#f2a01e"/><stop offset="0.750" stop-color="#e65a1e"/><stop offset="0.850" stop-color="#dc1e1e"/><stop offset="0.950" stop-color="#960a14"/><stop offset="1.000" stop-color="#500a14"/></linearGradient>
<rect x="504.4" y="216.8" width="4.9" height="101.5" fill="url(#cb2)"/>
<text x="518.6" y="237.7" font-size="7" text-anchor="middle" fill="#555" class="t" transform="rotate(-90 518.6 237.7)">Synergy</text>
<text x="518.6" y="293.4" font-size="7" text-anchor="middle" fill="#555" class="t" transform="rotate(-90 518.6 293.4)">Antagonism</text>
<linearGradient id="cb3" x1="0" y1="0" x2="0" y2="1"><stop offset="0.000" stop-color="#281c6e"/><stop offset="0.090" stop-color="#341e84"/><stop offset="0.200" stop-color="#323ea5"/><stop offset="0.270" stop-color="#3278cd"/><stop offset="0.336" stop-color="#46b2e1"/><stop offset="0.390" stop-color="#69c3c3"/><stop offset="0.460" stop-color="#82c87d"/><stop offset="0.550" stop-color="#bed23c"/><stop offset="0.610" stop-color="#f0de16"/><stop offset="0.670" stop-color="#f2a01e"/><stop offset="0.750" stop-color="#e65a1e"/><stop offset="0.850" stop-color="#dc1e1e"/><stop offset="0.950" stop-color="#960a14"/><stop offset="1.000" stop-color="#500a14"/></linearGradient>
<rect x="226.8" y="434.9" width="4.7" height="99.5" fill="url(#cb3)"/>
<text x="240.4" y="455.9" font-size="7" text-anchor="middle" fill="#555" class="t" transform="rotate(-90 240.4 455.9)">Synergy</text>
<text x="240.4" y="511.3" font-size="7" text-anchor="middle" fill="#555" class="t" transform="rotate(-90 240.4 511.3)">Antagonism</text>
<path d="M311.1 420.1L311.1 531.1L480.4 531.1M311.1 531.1l-2.8 0M311.1 484.9l-2.8 0M311.1 438.7l-2.8 0M311.1 508.0l-1.8 0M311.1 461.8l-1.8 0M311.1 531.1l0 2.8M366.7 531.1l0 2.8M422.3 531.1l0 2.8M477.9 531.1l0 2.8" stroke="#222" stroke-width="1.1" fill="none"/>
<text x="305.0" y="533.5" font-size="6.60" text-anchor="end" fill="#333" >0</text>
<text x="305.0" y="487.3" font-size="6.60" text-anchor="end" fill="#333" >50</text>
<text x="305.0" y="441.1" font-size="6.60" text-anchor="end" fill="#333" >100</text>
<text x="311.1" y="544.3" font-size="6.60" text-anchor="middle" fill="#333" >1</text>
<text x="366.7" y="544.3" font-size="6.60" text-anchor="middle" fill="#333" >10</text>
<text x="422.3" y="544.3" font-size="6.60" text-anchor="middle" fill="#333" >100</text>
<text x="477.9" y="544.3" font-size="6.60" text-anchor="middle" fill="#333" >1000</text>
<text x="395.5" y="554.6" font-size="9.84" text-anchor="middle" textLength="44.0" lengthAdjust="spacingAndGlyphs" fill="#222" stroke="#222" stroke-width="0.3">OTSSP167 (nM)</text>
<text x="288.6" y="475.3" font-size="10.08" text-anchor="middle" textLength="47.0" lengthAdjust="spacingAndGlyphs" fill="#222" stroke="#222" stroke-width="0.3" transform="rotate(-90 288.6 475.3)">Cell viability (%)</text>
<path d="M311.5 437.2L345 437.4L345 440.6L311.5 440.8Z" fill="#d8a8b8" opacity="0.8"/>
<polyline points="311.1,439.1 313.6,439.1 316.2,439.1 318.7,439.1 321.3,439.2 323.8,439.2 326.4,439.2 328.9,439.3 331.4,439.3 334.0,439.4 336.5,439.4 339.1,439.5 341.6,439.5 344.2,439.6 346.7,439.7 349.3,439.8 351.8,439.9 354.3,440.0 356.9,440.1 359.4,440.3 362.0,440.5 364.5,440.7 367.1,440.9 369.6,441.1 372.1,441.4 374.7,441.7 377.2,442.1 379.8,442.5 382.3,442.9 384.9,443.4 387.4,444.0 389.9,444.6 392.5,445.3 395.0,446.1 397.6,446.9 400.1,447.9 402.7,449.0 405.2,450.2 407.8,451.5 410.3,452.9 412.8,454.5 415.4,456.3 417.9,458.2 420.5,460.3 423.0,462.6 425.6,465.1 428.1,467.7 430.6,470.5 433.2,473.6 435.7,476.8 438.3,480.1 440.8,483.6 443.4,487.3 445.9,491.0 448.4,494.9 451.0,498.8 453.5,502.8 456.1,506.7 458.6,510.7 461.2,514.5" fill="none" stroke="#c8102e" stroke-width="1.3"/>
<polyline points="311.1,437.6 313.6,437.6 316.2,437.6 318.7,437.6 321.3,437.6 323.8,437.6 326.4,437.6 328.9,437.6 331.4,437.6 334.0,437.6 336.5,437.7 339.1,437.7 341.6,437.7 344.2,437.7 346.7,437.7 349.3,437.7 351.8,437.8 354.3,437.8 356.9,437.8 359.4,437.9 362.0,437.9 364.5,438.0 367.1,438.0 369.6,438.1 372.1,438.1 374.7,438.2 377.2,438.3 379.8,438.4 382.3,438.6 384.9,438.7 387.4,438.9 389.9,439.1 392.5,439.3 395.0,439.5 397.6,439.8 400.1,440.1 402.7,440.4 405.2,440.8 407.8,441.2 410.3,441.7 412.8,442.2 415.4,442.8 417.9,443.5 420.5,444.2 423.0,445.0 425.6,445.9 428.1,446.8 430.6,447.8 433.2,448.9 435.7,450.1 438.3,451.3 440.8,452.5 443.4,453.8 445.9,455.2 448.4,456.5 451.0,457.9 453.5,459.2 456.1,460.6 458.6,461.9 461.2,463.2" fill="none" stroke="#1f5278" stroke-width="1.2"/>
<path d="M327.3 439.8L327.3 447.5M325.8 439.8l3 0M325.8 447.5l3 0" stroke="#c8102e" stroke-width="0.9" fill="none"/>
<circle cx="327.3" cy="442.7" r="1.5" fill="#c8102e"/>
<path d="M344.0 432.0L344.0 444.6M342.5 432.0l3 0M342.5 444.6l3 0" stroke="#c8102e" stroke-width="0.9" fill="none"/>
<circle cx="344.0" cy="438.5" r="1.5" fill="#c8102e"/>
<path d="M360.7 429.6L360.7 448.5M359.2 429.6l3 0M359.2 448.5l3 0" stroke="#c8102e" stroke-width="0.9" fill="none"/>
<circle cx="360.7" cy="439.4" r="1.5" fill="#c8102e"/>
<path d="M377.5 422.5L377.5 448.5M376.0 422.5l3 0M376.0 448.5l3 0" stroke="#c8102e" stroke-width="0.9" fill="none"/>
<circle cx="377.5" cy="435.6" r="1.5" fill="#c8102e"/>
<path d="M394.2 436.5L394.2 451.3M392.7 436.5l3 0M392.7 451.3l3 0" stroke="#c8102e" stroke-width="0.9" fill="none"/>
<circle cx="394.2" cy="444.2" r="1.5" fill="#c8102e"/>
<path d="M411.0 447.7L411.0 462.2M409.5 447.7l3 0M409.5 462.2l3 0" stroke="#c8102e" stroke-width="0.9" fill="none"/>
<circle cx="411.0" cy="454.5" r="1.5" fill="#c8102e"/>
<path d="M427.7 459.7L427.7 476.3M426.2 459.7l3 0M426.2 476.3l3 0" stroke="#c8102e" stroke-width="0.9" fill="none"/>
<circle cx="427.7" cy="467.5" r="1.5" fill="#c8102e"/>
<path d="M444.4 481.6L444.4 494.0M442.9 481.6l3 0M442.9 494.0l3 0" stroke="#c8102e" stroke-width="0.9" fill="none"/>
<circle cx="444.4" cy="488.0" r="1.5" fill="#c8102e"/>
<circle cx="461.2" cy="514.5" r="1.5" fill="#c8102e"/>
<circle cx="327.3" cy="438.1" r="1.5" fill="#1f5278"/>
<path d="M344.0 434.5L344.0 438.5M342.5 434.5l3 0M342.5 438.5l3 0" stroke="#1f5278" stroke-width="0.9" fill="none"/>
<circle cx="344.0" cy="436.5" r="1.5" fill="#1f5278"/>
<circle cx="360.7" cy="437.3" r="1.5" fill="#1f5278"/>
<circle cx="377.5" cy="436.9" r="1.5" fill="#1f5278"/>
<circle cx="394.2" cy="439.8" r="1.5" fill="#1f5278"/>
<circle cx="411.0" cy="441.7" r="1.5" fill="#1f5278"/>
<path d="M427.7 441.0L427.7 450.3M426.2 441.0l3 0M426.2 450.3l3 0" stroke="#1f5278" stroke-width="0.9" fill="none"/>
<circle cx="427.7" cy="445.7" r="1.5" fill="#1f5278"/>
<circle cx="444.4" cy="455.0" r="1.5" fill="#1f5278"/>
<circle cx="461.2" cy="463.0" r="1.5" fill="#1f5278"/>
<path d="M326 468.5h11.5" stroke="#1f5278" stroke-width="1.2"/><circle cx="331.7" cy="468.5" r="1.5" fill="#1f5278"/>
<path d="M326 479h11.5" stroke="#c8102e" stroke-width="1.2"/><circle cx="331.7" cy="479" r="1.5" fill="#c8102e"/>
<text x="341.0" y="471.2" font-size="7.40" fill="#333" >NBM</text>
<text x="341.0" y="481.7" font-size="7.40" fill="#333" >PDX01</text>
<text x="424.5" y="458.6" font-size="8.2" fill="#111">**</text>
<text x="438.3" y="481.6" font-size="8.2" fill="#111">****</text>
<text x="454.6" y="505.5" font-size="8.2" fill="#111">****</text>
<text x="497.0" y="284.0" font-size="6.80" fill="#222" >0</text>
<text x="479.3" y="293.5" font-size="6.80" fill="#222" >3.125</text>
<text x="461.5" y="303.1" font-size="6.80" fill="#222" >6.25</text>
<text x="443.8" y="312.6" font-size="6.80" fill="#222" >12.5</text>
<text x="426.1" y="322.2" font-size="6.80" fill="#222" >25</text>
<text x="408.3" y="331.7" font-size="6.80" fill="#222" >50</text>
<text x="306.5" y="275.7" font-size="6.80" text-anchor="end" fill="#222" >0</text>
<text x="306.5" y="266.7" font-size="6.80" text-anchor="end" fill="#222" >10</text>
<text x="306.5" y="257.7" font-size="6.80" text-anchor="end" fill="#222" >20</text>
<text x="306.5" y="248.7" font-size="6.80" text-anchor="end" fill="#222" >30</text>
<text x="309.5" y="284.2" font-size="6.80" text-anchor="end" fill="#222" transform="rotate(-36 309.5 284.2)">0</text>
<text x="319.6" y="289.5" font-size="6.80" text-anchor="end" fill="#222" transform="rotate(-36 319.6 289.5)">0.019</text>
<text x="329.7" y="294.8" font-size="6.80" text-anchor="end" fill="#222" transform="rotate(-36 329.7 294.8)">0.039</text>
<text x="339.8" y="300.1" font-size="6.80" text-anchor="end" fill="#222" transform="rotate(-36 339.8 300.1)">0.078</text>
<text x="349.9" y="305.4" font-size="6.80" text-anchor="end" fill="#222" transform="rotate(-36 349.9 305.4)">0.156</text>
<text x="359.9" y="310.8" font-size="6.80" text-anchor="end" fill="#222" transform="rotate(-36 359.9 310.8)">0.312</text>
<text x="370.0" y="316.1" font-size="6.80" text-anchor="end" fill="#222" transform="rotate(-36 370.0 316.1)">0.625</text>
<text x="380.1" y="321.4" font-size="6.80" text-anchor="end" fill="#222" transform="rotate(-36 380.1 321.4)">1.250</text>
<text x="390.2" y="326.7" font-size="6.80" text-anchor="end" fill="#222" transform="rotate(-36 390.2 326.7)">2.500</text>
<text x="400.3" y="332.0" font-size="6.80" text-anchor="end" fill="#222" transform="rotate(-36 400.3 332.0)">5.000</text>
<path d="M312.3 279.6L403.1 327.4M312.3 279.6l-1.8 1.0M322.4 284.9l-1.8 1.0M332.5 290.2l-1.8 1.0M342.6 295.5l-1.8 1.0M352.7 300.8l-1.8 1.0M362.8 306.2l-1.8 1.0M372.8 311.5l-1.8 1.0M382.9 316.8l-1.8 1.0M393.0 322.1l-1.8 1.0M403.1 327.4l-1.8 1.0" stroke="#333" stroke-width="1.2" fill="none"/>
<path d="M284.5 297.2L375.3 345.0M284.5 297.2l-1.8 1.0M294.6 302.5l-1.8 1.0M304.7 307.8l-1.8 1.0M314.8 313.1l-1.8 1.0M324.9 318.4l-1.8 1.0M334.9 323.8l-1.8 1.0M345.0 329.1l-1.8 1.0M355.1 334.4l-1.8 1.0M365.2 339.7l-1.8 1.0M375.3 345.0l-1.8 1.0" stroke="#333" stroke-width="1.2" fill="none"/>
<text x="281.7" y="301.8" font-size="6.80" text-anchor="end" fill="#222" transform="rotate(-36 281.7 301.8)">0</text>
<text x="291.8" y="307.1" font-size="6.80" text-anchor="end" fill="#222" transform="rotate(-36 291.8 307.1)">0.003</text>
<text x="301.9" y="312.4" font-size="6.80" text-anchor="end" fill="#222" transform="rotate(-36 301.9 312.4)">0.007</text>
<text x="312.0" y="317.7" font-size="6.80" text-anchor="end" fill="#222" transform="rotate(-36 312.0 317.7)">0.015</text>
<text x="322.1" y="323.0" font-size="6.80" text-anchor="end" fill="#222" transform="rotate(-36 322.1 323.0)">0.031</text>
<text x="332.1" y="328.4" font-size="6.80" text-anchor="end" fill="#222" transform="rotate(-36 332.1 328.4)">0.062</text>
<text x="342.2" y="333.7" font-size="6.80" text-anchor="end" fill="#222" transform="rotate(-36 342.2 333.7)">0.125</text>
<text x="352.3" y="339.0" font-size="6.80" text-anchor="end" fill="#222" transform="rotate(-36 352.3 339.0)">0.250</text>
<text x="362.4" y="344.3" font-size="6.80" text-anchor="end" fill="#222" transform="rotate(-36 362.4 344.3)">0.500</text>
<text x="372.5" y="349.6" font-size="6.80" text-anchor="end" fill="#222" transform="rotate(-36 372.5 349.6)">1.000</text>
<path d="M258.2 314.6L349.0 362.4M258.2 314.6l-1.8 1.0M268.3 319.9l-1.8 1.0M278.4 325.2l-1.8 1.0M288.5 330.5l-1.8 1.0M298.6 335.8l-1.8 1.0M308.6 341.2l-1.8 1.0M318.7 346.5l-1.8 1.0M328.8 351.8l-1.8 1.0M338.9 357.1l-1.8 1.0M349.0 362.4l-1.8 1.0" stroke="#333" stroke-width="1.2" fill="none"/>
<text x="255.4" y="319.2" font-size="6.80" text-anchor="end" fill="#222" transform="rotate(-36 255.4 319.2)">0</text>
<text x="265.5" y="324.5" font-size="6.80" text-anchor="end" fill="#222" transform="rotate(-36 265.5 324.5)">0.009</text>
<text x="275.6" y="329.8" font-size="6.80" text-anchor="end" fill="#222" transform="rotate(-36 275.6 329.8)">0.019</text>
<text x="285.7" y="335.1" font-size="6.80" text-anchor="end" fill="#222" transform="rotate(-36 285.7 335.1)">0.039</text>
<text x="295.8" y="340.4" font-size="6.80" text-anchor="end" fill="#222" transform="rotate(-36 295.8 340.4)">0.078</text>
<text x="305.8" y="345.8" font-size="6.80" text-anchor="end" fill="#222" transform="rotate(-36 305.8 345.8)">0.156</text>
<text x="315.9" y="351.1" font-size="6.80" text-anchor="end" fill="#222" transform="rotate(-36 315.9 351.1)">0.312</text>
<text x="326.0" y="356.4" font-size="6.80" text-anchor="end" fill="#222" transform="rotate(-36 326.0 356.4)">0.625</text>
<text x="336.1" y="361.7" font-size="6.80" text-anchor="end" fill="#222" transform="rotate(-36 336.1 361.7)">1.250</text>
<text x="346.2" y="367.0" font-size="6.80" text-anchor="end" fill="#222" transform="rotate(-36 346.2 367.0)">2.500</text>
<text x="395.0" y="344.6" font-size="9.12" text-anchor="start" textLength="27.8" lengthAdjust="spacingAndGlyphs" fill="#222" stroke="#222" stroke-width="0.3" transform="rotate(36 395.0 344.6)">VCN (nM)</text>
<text x="369.6" y="360.6" font-size="9.12" text-anchor="start" textLength="41.5" lengthAdjust="spacingAndGlyphs" fill="#222" stroke="#222" stroke-width="0.3" transform="rotate(36 369.6 360.6)">ASNase (U/L)</text>
<text x="343.4" y="379.2" font-size="9.12" text-anchor="start" textLength="27.5" lengthAdjust="spacingAndGlyphs" fill="#222" stroke="#222" stroke-width="0.3" transform="rotate(36 343.4 379.2)">DEX (uM)</text>
<text x="446.2" y="327.5" font-size="9.60" text-anchor="start" textLength="43.8" lengthAdjust="spacingAndGlyphs" fill="#222" stroke="#222" stroke-width="0.3">OTSSP167 [nM]</text>
<text x="292.6" y="260.0" font-size="9.84" text-anchor="middle" textLength="27.0" lengthAdjust="spacingAndGlyphs" fill="#222" stroke="#222" stroke-width="0.3" transform="rotate(-90 292.6 260.0)">% control</text>
</svg>
</body></html>
